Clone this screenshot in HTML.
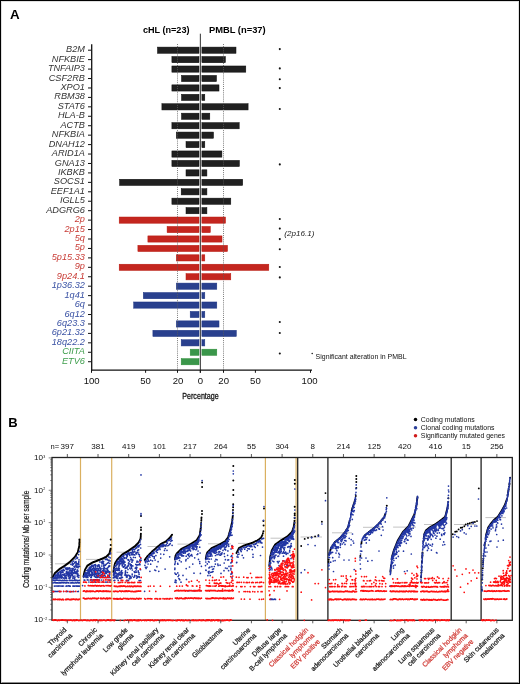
<!DOCTYPE html>
<html><head><meta charset="utf-8"><style>
html,body{margin:0;padding:0;background:#fff;}
body{width:520px;height:684px;overflow:hidden;position:relative;font-family:"Liberation Sans", sans-serif;}
svg{position:absolute;left:0;top:0;will-change:transform;}
svg text{font-family:"Liberation Sans", sans-serif;}
.frame{position:absolute;left:0;top:0;width:520px;height:684px;box-sizing:border-box;border:1px solid #000;}
.frame2{position:absolute;left:1px;top:1px;width:518px;height:682px;box-sizing:border-box;border:1px solid rgba(0,0,0,0.12);border-bottom-color:rgba(0,0,0,0.45);}
</style></head><body>
<svg width="520" height="684" viewBox="0 0 520 684">
<text x="10.00" y="18.90" font-size="13.4" text-anchor="start" font-weight="bold" font-style="normal" fill="#000" >A</text>
<text x="142.90" y="33.00" font-size="8.6" text-anchor="start" font-weight="bold" font-style="normal" fill="#000" textLength="46.6" lengthAdjust="spacingAndGlyphs">cHL (n=23)</text>
<text x="208.90" y="33.00" font-size="8.6" text-anchor="start" font-weight="bold" font-style="normal" fill="#000" textLength="56.8" lengthAdjust="spacingAndGlyphs">PMBL (n=37)</text>
<rect x="157.50" y="47.10" width="41.50" height="6.2" fill="#202020" stroke="#0a0a0a" stroke-width="0.5"/>
<rect x="201.9" y="47.10" width="34.10" height="6.2" fill="#202020" stroke="#0a0a0a" stroke-width="0.5"/>
<text transform="translate(84.90 52.25) scale(1.02 1)" font-size="9.0" text-anchor="end" font-weight="normal" font-style="italic" fill="#333333">B2M</text>
<rect x="171.90" y="56.54" width="27.10" height="6.2" fill="#202020" stroke="#0a0a0a" stroke-width="0.5"/>
<rect x="201.9" y="56.54" width="23.50" height="6.2" fill="#202020" stroke="#0a0a0a" stroke-width="0.5"/>
<text transform="translate(84.90 61.69) scale(1.02 1)" font-size="9.0" text-anchor="end" font-weight="normal" font-style="italic" fill="#333333">NFKBIE</text>
<rect x="171.90" y="65.98" width="27.10" height="6.2" fill="#202020" stroke="#0a0a0a" stroke-width="0.5"/>
<rect x="201.9" y="65.98" width="43.90" height="6.2" fill="#202020" stroke="#0a0a0a" stroke-width="0.5"/>
<text transform="translate(84.90 71.13) scale(1.02 1)" font-size="9.0" text-anchor="end" font-weight="normal" font-style="italic" fill="#333333">TNFAIP3</text>
<rect x="181.50" y="75.42" width="17.50" height="6.2" fill="#202020" stroke="#0a0a0a" stroke-width="0.5"/>
<rect x="201.9" y="75.42" width="14.60" height="6.2" fill="#202020" stroke="#0a0a0a" stroke-width="0.5"/>
<text transform="translate(84.90 80.57) scale(1.02 1)" font-size="9.0" text-anchor="end" font-weight="normal" font-style="italic" fill="#333333">CSF2RB</text>
<rect x="171.90" y="84.86" width="27.10" height="6.2" fill="#202020" stroke="#0a0a0a" stroke-width="0.5"/>
<rect x="201.9" y="84.86" width="17.10" height="6.2" fill="#202020" stroke="#0a0a0a" stroke-width="0.5"/>
<text transform="translate(84.90 90.01) scale(1.02 1)" font-size="9.0" text-anchor="end" font-weight="normal" font-style="italic" fill="#333333">XPO1</text>
<rect x="181.50" y="94.30" width="17.50" height="6.2" fill="#202020" stroke="#0a0a0a" stroke-width="0.5"/>
<rect x="201.9" y="94.30" width="2.90" height="6.2" fill="#202020" stroke="#0a0a0a" stroke-width="0.5"/>
<text transform="translate(84.90 99.45) scale(1.02 1)" font-size="9.0" text-anchor="end" font-weight="normal" font-style="italic" fill="#333333">RBM38</text>
<rect x="161.90" y="103.74" width="37.10" height="6.2" fill="#202020" stroke="#0a0a0a" stroke-width="0.5"/>
<rect x="201.9" y="103.74" width="46.20" height="6.2" fill="#202020" stroke="#0a0a0a" stroke-width="0.5"/>
<text transform="translate(84.90 108.89) scale(1.02 1)" font-size="9.0" text-anchor="end" font-weight="normal" font-style="italic" fill="#333333">STAT6</text>
<rect x="181.50" y="113.18" width="17.50" height="6.2" fill="#202020" stroke="#0a0a0a" stroke-width="0.5"/>
<rect x="201.9" y="113.18" width="7.90" height="6.2" fill="#202020" stroke="#0a0a0a" stroke-width="0.5"/>
<text transform="translate(84.90 118.33) scale(1.02 1)" font-size="9.0" text-anchor="end" font-weight="normal" font-style="italic" fill="#333333">HLA-B</text>
<rect x="171.90" y="122.62" width="27.10" height="6.2" fill="#202020" stroke="#0a0a0a" stroke-width="0.5"/>
<rect x="201.9" y="122.62" width="37.30" height="6.2" fill="#202020" stroke="#0a0a0a" stroke-width="0.5"/>
<text transform="translate(84.90 127.77) scale(1.02 1)" font-size="9.0" text-anchor="end" font-weight="normal" font-style="italic" fill="#333333">ACTB</text>
<rect x="176.30" y="132.06" width="22.70" height="6.2" fill="#202020" stroke="#0a0a0a" stroke-width="0.5"/>
<rect x="201.9" y="132.06" width="11.60" height="6.2" fill="#202020" stroke="#0a0a0a" stroke-width="0.5"/>
<text transform="translate(84.90 137.21) scale(1.02 1)" font-size="9.0" text-anchor="end" font-weight="normal" font-style="italic" fill="#333333">NFKBIA</text>
<rect x="186.00" y="141.50" width="13.00" height="6.2" fill="#202020" stroke="#0a0a0a" stroke-width="0.5"/>
<rect x="201.9" y="141.50" width="2.90" height="6.2" fill="#202020" stroke="#0a0a0a" stroke-width="0.5"/>
<text transform="translate(84.90 146.65) scale(1.02 1)" font-size="9.0" text-anchor="end" font-weight="normal" font-style="italic" fill="#333333">DNAH12</text>
<rect x="171.90" y="150.94" width="27.10" height="6.2" fill="#202020" stroke="#0a0a0a" stroke-width="0.5"/>
<rect x="201.9" y="150.94" width="20.00" height="6.2" fill="#202020" stroke="#0a0a0a" stroke-width="0.5"/>
<text transform="translate(84.90 156.09) scale(1.02 1)" font-size="9.0" text-anchor="end" font-weight="normal" font-style="italic" fill="#333333">ARID1A</text>
<rect x="171.90" y="160.38" width="27.10" height="6.2" fill="#202020" stroke="#0a0a0a" stroke-width="0.5"/>
<rect x="201.9" y="160.38" width="37.50" height="6.2" fill="#202020" stroke="#0a0a0a" stroke-width="0.5"/>
<text transform="translate(84.90 165.53) scale(1.02 1)" font-size="9.0" text-anchor="end" font-weight="normal" font-style="italic" fill="#333333">GNA13</text>
<rect x="186.00" y="169.82" width="13.00" height="6.2" fill="#202020" stroke="#0a0a0a" stroke-width="0.5"/>
<rect x="201.9" y="169.82" width="5.00" height="6.2" fill="#202020" stroke="#0a0a0a" stroke-width="0.5"/>
<text transform="translate(84.90 174.97) scale(1.02 1)" font-size="9.0" text-anchor="end" font-weight="normal" font-style="italic" fill="#333333">IKBKB</text>
<rect x="119.60" y="179.26" width="79.40" height="6.2" fill="#202020" stroke="#0a0a0a" stroke-width="0.5"/>
<rect x="201.9" y="179.26" width="40.80" height="6.2" fill="#202020" stroke="#0a0a0a" stroke-width="0.5"/>
<text transform="translate(84.90 184.41) scale(1.02 1)" font-size="9.0" text-anchor="end" font-weight="normal" font-style="italic" fill="#333333">SOCS1</text>
<rect x="181.20" y="188.70" width="17.80" height="6.2" fill="#202020" stroke="#0a0a0a" stroke-width="0.5"/>
<rect x="201.9" y="188.70" width="5.00" height="6.2" fill="#202020" stroke="#0a0a0a" stroke-width="0.5"/>
<text transform="translate(84.90 193.85) scale(1.02 1)" font-size="9.0" text-anchor="end" font-weight="normal" font-style="italic" fill="#333333">EEF1A1</text>
<rect x="171.90" y="198.14" width="27.10" height="6.2" fill="#202020" stroke="#0a0a0a" stroke-width="0.5"/>
<rect x="201.9" y="198.14" width="28.90" height="6.2" fill="#202020" stroke="#0a0a0a" stroke-width="0.5"/>
<text transform="translate(84.90 203.29) scale(1.02 1)" font-size="9.0" text-anchor="end" font-weight="normal" font-style="italic" fill="#333333">IGLL5</text>
<rect x="186.00" y="207.58" width="13.00" height="6.2" fill="#202020" stroke="#0a0a0a" stroke-width="0.5"/>
<rect x="201.9" y="207.58" width="5.00" height="6.2" fill="#202020" stroke="#0a0a0a" stroke-width="0.5"/>
<text transform="translate(84.90 212.73) scale(1.02 1)" font-size="9.0" text-anchor="end" font-weight="normal" font-style="italic" fill="#333333">ADGRG6</text>
<rect x="119.20" y="217.02" width="79.80" height="6.2" fill="#c4261f" stroke="#b8160c" stroke-width="0.5"/>
<rect x="201.9" y="217.02" width="23.60" height="6.2" fill="#c4261f" stroke="#b8160c" stroke-width="0.5"/>
<text transform="translate(84.90 222.17) scale(1.02 1)" font-size="9.0" text-anchor="end" font-weight="normal" font-style="italic" fill="#c83a34">2p</text>
<rect x="167.10" y="226.46" width="31.90" height="6.2" fill="#c4261f" stroke="#b8160c" stroke-width="0.5"/>
<rect x="201.9" y="226.46" width="8.40" height="6.2" fill="#c4261f" stroke="#b8160c" stroke-width="0.5"/>
<text transform="translate(84.90 231.61) scale(1.02 1)" font-size="9.0" text-anchor="end" font-weight="normal" font-style="italic" fill="#c83a34">2p15</text>
<rect x="147.90" y="235.90" width="51.10" height="6.2" fill="#c4261f" stroke="#b8160c" stroke-width="0.5"/>
<rect x="201.9" y="235.90" width="20.10" height="6.2" fill="#c4261f" stroke="#b8160c" stroke-width="0.5"/>
<text transform="translate(84.90 241.05) scale(1.02 1)" font-size="9.0" text-anchor="end" font-weight="normal" font-style="italic" fill="#c83a34">5q</text>
<rect x="137.90" y="245.34" width="61.10" height="6.2" fill="#c4261f" stroke="#b8160c" stroke-width="0.5"/>
<rect x="201.9" y="245.34" width="25.60" height="6.2" fill="#c4261f" stroke="#b8160c" stroke-width="0.5"/>
<text transform="translate(84.90 250.49) scale(1.02 1)" font-size="9.0" text-anchor="end" font-weight="normal" font-style="italic" fill="#c83a34">5p</text>
<rect x="176.30" y="254.78" width="22.70" height="6.2" fill="#c4261f" stroke="#b8160c" stroke-width="0.5"/>
<rect x="201.9" y="254.78" width="2.90" height="6.2" fill="#c4261f" stroke="#b8160c" stroke-width="0.5"/>
<text transform="translate(84.90 259.93) scale(1.02 1)" font-size="9.0" text-anchor="end" font-weight="normal" font-style="italic" fill="#c83a34">5p15.33</text>
<rect x="119.20" y="264.22" width="79.80" height="6.2" fill="#c4261f" stroke="#b8160c" stroke-width="0.5"/>
<rect x="201.9" y="264.22" width="66.90" height="6.2" fill="#c4261f" stroke="#b8160c" stroke-width="0.5"/>
<text transform="translate(84.90 269.37) scale(1.02 1)" font-size="9.0" text-anchor="end" font-weight="normal" font-style="italic" fill="#c83a34">9p</text>
<rect x="186.00" y="273.66" width="13.00" height="6.2" fill="#c4261f" stroke="#b8160c" stroke-width="0.5"/>
<rect x="201.9" y="273.66" width="28.90" height="6.2" fill="#c4261f" stroke="#b8160c" stroke-width="0.5"/>
<text transform="translate(84.90 278.81) scale(1.02 1)" font-size="9.0" text-anchor="end" font-weight="normal" font-style="italic" fill="#c83a34">9p24.1</text>
<rect x="176.30" y="283.10" width="22.70" height="6.2" fill="#29408e" stroke="#1b3282" stroke-width="0.5"/>
<rect x="201.9" y="283.10" width="14.90" height="6.2" fill="#29408e" stroke="#1b3282" stroke-width="0.5"/>
<text transform="translate(84.90 288.25) scale(1.02 1)" font-size="9.0" text-anchor="end" font-weight="normal" font-style="italic" fill="#3a52a4">1p36.32</text>
<rect x="143.30" y="292.54" width="55.70" height="6.2" fill="#29408e" stroke="#1b3282" stroke-width="0.5"/>
<rect x="201.9" y="292.54" width="2.90" height="6.2" fill="#29408e" stroke="#1b3282" stroke-width="0.5"/>
<text transform="translate(84.90 297.69) scale(1.02 1)" font-size="9.0" text-anchor="end" font-weight="normal" font-style="italic" fill="#3a52a4">1q41</text>
<rect x="133.70" y="301.98" width="65.30" height="6.2" fill="#29408e" stroke="#1b3282" stroke-width="0.5"/>
<rect x="201.9" y="301.98" width="14.90" height="6.2" fill="#29408e" stroke="#1b3282" stroke-width="0.5"/>
<text transform="translate(84.90 307.13) scale(1.02 1)" font-size="9.0" text-anchor="end" font-weight="normal" font-style="italic" fill="#3a52a4">6q</text>
<rect x="190.20" y="311.42" width="8.80" height="6.2" fill="#29408e" stroke="#1b3282" stroke-width="0.5"/>
<rect x="201.9" y="311.42" width="2.90" height="6.2" fill="#29408e" stroke="#1b3282" stroke-width="0.5"/>
<text transform="translate(84.90 316.57) scale(1.02 1)" font-size="9.0" text-anchor="end" font-weight="normal" font-style="italic" fill="#3a52a4">6q12</text>
<rect x="176.30" y="320.86" width="22.70" height="6.2" fill="#29408e" stroke="#1b3282" stroke-width="0.5"/>
<rect x="201.9" y="320.86" width="17.10" height="6.2" fill="#29408e" stroke="#1b3282" stroke-width="0.5"/>
<text transform="translate(84.90 326.01) scale(1.02 1)" font-size="9.0" text-anchor="end" font-weight="normal" font-style="italic" fill="#3a52a4">6q23.3</text>
<rect x="152.90" y="330.30" width="46.10" height="6.2" fill="#29408e" stroke="#1b3282" stroke-width="0.5"/>
<rect x="201.9" y="330.30" width="34.40" height="6.2" fill="#29408e" stroke="#1b3282" stroke-width="0.5"/>
<text transform="translate(84.90 335.45) scale(1.02 1)" font-size="9.0" text-anchor="end" font-weight="normal" font-style="italic" fill="#3a52a4">6p21.32</text>
<rect x="181.20" y="339.74" width="17.80" height="6.2" fill="#29408e" stroke="#1b3282" stroke-width="0.5"/>
<rect x="201.9" y="339.74" width="2.90" height="6.2" fill="#29408e" stroke="#1b3282" stroke-width="0.5"/>
<text transform="translate(84.90 344.89) scale(1.02 1)" font-size="9.0" text-anchor="end" font-weight="normal" font-style="italic" fill="#3a52a4">18q22.2</text>
<rect x="190.20" y="349.18" width="8.80" height="6.2" fill="#3a964a" stroke="#2a8c35" stroke-width="0.5"/>
<rect x="201.9" y="349.18" width="14.90" height="6.2" fill="#3a964a" stroke="#2a8c35" stroke-width="0.5"/>
<text transform="translate(84.90 354.33) scale(1.02 1)" font-size="9.0" text-anchor="end" font-weight="normal" font-style="italic" fill="#3e9e4c">CIITA</text>
<rect x="181.20" y="358.62" width="17.80" height="6.2" fill="#3a964a" stroke="#2a8c35" stroke-width="0.5"/>
<text transform="translate(84.90 363.77) scale(1.02 1)" font-size="9.0" text-anchor="end" font-weight="normal" font-style="italic" fill="#3e9e4c">ETV6</text>
<circle cx="279.8" cy="49.1" r="1.05" fill="#111"/>
<circle cx="279.8" cy="68.4" r="1.05" fill="#111"/>
<circle cx="279.8" cy="79.3" r="1.05" fill="#111"/>
<circle cx="279.8" cy="88.1" r="1.05" fill="#111"/>
<circle cx="279.8" cy="109.0" r="1.05" fill="#111"/>
<circle cx="279.8" cy="164.4" r="1.05" fill="#111"/>
<circle cx="279.8" cy="219.0" r="1.05" fill="#111"/>
<circle cx="279.8" cy="228.6" r="1.05" fill="#111"/>
<circle cx="279.8" cy="239.1" r="1.05" fill="#111"/>
<circle cx="279.8" cy="249.3" r="1.05" fill="#111"/>
<circle cx="279.8" cy="267.0" r="1.05" fill="#111"/>
<circle cx="279.8" cy="277.4" r="1.05" fill="#111"/>
<circle cx="279.8" cy="322.0" r="1.05" fill="#111"/>
<circle cx="279.8" cy="333.0" r="1.05" fill="#111"/>
<circle cx="279.8" cy="353.5" r="1.05" fill="#111"/>
<path d="M177.5 44V370M223.5 44V370" stroke="#5a5a5a" stroke-width="0.8" stroke-dasharray="1 1.1" fill="none"/>
<path d="M88 50.20H91M88 59.64H91M88 69.08H91M88 78.52H91M88 87.96H91M88 97.40H91M88 106.84H91M88 116.28H91M88 125.72H91M88 135.16H91M88 144.60H91M88 154.04H91M88 163.48H91M88 172.92H91M88 182.36H91M88 191.80H91M88 201.24H91M88 210.68H91M88 220.12H91M88 229.56H91M88 239.00H91M88 248.44H91M88 257.88H91M88 267.32H91M88 276.76H91M88 286.20H91M88 295.64H91M88 305.08H91M88 314.52H91M88 323.96H91M88 333.40H91M88 342.84H91M88 352.28H91M88 361.72H91" stroke="#111" stroke-width="1" fill="none"/>
<path d="M91.7 44.3V370.6" stroke="#111" stroke-width="1.3" fill="none"/>
<path d="M200.35 33.7V372.8" stroke="#1a1a1a" stroke-width="0.9" fill="none"/>
<path d="M91 370.1H312" stroke="#111" stroke-width="1.3" fill="none"/>
<path d="M91.5 370V372.8M145.6 370V372.8M177.5 370V372.8M200.3 370V372.8M223.5 370V372.8M255.4 370V372.8M310.5 370V372.8" stroke="#111" stroke-width="1" fill="none"/>
<text transform="translate(91.70 384.30) scale(1.13 1)" font-size="8.5" text-anchor="middle" font-weight="normal" font-style="normal" fill="#111">100</text>
<text transform="translate(145.50 384.30) scale(1.13 1)" font-size="8.5" text-anchor="middle" font-weight="normal" font-style="normal" fill="#111">50</text>
<text transform="translate(178.00 384.30) scale(1.13 1)" font-size="8.5" text-anchor="middle" font-weight="normal" font-style="normal" fill="#111">20</text>
<text transform="translate(200.40 384.30) scale(1.13 1)" font-size="8.5" text-anchor="middle" font-weight="normal" font-style="normal" fill="#111">0</text>
<text transform="translate(223.70 384.30) scale(1.13 1)" font-size="8.5" text-anchor="middle" font-weight="normal" font-style="normal" fill="#111">20</text>
<text transform="translate(255.40 384.30) scale(1.13 1)" font-size="8.5" text-anchor="middle" font-weight="normal" font-style="normal" fill="#111">50</text>
<text transform="translate(309.60 384.30) scale(1.13 1)" font-size="8.5" text-anchor="middle" font-weight="normal" font-style="normal" fill="#111">100</text>
<text x="200.50" y="398.60" font-size="9.6" text-anchor="middle" font-weight="normal" font-style="normal" fill="#111" textLength="36.5" lengthAdjust="spacingAndGlyphs" stroke="#111" stroke-width="0.3">Percentage</text>
<text transform="translate(284.30 235.80) scale(1.09 1)" font-size="7.4" text-anchor="start" font-weight="normal" font-style="italic" fill="#222">(2p16.1)</text>
<circle cx="312.2" cy="353.6" r="0.75" fill="#111"/>
<text x="315.60" y="358.60" font-size="7.2" text-anchor="start" font-weight="normal" font-style="normal" fill="#111" textLength="91" lengthAdjust="spacingAndGlyphs">Significant alteration in PMBL</text>
<text x="8.20" y="427.30" font-size="13.0" text-anchor="start" font-weight="bold" font-style="normal" fill="#000" >B</text>
<text transform="translate(67.34 449.20) scale(1.22 1)" font-size="6.6" text-anchor="middle" font-weight="normal" font-style="normal" fill="#111">397</text>
<text transform="translate(98.02 449.20) scale(1.22 1)" font-size="6.6" text-anchor="middle" font-weight="normal" font-style="normal" fill="#111">381</text>
<text transform="translate(128.70 449.20) scale(1.22 1)" font-size="6.6" text-anchor="middle" font-weight="normal" font-style="normal" fill="#111">419</text>
<text transform="translate(159.38 449.20) scale(1.22 1)" font-size="6.6" text-anchor="middle" font-weight="normal" font-style="normal" fill="#111">101</text>
<text transform="translate(190.06 449.20) scale(1.22 1)" font-size="6.6" text-anchor="middle" font-weight="normal" font-style="normal" fill="#111">217</text>
<text transform="translate(220.74 449.20) scale(1.22 1)" font-size="6.6" text-anchor="middle" font-weight="normal" font-style="normal" fill="#111">264</text>
<text transform="translate(251.42 449.20) scale(1.22 1)" font-size="6.6" text-anchor="middle" font-weight="normal" font-style="normal" fill="#111">55</text>
<text transform="translate(282.10 449.20) scale(1.22 1)" font-size="6.6" text-anchor="middle" font-weight="normal" font-style="normal" fill="#111">304</text>
<text transform="translate(312.78 449.20) scale(1.22 1)" font-size="6.6" text-anchor="middle" font-weight="normal" font-style="normal" fill="#111">8</text>
<text transform="translate(343.46 449.20) scale(1.22 1)" font-size="6.6" text-anchor="middle" font-weight="normal" font-style="normal" fill="#111">214</text>
<text transform="translate(374.14 449.20) scale(1.22 1)" font-size="6.6" text-anchor="middle" font-weight="normal" font-style="normal" fill="#111">125</text>
<text transform="translate(404.82 449.20) scale(1.22 1)" font-size="6.6" text-anchor="middle" font-weight="normal" font-style="normal" fill="#111">420</text>
<text transform="translate(435.50 449.20) scale(1.22 1)" font-size="6.6" text-anchor="middle" font-weight="normal" font-style="normal" fill="#111">416</text>
<text transform="translate(466.18 449.20) scale(1.22 1)" font-size="6.6" text-anchor="middle" font-weight="normal" font-style="normal" fill="#111">15</text>
<text transform="translate(496.86 449.20) scale(1.22 1)" font-size="6.6" text-anchor="middle" font-weight="normal" font-style="normal" fill="#111">256</text>
<text transform="translate(59.20 449.20) scale(1.15 1)" font-size="6.6" text-anchor="end" font-weight="normal" font-style="normal" fill="#111">n=</text>
<circle cx="415.5" cy="419.60" r="1.75" fill="#000"/>
<text x="420.80" y="422.10" font-size="7.2" text-anchor="start" font-weight="normal" font-style="normal" fill="#111" textLength="53.9" lengthAdjust="spacingAndGlyphs">Coding mutations</text>
<circle cx="415.5" cy="427.70" r="1.75" fill="#2a3f9a"/>
<text x="420.80" y="430.20" font-size="7.2" text-anchor="start" font-weight="normal" font-style="normal" fill="#111" textLength="73.7" lengthAdjust="spacingAndGlyphs">Clonal coding mutations</text>
<circle cx="415.5" cy="435.80" r="1.75" fill="#d01b1b"/>
<text x="420.80" y="438.30" font-size="7.2" text-anchor="start" font-weight="normal" font-style="normal" fill="#111" textLength="84.2" lengthAdjust="spacingAndGlyphs">Significantly mutated genes</text>
<path d="M80.5 458V620M111.7 458V620M265.4 458V620M296.1 458V620" stroke="#dab060" stroke-width="1.2" fill="none"/>
<path d="M297.7 457.5V620.3M327.9 457.5V620.3M451.2 457.5V620.3M481.1 457.5V620.3" stroke="#222" stroke-width="1.3" fill="none"/>
<rect x="52.0" y="457.5" width="460.30" height="162.80" fill="none" stroke="#222" stroke-width="1.3"/>
<path d="M55.0 563.8H79.0M86.0 559.4H110.0M116.5 552.2H140.0M147.5 546.5H168.0M177.5 544.1H200.0M208.0 543.8H231.0M238.0 543.4H262.0M270.5 538.2H293.0M300.6 537.0H322.0M332.0 532.8H352.0M363.0 527.3H384.0M393.1 527.1H416.0M424.0 524.5H444.0M454.0 524.5H476.4M485.4 517.6H506.0" stroke="#b4b4b4" stroke-width="0.8" fill="none"/>
<path d="M79.4 539.4h0M79.4 541.0h0M53.1 576.9h0M53.2 576.8h0M53.2 576.6h0M53.3 576.5h0M53.4 576.4h0M53.4 576.2h0M53.5 576.1h0M53.6 576.0h0M53.6 575.8h0M53.7 575.7h0M53.8 575.6h0M53.8 575.4h0M53.9 575.3h0M54.0 575.2h0M54.0 575.0h0M54.1 574.9h0M54.2 574.8h0M54.2 574.6h0M54.3 574.5h0M54.4 574.4h0M54.4 574.2h0M54.5 574.1h0M54.6 574.0h0M54.6 573.8h0M54.7 573.7h0M54.8 573.6h0M54.8 573.4h0M54.9 573.3h0M55.0 573.2h0M55.0 573.1h0M55.1 573.0h0M55.2 573.0h0M55.2 572.9h0M55.3 572.8h0M55.4 572.8h0M55.4 572.7h0M55.5 572.7h0M55.6 572.6h0M55.6 572.6h0M55.7 572.5h0M55.8 572.4h0M55.8 572.4h0M55.9 572.3h0M56.0 572.3h0M56.0 572.2h0M56.1 572.2h0M56.2 572.1h0M56.2 572.0h0M56.3 572.0h0M56.4 571.9h0M56.4 571.9h0M56.5 571.8h0M56.6 571.7h0M56.6 571.7h0M56.7 571.6h0M56.8 571.6h0M56.8 571.5h0M56.9 571.5h0M57.0 571.4h0M57.0 571.3h0M57.1 571.3h0M57.2 571.2h0M57.2 571.2h0M57.3 571.1h0M57.4 571.1h0M57.4 571.0h0M57.5 570.9h0M57.5 570.9h0M57.6 570.8h0M57.7 570.8h0M57.7 570.7h0M57.8 570.7h0M57.9 570.6h0M57.9 570.5h0M58.0 570.5h0M58.1 570.4h0M58.1 570.4h0M58.2 570.3h0M58.3 570.2h0M58.3 570.2h0M58.4 570.1h0M58.5 570.1h0M58.5 570.0h0M58.6 570.0h0M58.7 569.9h0M58.7 569.8h0M58.8 569.8h0M58.9 569.7h0M58.9 569.7h0M59.0 569.6h0M59.1 569.6h0M59.1 569.5h0M59.2 569.4h0M59.3 569.4h0M59.3 569.3h0M59.4 569.3h0M59.5 569.2h0M59.5 569.1h0M59.6 569.1h0M59.7 569.0h0M59.7 569.0h0M59.8 568.9h0M59.9 568.9h0M59.9 568.8h0M60.0 568.7h0M60.1 568.7h0M60.1 568.7h0M60.2 568.6h0M60.3 568.6h0M60.3 568.5h0M60.4 568.5h0M60.5 568.5h0M60.5 568.4h0M60.6 568.4h0M60.7 568.3h0M60.7 568.3h0M60.8 568.2h0M60.9 568.2h0M60.9 568.2h0M61.0 568.1h0M61.1 568.1h0M61.1 568.0h0M61.2 568.0h0M61.3 568.0h0M61.3 567.9h0M61.4 567.9h0M61.5 567.8h0M61.5 567.8h0M61.6 567.7h0M61.7 567.7h0M61.7 567.7h0M61.8 567.6h0M61.9 567.6h0M61.9 567.5h0M62.0 567.5h0M62.1 567.4h0M62.1 567.4h0M62.2 567.4h0M62.3 567.3h0M62.3 567.3h0M62.4 567.2h0M62.5 567.2h0M62.5 567.2h0M62.6 567.1h0M62.7 567.1h0M62.7 567.0h0M62.8 567.0h0M62.9 566.9h0M62.9 566.9h0M63.0 566.9h0M63.1 566.8h0M63.1 566.8h0M63.2 566.7h0M63.3 566.7h0M63.3 566.7h0M63.4 566.6h0M63.5 566.6h0M63.5 566.5h0M63.6 566.5h0M63.7 566.4h0M63.7 566.4h0M63.8 566.4h0M63.9 566.3h0M63.9 566.3h0M64.0 566.2h0M64.1 566.2h0M64.1 566.2h0M64.2 566.1h0M64.3 566.1h0M64.3 566.0h0M64.4 566.0h0M64.5 565.9h0M64.5 565.9h0M64.6 565.9h0M64.7 565.8h0M64.7 565.8h0M64.8 565.7h0M64.9 565.7h0M64.9 565.6h0M65.0 565.6h0M65.1 565.6h0M65.1 565.5h0M65.2 565.5h0M65.3 565.4h0M65.3 565.4h0M65.4 565.3h0M65.5 565.3h0M65.5 565.2h0M65.6 565.2h0M65.7 565.1h0M65.7 565.1h0M65.8 565.0h0M65.9 565.0h0M65.9 564.9h0M66.0 564.9h0M66.1 564.8h0M66.1 564.8h0M66.2 564.7h0M66.2 564.7h0M66.3 564.6h0M66.4 564.6h0M66.4 564.5h0M66.5 564.5h0M66.6 564.4h0M66.6 564.4h0M66.7 564.3h0M66.8 564.3h0M66.8 564.2h0M66.9 564.2h0M67.0 564.1h0M67.0 564.1h0M67.1 564.0h0M67.2 564.0h0M67.2 563.9h0M67.3 563.9h0M67.4 563.8h0M67.4 563.8h0M67.5 563.7h0M67.6 563.7h0M67.6 563.6h0M67.7 563.6h0M67.8 563.5h0M67.8 563.5h0M67.9 563.4h0M68.0 563.4h0M68.0 563.3h0M68.1 563.3h0M68.2 563.2h0M68.2 563.2h0M68.3 563.2h0M68.4 563.1h0M68.4 563.1h0M68.5 563.0h0M68.6 563.0h0M68.6 562.9h0M68.7 562.9h0M68.8 562.8h0M68.8 562.8h0M68.9 562.7h0M69.0 562.7h0M69.0 562.6h0M69.1 562.6h0M69.2 562.5h0M69.2 562.5h0M69.3 562.4h0M69.4 562.4h0M69.4 562.3h0M69.5 562.3h0M69.6 562.2h0M69.6 562.2h0M69.7 562.1h0M69.8 562.1h0M69.8 562.0h0M69.9 562.0h0M70.0 561.9h0M70.0 561.9h0M70.1 561.8h0M70.2 561.7h0M70.2 561.7h0M70.3 561.6h0M70.4 561.5h0M70.4 561.5h0M70.5 561.4h0M70.6 561.3h0M70.6 561.3h0M70.7 561.2h0M70.8 561.1h0M70.8 561.1h0M70.9 561.0h0M71.0 560.9h0M71.0 560.9h0M71.1 560.8h0M71.2 560.7h0M71.2 560.7h0M71.3 560.6h0M71.4 560.5h0M71.4 560.5h0M71.5 560.4h0M71.6 560.3h0M71.6 560.3h0M71.7 560.2h0M71.8 560.1h0M71.8 560.1h0M71.9 560.0h0M72.0 559.9h0M72.0 559.9h0M72.1 559.8h0M72.2 559.7h0M72.2 559.7h0M72.3 559.6h0M72.4 559.5h0M72.4 559.5h0M72.5 559.4h0M72.6 559.3h0M72.6 559.3h0M72.7 559.2h0M72.8 559.1h0M72.8 559.1h0M72.9 559.0h0M73.0 558.9h0M73.0 558.9h0M73.1 558.8h0M73.2 558.7h0M73.2 558.7h0M73.3 558.6h0M73.4 558.5h0M73.4 558.5h0M73.5 558.4h0M73.6 558.3h0M73.6 558.3h0M73.7 558.2h0M73.8 558.1h0M73.8 558.1h0M73.9 558.0h0M74.0 557.9h0M74.0 557.9h0M74.1 557.8h0M74.2 557.7h0M74.2 557.7h0M74.3 557.6h0M74.4 557.5h0M74.4 557.5h0M74.5 557.4h0M74.6 557.3h0M74.6 557.3h0M74.7 557.2h0M74.8 557.1h0M74.8 557.1h0M74.9 557.0h0M75.0 556.9h0M75.0 556.9h0M75.1 556.8h0M75.1 556.7h0M75.2 556.6h0M75.3 556.4h0M75.3 556.3h0M75.4 556.2h0M75.5 556.1h0M75.5 556.0h0M75.6 555.9h0M75.7 555.8h0M75.7 555.7h0M75.8 555.6h0M75.9 555.5h0M75.9 555.4h0M76.0 555.3h0M76.1 555.2h0M76.1 555.1h0M76.2 555.0h0M76.3 554.9h0M76.3 554.7h0M76.4 554.6h0M76.5 554.5h0M76.5 554.4h0M76.6 554.3h0M76.7 554.2h0M76.7 554.1h0M76.8 554.0h0M76.9 553.9h0M76.9 553.8h0M77.0 553.7h0M77.1 553.6h0M77.1 553.5h0M77.2 553.4h0M77.3 553.3h0M77.3 553.2h0M77.4 553.0h0M77.5 552.9h0M77.5 552.8h0M77.6 552.7h0M77.7 552.6h0M77.7 552.5h0M77.8 552.3h0M77.9 552.0h0M77.9 551.7h0M78.0 551.4h0M78.1 551.1h0M78.1 550.8h0M78.2 550.5h0M78.3 550.3h0M78.3 550.0h0M78.4 549.7h0M78.5 549.4h0M78.5 549.1h0M78.6 548.8h0M78.7 548.5h0M78.7 548.3h0M78.8 548.0h0M78.9 547.7h0M78.9 547.4h0M79.0 547.1h0M79.1 546.8h0M79.1 546.5h0M79.2 546.2h0M79.3 545.0h0M79.3 543.7h0M79.4 542.5h0M110.7 539.4h0M110.7 545.0h0M83.5 576.5h0M83.6 576.1h0M83.6 575.8h0M83.7 575.4h0M83.8 575.1h0M83.9 574.7h0M83.9 574.4h0M84.0 574.0h0M84.1 573.6h0M84.1 573.3h0M84.2 573.0h0M84.3 572.7h0M84.4 572.4h0M84.4 572.1h0M84.5 571.9h0M84.6 571.6h0M84.6 571.3h0M84.7 571.1h0M84.8 570.8h0M84.9 570.5h0M84.9 570.3h0M85.0 570.0h0M85.1 569.9h0M85.1 569.8h0M85.2 569.6h0M85.3 569.5h0M85.4 569.4h0M85.4 569.3h0M85.5 569.1h0M85.6 569.0h0M85.6 568.9h0M85.7 568.7h0M85.8 568.6h0M85.9 568.5h0M85.9 568.4h0M86.0 568.2h0M86.1 568.1h0M86.1 568.0h0M86.2 567.9h0M86.3 567.7h0M86.4 567.6h0M86.4 567.5h0M86.5 567.4h0M86.6 567.2h0M86.6 567.1h0M86.7 567.0h0M86.8 566.9h0M86.9 566.7h0M86.9 566.6h0M87.0 566.5h0M87.1 566.4h0M87.1 566.2h0M87.2 566.1h0M87.3 566.0h0M87.4 565.9h0M87.4 565.7h0M87.5 565.6h0M87.6 565.6h0M87.6 565.5h0M87.7 565.5h0M87.8 565.4h0M87.9 565.4h0M87.9 565.3h0M88.0 565.3h0M88.1 565.3h0M88.1 565.2h0M88.2 565.2h0M88.3 565.1h0M88.3 565.1h0M88.4 565.0h0M88.5 565.0h0M88.6 564.9h0M88.6 564.9h0M88.7 564.9h0M88.8 564.8h0M88.8 564.8h0M88.9 564.7h0M89.0 564.7h0M89.1 564.6h0M89.1 564.6h0M89.2 564.5h0M89.3 564.5h0M89.3 564.5h0M89.4 564.4h0M89.5 564.4h0M89.6 564.3h0M89.6 564.3h0M89.7 564.2h0M89.8 564.2h0M89.8 564.1h0M89.9 564.1h0M90.0 564.1h0M90.1 564.0h0M90.1 564.0h0M90.2 563.9h0M90.3 563.9h0M90.3 563.8h0M90.4 563.8h0M90.5 563.7h0M90.6 563.7h0M90.6 563.7h0M90.7 563.6h0M90.8 563.6h0M90.8 563.5h0M90.9 563.5h0M91.0 563.4h0M91.1 563.4h0M91.1 563.3h0M91.2 563.3h0M91.3 563.3h0M91.3 563.2h0M91.4 563.2h0M91.5 563.1h0M91.6 563.1h0M91.6 563.0h0M91.7 563.0h0M91.8 563.0h0M91.8 562.9h0M91.9 562.9h0M92.0 562.8h0M92.1 562.8h0M92.1 562.7h0M92.2 562.7h0M92.3 562.6h0M92.3 562.6h0M92.4 562.6h0M92.5 562.5h0M92.6 562.5h0M92.6 562.5h0M92.7 562.4h0M92.8 562.4h0M92.8 562.4h0M92.9 562.3h0M93.0 562.3h0M93.1 562.3h0M93.1 562.3h0M93.2 562.2h0M93.3 562.2h0M93.3 562.2h0M93.4 562.1h0M93.5 562.1h0M93.6 562.1h0M93.6 562.1h0M93.7 562.0h0M93.8 562.0h0M93.8 562.0h0M93.9 562.0h0M94.0 561.9h0M94.1 561.9h0M94.1 561.9h0M94.2 561.8h0M94.3 561.8h0M94.3 561.8h0M94.4 561.8h0M94.5 561.7h0M94.6 561.7h0M94.6 561.7h0M94.7 561.7h0M94.8 561.6h0M94.8 561.6h0M94.9 561.6h0M95.0 561.5h0M95.1 561.5h0M95.1 561.5h0M95.2 561.5h0M95.3 561.4h0M95.3 561.4h0M95.4 561.4h0M95.5 561.3h0M95.6 561.3h0M95.6 561.3h0M95.7 561.3h0M95.8 561.2h0M95.8 561.2h0M95.9 561.2h0M96.0 561.2h0M96.1 561.1h0M96.1 561.1h0M96.2 561.1h0M96.3 561.0h0M96.3 561.0h0M96.4 561.0h0M96.5 561.0h0M96.6 560.9h0M96.6 560.9h0M96.7 560.9h0M96.8 560.9h0M96.8 560.8h0M96.9 560.8h0M97.0 560.8h0M97.0 560.7h0M97.1 560.7h0M97.2 560.7h0M97.3 560.7h0M97.3 560.6h0M97.4 560.6h0M97.5 560.6h0M97.5 560.5h0M97.6 560.5h0M97.7 560.5h0M97.8 560.5h0M97.8 560.4h0M97.9 560.4h0M98.0 560.4h0M98.0 560.4h0M98.1 560.3h0M98.2 560.3h0M98.3 560.3h0M98.3 560.2h0M98.4 560.2h0M98.5 560.2h0M98.5 560.2h0M98.6 560.1h0M98.7 560.1h0M98.8 560.1h0M98.8 560.1h0M98.9 560.0h0M99.0 560.0h0M99.0 560.0h0M99.1 559.9h0M99.2 559.9h0M99.3 559.9h0M99.3 559.9h0M99.4 559.8h0M99.5 559.8h0M99.5 559.8h0M99.6 559.7h0M99.7 559.7h0M99.8 559.7h0M99.8 559.7h0M99.9 559.6h0M100.0 559.6h0M100.0 559.6h0M100.1 559.5h0M100.2 559.5h0M100.3 559.5h0M100.3 559.5h0M100.4 559.4h0M100.5 559.4h0M100.5 559.4h0M100.6 559.3h0M100.7 559.3h0M100.8 559.3h0M100.8 559.2h0M100.9 559.2h0M101.0 559.2h0M101.0 559.1h0M101.1 559.1h0M101.2 559.1h0M101.3 559.1h0M101.3 559.0h0M101.4 559.0h0M101.5 559.0h0M101.5 558.9h0M101.6 558.9h0M101.7 558.9h0M101.8 558.8h0M101.8 558.8h0M101.9 558.8h0M102.0 558.7h0M102.0 558.7h0M102.1 558.7h0M102.2 558.7h0M102.3 558.6h0M102.3 558.6h0M102.4 558.6h0M102.5 558.5h0M102.5 558.5h0M102.6 558.5h0M102.7 558.4h0M102.8 558.4h0M102.8 558.4h0M102.9 558.3h0M103.0 558.3h0M103.0 558.3h0M103.1 558.3h0M103.2 558.2h0M103.3 558.2h0M103.3 558.2h0M103.4 558.1h0M103.5 558.1h0M103.5 558.1h0M103.6 558.0h0M103.7 558.0h0M103.8 558.0h0M103.8 557.9h0M103.9 557.9h0M104.0 557.9h0M104.0 557.9h0M104.1 557.8h0M104.2 557.8h0M104.3 557.8h0M104.3 557.7h0M104.4 557.7h0M104.5 557.7h0M104.5 557.6h0M104.6 557.6h0M104.7 557.6h0M104.8 557.5h0M104.8 557.5h0M104.9 557.5h0M105.0 557.5h0M105.0 557.4h0M105.1 557.4h0M105.2 557.4h0M105.3 557.3h0M105.3 557.3h0M105.4 557.3h0M105.5 557.2h0M105.5 557.2h0M105.6 557.2h0M105.7 557.1h0M105.8 557.1h0M105.8 557.1h0M105.9 557.1h0M106.0 557.0h0M106.0 557.0h0M106.1 557.0h0M106.2 556.9h0M106.2 556.9h0M106.3 556.8h0M106.4 556.8h0M106.5 556.7h0M106.5 556.6h0M106.6 556.5h0M106.7 556.5h0M106.7 556.4h0M106.8 556.3h0M106.9 556.3h0M107.0 556.2h0M107.0 556.1h0M107.1 556.0h0M107.2 556.0h0M107.2 555.9h0M107.3 555.8h0M107.4 555.8h0M107.5 555.7h0M107.5 555.6h0M107.6 555.5h0M107.7 555.5h0M107.7 555.4h0M107.8 555.3h0M107.9 555.3h0M108.0 555.2h0M108.0 555.1h0M108.1 555.0h0M108.2 555.0h0M108.2 554.9h0M108.3 554.8h0M108.4 554.8h0M108.5 554.7h0M108.5 554.6h0M108.6 554.5h0M108.7 554.5h0M108.7 554.4h0M108.8 554.3h0M108.9 554.3h0M109.0 554.2h0M109.0 554.1h0M109.1 554.0h0M109.2 554.0h0M109.2 553.9h0M109.3 553.8h0M109.4 553.8h0M109.5 553.5h0M109.5 553.2h0M109.6 552.9h0M109.7 552.6h0M109.7 552.3h0M109.8 552.0h0M109.9 551.7h0M110.0 551.4h0M110.0 551.1h0M110.1 550.8h0M110.2 550.5h0M110.2 550.2h0M110.3 549.9h0M110.4 549.6h0M110.5 549.3h0M110.5 549.0h0M110.6 548.8h0M141.0 516.0h0M141.0 530.0h0M141.0 527.5h0M113.5 572.0h0M113.6 571.5h0M113.6 571.1h0M113.7 570.6h0M113.8 570.1h0M113.8 569.7h0M113.9 569.2h0M114.0 568.7h0M114.0 568.3h0M114.1 567.8h0M114.2 567.3h0M114.2 566.9h0M114.3 566.6h0M114.4 566.3h0M114.4 566.0h0M114.5 565.8h0M114.5 565.5h0M114.6 565.2h0M114.7 564.9h0M114.7 564.6h0M114.8 564.3h0M114.9 564.0h0M114.9 563.8h0M115.0 563.5h0M115.1 563.4h0M115.1 563.3h0M115.2 563.2h0M115.3 563.1h0M115.3 563.0h0M115.4 562.9h0M115.5 562.8h0M115.5 562.6h0M115.6 562.5h0M115.7 562.4h0M115.7 562.3h0M115.8 562.2h0M115.9 562.1h0M115.9 562.0h0M116.0 561.9h0M116.1 561.8h0M116.1 561.7h0M116.2 561.6h0M116.3 561.5h0M116.3 561.4h0M116.4 561.3h0M116.4 561.2h0M116.5 561.1h0M116.6 561.0h0M116.6 560.9h0M116.7 560.8h0M116.8 560.7h0M116.8 560.6h0M116.9 560.4h0M117.0 560.3h0M117.0 560.2h0M117.1 560.1h0M117.2 560.0h0M117.2 559.9h0M117.3 559.8h0M117.4 559.7h0M117.4 559.6h0M117.5 559.5h0M117.6 559.4h0M117.6 559.4h0M117.7 559.3h0M117.8 559.2h0M117.8 559.2h0M117.9 559.1h0M118.0 559.0h0M118.0 559.0h0M118.1 558.9h0M118.2 558.8h0M118.2 558.8h0M118.3 558.7h0M118.4 558.6h0M118.4 558.6h0M118.5 558.5h0M118.5 558.4h0M118.6 558.4h0M118.7 558.3h0M118.7 558.2h0M118.8 558.2h0M118.9 558.1h0M118.9 558.0h0M119.0 558.0h0M119.1 557.9h0M119.1 557.8h0M119.2 557.8h0M119.3 557.7h0M119.3 557.6h0M119.4 557.6h0M119.5 557.5h0M119.5 557.4h0M119.6 557.4h0M119.7 557.3h0M119.7 557.2h0M119.8 557.2h0M119.9 557.1h0M119.9 557.0h0M120.0 557.0h0M120.1 556.9h0M120.1 556.8h0M120.2 556.8h0M120.3 556.7h0M120.3 556.6h0M120.4 556.6h0M120.4 556.5h0M120.5 556.4h0M120.6 556.4h0M120.6 556.3h0M120.7 556.2h0M120.8 556.2h0M120.8 556.1h0M120.9 556.0h0M121.0 556.0h0M121.0 555.9h0M121.1 555.8h0M121.2 555.8h0M121.2 555.7h0M121.3 555.6h0M121.4 555.6h0M121.4 555.5h0M121.5 555.4h0M121.6 555.4h0M121.6 555.3h0M121.7 555.2h0M121.8 555.2h0M121.8 555.1h0M121.9 555.0h0M122.0 555.0h0M122.0 554.9h0M122.1 554.8h0M122.2 554.8h0M122.2 554.7h0M122.3 554.6h0M122.3 554.6h0M122.4 554.5h0M122.5 554.4h0M122.5 554.4h0M122.6 554.3h0M122.7 554.3h0M122.7 554.3h0M122.8 554.2h0M122.9 554.2h0M122.9 554.1h0M123.0 554.1h0M123.1 554.1h0M123.1 554.0h0M123.2 554.0h0M123.3 553.9h0M123.3 553.9h0M123.4 553.9h0M123.5 553.8h0M123.5 553.8h0M123.6 553.7h0M123.7 553.7h0M123.7 553.7h0M123.8 553.6h0M123.9 553.6h0M123.9 553.5h0M124.0 553.5h0M124.1 553.5h0M124.1 553.4h0M124.2 553.4h0M124.3 553.3h0M124.3 553.3h0M124.4 553.3h0M124.4 553.2h0M124.5 553.2h0M124.6 553.1h0M124.6 553.1h0M124.7 553.1h0M124.8 553.0h0M124.8 553.0h0M124.9 552.9h0M125.0 552.9h0M125.0 552.9h0M125.1 552.8h0M125.2 552.8h0M125.2 552.7h0M125.3 552.7h0M125.4 552.7h0M125.4 552.6h0M125.5 552.6h0M125.6 552.5h0M125.6 552.5h0M125.7 552.5h0M125.8 552.4h0M125.8 552.4h0M125.9 552.3h0M126.0 552.3h0M126.0 552.3h0M126.1 552.2h0M126.2 552.2h0M126.2 552.1h0M126.3 552.1h0M126.3 552.1h0M126.4 552.0h0M126.5 552.0h0M126.5 551.9h0M126.6 551.9h0M126.7 551.9h0M126.7 551.8h0M126.8 551.8h0M126.9 551.7h0M126.9 551.7h0M127.0 551.7h0M127.1 551.6h0M127.1 551.6h0M127.2 551.5h0M127.3 551.5h0M127.3 551.5h0M127.4 551.4h0M127.5 551.4h0M127.5 551.3h0M127.6 551.3h0M127.7 551.3h0M127.7 551.2h0M127.8 551.2h0M127.9 551.1h0M127.9 551.1h0M128.0 551.1h0M128.1 551.0h0M128.1 551.0h0M128.2 550.9h0M128.2 550.9h0M128.3 550.9h0M128.4 550.8h0M128.4 550.8h0M128.5 550.7h0M128.6 550.7h0M128.6 550.7h0M128.7 550.6h0M128.8 550.6h0M128.8 550.5h0M128.9 550.5h0M129.0 550.4h0M129.0 550.4h0M129.1 550.4h0M129.2 550.3h0M129.2 550.3h0M129.3 550.2h0M129.4 550.2h0M129.4 550.1h0M129.5 550.1h0M129.6 550.0h0M129.6 550.0h0M129.7 549.9h0M129.8 549.9h0M129.8 549.9h0M129.9 549.8h0M130.0 549.8h0M130.0 549.7h0M130.1 549.7h0M130.1 549.6h0M130.2 549.6h0M130.3 549.5h0M130.3 549.5h0M130.4 549.4h0M130.5 549.4h0M130.5 549.4h0M130.6 549.3h0M130.7 549.3h0M130.7 549.2h0M130.8 549.2h0M130.9 549.1h0M130.9 549.1h0M131.0 549.0h0M131.1 549.0h0M131.1 548.9h0M131.2 548.9h0M131.3 548.9h0M131.3 548.8h0M131.4 548.8h0M131.5 548.7h0M131.5 548.7h0M131.6 548.6h0M131.7 548.6h0M131.7 548.5h0M131.8 548.5h0M131.9 548.4h0M131.9 548.4h0M132.0 548.3h0M132.1 548.3h0M132.1 548.3h0M132.2 548.2h0M132.2 548.2h0M132.3 548.1h0M132.4 548.1h0M132.4 548.0h0M132.5 548.0h0M132.6 547.9h0M132.6 547.9h0M132.7 547.8h0M132.8 547.8h0M132.8 547.8h0M132.9 547.7h0M133.0 547.7h0M133.0 547.6h0M133.1 547.6h0M133.2 547.5h0M133.2 547.5h0M133.3 547.4h0M133.4 547.4h0M133.4 547.3h0M133.5 547.3h0M133.6 547.3h0M133.6 547.2h0M133.7 547.2h0M133.8 547.1h0M133.8 547.1h0M133.9 547.0h0M134.0 547.0h0M134.0 546.9h0M134.1 546.9h0M134.1 546.8h0M134.2 546.8h0M134.3 546.8h0M134.3 546.7h0M134.4 546.7h0M134.5 546.6h0M134.5 546.6h0M134.6 546.5h0M134.7 546.5h0M134.7 546.4h0M134.8 546.4h0M134.9 546.3h0M134.9 546.3h0M135.0 546.2h0M135.1 546.2h0M135.1 546.1h0M135.2 546.1h0M135.3 546.0h0M135.3 545.9h0M135.4 545.9h0M135.5 545.8h0M135.5 545.7h0M135.6 545.7h0M135.7 545.6h0M135.7 545.5h0M135.8 545.5h0M135.9 545.4h0M135.9 545.3h0M136.0 545.3h0M136.0 545.2h0M136.1 545.1h0M136.2 545.1h0M136.2 545.0h0M136.3 544.9h0M136.4 544.9h0M136.4 544.8h0M136.5 544.7h0M136.6 544.7h0M136.6 544.6h0M136.7 544.5h0M136.8 544.5h0M136.8 544.4h0M136.9 544.3h0M137.0 544.3h0M137.0 544.2h0M137.1 544.2h0M137.2 544.1h0M137.2 544.0h0M137.3 544.0h0M137.4 543.9h0M137.4 543.8h0M137.5 543.8h0M137.6 543.7h0M137.6 543.6h0M137.7 543.6h0M137.8 543.5h0M137.8 543.4h0M137.9 543.4h0M138.0 543.3h0M138.0 543.2h0M138.1 543.2h0M138.1 543.1h0M138.2 543.0h0M138.3 543.0h0M138.3 542.9h0M138.4 542.8h0M138.5 542.8h0M138.5 542.7h0M138.6 542.6h0M138.7 542.6h0M138.7 542.5h0M138.8 542.4h0M138.9 542.3h0M138.9 542.1h0M139.0 542.0h0M139.1 541.9h0M139.1 541.7h0M139.2 541.6h0M139.3 541.5h0M139.3 541.3h0M139.4 541.2h0M139.5 541.1h0M139.5 540.9h0M139.6 540.8h0M139.7 540.7h0M139.7 540.5h0M139.8 540.4h0M139.9 540.3h0M139.9 540.1h0M140.0 540.0h0M140.0 539.9h0M140.1 539.7h0M140.2 539.6h0M140.2 539.5h0M140.3 539.3h0M140.4 539.2h0M140.4 539.1h0M140.5 538.9h0M140.6 538.8h0M140.6 538.1h0M140.7 537.0h0M140.8 535.9h0M140.8 534.8h0M140.9 533.8h0M144.8 560.0h0M145.0 559.6h0M145.3 559.3h0M145.6 558.9h0M145.8 558.5h0M146.1 558.1h0M146.4 557.8h0M146.7 557.4h0M146.9 557.0h0M147.2 556.6h0M147.5 556.3h0M147.8 556.0h0M148.0 555.7h0M148.3 555.4h0M148.6 555.2h0M148.9 554.9h0M149.1 554.6h0M149.4 554.4h0M149.7 554.1h0M149.9 553.8h0M150.2 553.5h0M150.5 553.3h0M150.8 553.0h0M151.0 552.7h0M151.3 552.4h0M151.6 552.2h0M151.9 551.9h0M152.1 551.6h0M152.4 551.3h0M152.7 551.1h0M153.0 550.9h0M153.2 550.6h0M153.5 550.4h0M153.8 550.1h0M154.0 549.9h0M154.3 549.7h0M154.6 549.4h0M154.9 549.2h0M155.1 549.0h0M155.4 548.7h0M155.7 548.5h0M156.0 548.2h0M156.2 548.0h0M156.5 547.8h0M156.8 547.5h0M157.1 547.3h0M157.3 547.0h0M157.6 546.8h0M157.9 546.6h0M158.2 546.4h0M158.4 546.1h0M158.7 545.9h0M159.0 545.7h0M159.2 545.4h0M159.5 545.2h0M159.8 545.0h0M160.1 544.7h0M160.3 544.5h0M160.6 544.3h0M160.9 544.1h0M161.2 543.8h0M161.4 543.7h0M161.7 543.5h0M162.0 543.4h0M162.3 543.2h0M162.5 543.1h0M162.8 543.0h0M163.1 542.8h0M163.3 542.7h0M163.6 542.6h0M163.9 542.4h0M164.2 542.3h0M164.4 542.2h0M164.7 542.0h0M165.0 541.9h0M165.3 541.7h0M165.5 541.6h0M165.8 541.5h0M166.1 541.3h0M166.4 541.1h0M166.6 540.9h0M166.9 540.6h0M167.2 540.3h0M167.5 540.0h0M167.7 539.8h0M168.0 539.5h0M168.3 539.2h0M168.5 539.0h0M168.8 538.7h0M169.1 538.4h0M169.4 538.1h0M169.6 537.9h0M169.9 537.6h0M170.2 537.3h0M170.5 536.9h0M170.7 536.5h0M171.0 536.2h0M171.3 535.8h0M171.6 535.5h0M171.8 535.1h0M172.1 534.8h0M202.1 487.1h0M202.1 482.4h0M202.0 511.0h0M202.0 514.0h0M174.9 559.4h0M175.0 558.7h0M175.1 558.0h0M175.3 557.3h0M175.4 556.6h0M175.5 556.0h0M175.6 555.7h0M175.8 555.5h0M175.9 555.3h0M176.0 555.0h0M176.1 554.8h0M176.3 554.6h0M176.4 554.3h0M176.5 554.1h0M176.6 553.8h0M176.7 553.6h0M176.9 553.5h0M177.0 553.4h0M177.1 553.2h0M177.2 553.1h0M177.4 553.0h0M177.5 552.9h0M177.6 552.7h0M177.7 552.6h0M177.9 552.5h0M178.0 552.4h0M178.1 552.3h0M178.2 552.1h0M178.3 552.0h0M178.5 551.9h0M178.6 551.8h0M178.7 551.7h0M178.8 551.5h0M179.0 551.4h0M179.1 551.3h0M179.2 551.2h0M179.3 551.0h0M179.5 550.9h0M179.6 550.8h0M179.7 550.7h0M179.8 550.6h0M179.9 550.4h0M180.1 550.3h0M180.2 550.2h0M180.3 550.1h0M180.4 549.9h0M180.6 549.8h0M180.7 549.7h0M180.8 549.6h0M180.9 549.5h0M181.1 549.3h0M181.2 549.2h0M181.3 549.1h0M181.4 549.0h0M181.6 548.9h0M181.7 548.8h0M181.8 548.8h0M181.9 548.7h0M182.0 548.6h0M182.2 548.6h0M182.3 548.5h0M182.4 548.4h0M182.5 548.4h0M182.7 548.3h0M182.8 548.3h0M182.9 548.2h0M183.0 548.1h0M183.2 548.1h0M183.3 548.0h0M183.4 548.0h0M183.5 547.9h0M183.6 547.8h0M183.8 547.8h0M183.9 547.7h0M184.0 547.6h0M184.1 547.6h0M184.3 547.5h0M184.4 547.5h0M184.5 547.4h0M184.6 547.3h0M184.8 547.3h0M184.9 547.2h0M185.0 547.2h0M185.1 547.1h0M185.2 547.0h0M185.4 547.0h0M185.5 546.9h0M185.6 546.8h0M185.7 546.8h0M185.9 546.7h0M186.0 546.7h0M186.1 546.6h0M186.2 546.5h0M186.4 546.5h0M186.5 546.4h0M186.6 546.4h0M186.7 546.3h0M186.8 546.2h0M187.0 546.2h0M187.1 546.1h0M187.2 546.0h0M187.3 546.0h0M187.5 545.9h0M187.6 545.9h0M187.7 545.8h0M187.8 545.7h0M188.0 545.7h0M188.1 545.6h0M188.2 545.6h0M188.3 545.5h0M188.4 545.4h0M188.6 545.4h0M188.7 545.3h0M188.8 545.2h0M188.9 545.2h0M189.1 545.1h0M189.2 545.0h0M189.3 545.0h0M189.4 544.9h0M189.6 544.8h0M189.7 544.7h0M189.8 544.7h0M189.9 544.6h0M190.0 544.5h0M190.2 544.4h0M190.3 544.3h0M190.4 544.3h0M190.5 544.2h0M190.7 544.1h0M190.8 544.0h0M190.9 544.0h0M191.0 543.9h0M191.2 543.8h0M191.3 543.7h0M191.4 543.6h0M191.5 543.6h0M191.6 543.5h0M191.8 543.4h0M191.9 543.3h0M192.0 543.3h0M192.1 543.2h0M192.3 543.1h0M192.4 543.0h0M192.5 542.9h0M192.6 542.9h0M192.8 542.8h0M192.9 542.7h0M193.0 542.6h0M193.1 542.6h0M193.2 542.5h0M193.4 542.4h0M193.5 542.3h0M193.6 542.2h0M193.7 542.2h0M193.9 542.1h0M194.0 542.0h0M194.1 541.9h0M194.2 541.9h0M194.4 541.8h0M194.5 541.7h0M194.6 541.6h0M194.7 541.5h0M194.8 541.5h0M195.0 541.4h0M195.1 541.3h0M195.2 541.2h0M195.3 541.2h0M195.5 541.1h0M195.6 541.0h0M195.7 540.9h0M195.8 540.8h0M196.0 540.8h0M196.1 540.7h0M196.2 540.6h0M196.3 540.5h0M196.5 540.5h0M196.6 540.4h0M196.7 540.3h0M196.8 540.1h0M196.9 539.9h0M197.1 539.7h0M197.2 539.5h0M197.3 539.3h0M197.4 539.1h0M197.6 538.9h0M197.7 538.7h0M197.8 538.5h0M197.9 538.3h0M198.1 538.1h0M198.2 537.9h0M198.3 537.7h0M198.4 537.5h0M198.5 537.3h0M198.7 537.1h0M198.8 536.9h0M198.9 536.7h0M199.0 536.5h0M199.2 536.3h0M199.3 536.1h0M199.4 535.9h0M199.5 535.7h0M199.7 535.3h0M199.8 534.4h0M199.9 533.6h0M200.0 532.8h0M200.1 532.0h0M200.3 531.2h0M200.4 530.4h0M200.5 529.5h0M200.6 528.7h0M200.8 527.9h0M200.9 527.1h0M201.0 525.1h0M201.1 523.0h0M201.3 520.8h0M201.4 519.0h0M201.5 517.5h0M233.3 480.5h0M233.3 466.0h0M233.3 490.0h0M233.3 495.0h0M205.8 558.4h0M205.9 557.9h0M206.0 557.4h0M206.1 556.9h0M206.2 556.4h0M206.3 555.9h0M206.4 555.4h0M206.5 554.9h0M206.6 554.6h0M206.7 554.2h0M206.8 553.9h0M206.9 553.5h0M207.1 553.2h0M207.2 552.8h0M207.3 552.6h0M207.4 552.5h0M207.5 552.4h0M207.6 552.3h0M207.7 552.2h0M207.8 552.1h0M207.9 552.0h0M208.0 551.9h0M208.1 551.8h0M208.2 551.7h0M208.3 551.6h0M208.4 551.5h0M208.5 551.4h0M208.6 551.3h0M208.7 551.2h0M208.8 551.1h0M208.9 551.0h0M209.0 550.9h0M209.1 550.8h0M209.2 550.7h0M209.3 550.6h0M209.4 550.5h0M209.6 550.3h0M209.7 550.2h0M209.8 550.1h0M209.9 550.0h0M210.0 549.9h0M210.1 549.8h0M210.2 549.7h0M210.3 549.6h0M210.4 549.5h0M210.5 549.4h0M210.6 549.3h0M210.7 549.2h0M210.8 549.1h0M210.9 549.0h0M211.0 548.9h0M211.1 548.8h0M211.2 548.7h0M211.3 548.6h0M211.4 548.5h0M211.5 548.4h0M211.6 548.3h0M211.7 548.2h0M211.8 548.1h0M211.9 548.0h0M212.1 547.9h0M212.2 547.9h0M212.3 547.8h0M212.4 547.8h0M212.5 547.7h0M212.6 547.7h0M212.7 547.6h0M212.8 547.6h0M212.9 547.5h0M213.0 547.5h0M213.1 547.5h0M213.2 547.4h0M213.3 547.4h0M213.4 547.3h0M213.5 547.3h0M213.6 547.2h0M213.7 547.2h0M213.8 547.1h0M213.9 547.1h0M214.0 547.0h0M214.1 547.0h0M214.2 546.9h0M214.3 546.9h0M214.4 546.8h0M214.6 546.8h0M214.7 546.7h0M214.8 546.7h0M214.9 546.6h0M215.0 546.6h0M215.1 546.5h0M215.2 546.5h0M215.3 546.4h0M215.4 546.4h0M215.5 546.3h0M215.6 546.3h0M215.7 546.3h0M215.8 546.2h0M215.9 546.2h0M216.0 546.1h0M216.1 546.1h0M216.2 546.0h0M216.3 546.0h0M216.4 545.9h0M216.5 545.9h0M216.6 545.8h0M216.7 545.8h0M216.8 545.7h0M216.9 545.7h0M217.1 545.6h0M217.2 545.6h0M217.3 545.5h0M217.4 545.5h0M217.5 545.4h0M217.6 545.4h0M217.7 545.3h0M217.8 545.3h0M217.9 545.2h0M218.0 545.2h0M218.1 545.1h0M218.2 545.1h0M218.3 545.1h0M218.4 545.0h0M218.5 545.0h0M218.6 544.9h0M218.7 544.9h0M218.8 544.8h0M218.9 544.8h0M219.0 544.7h0M219.1 544.7h0M219.2 544.6h0M219.3 544.6h0M219.4 544.5h0M219.6 544.5h0M219.7 544.4h0M219.8 544.4h0M219.9 544.3h0M220.0 544.2h0M220.1 544.2h0M220.2 544.1h0M220.3 544.1h0M220.4 544.0h0M220.5 543.9h0M220.6 543.9h0M220.7 543.8h0M220.8 543.8h0M220.9 543.7h0M221.0 543.7h0M221.1 543.6h0M221.2 543.5h0M221.3 543.5h0M221.4 543.4h0M221.5 543.4h0M221.6 543.3h0M221.7 543.2h0M221.8 543.2h0M221.9 543.1h0M222.1 543.1h0M222.2 543.0h0M222.3 543.0h0M222.4 542.9h0M222.5 542.8h0M222.6 542.8h0M222.7 542.7h0M222.8 542.7h0M222.9 542.6h0M223.0 542.5h0M223.1 542.5h0M223.2 542.4h0M223.3 542.4h0M223.4 542.3h0M223.5 542.2h0M223.6 542.2h0M223.7 542.1h0M223.8 542.1h0M223.9 542.0h0M224.0 542.0h0M224.1 541.9h0M224.2 541.8h0M224.3 541.8h0M224.4 541.7h0M224.6 541.7h0M224.7 541.6h0M224.8 541.5h0M224.9 541.5h0M225.0 541.4h0M225.1 541.4h0M225.2 541.3h0M225.3 541.2h0M225.4 541.1h0M225.5 540.9h0M225.6 540.8h0M225.7 540.6h0M225.8 540.5h0M225.9 540.4h0M226.0 540.2h0M226.1 540.1h0M226.2 540.0h0M226.3 539.8h0M226.4 539.7h0M226.5 539.6h0M226.6 539.4h0M226.7 539.3h0M226.8 539.1h0M226.9 539.0h0M227.1 538.9h0M227.2 538.7h0M227.3 538.6h0M227.4 538.5h0M227.5 538.3h0M227.6 538.2h0M227.7 538.1h0M227.8 537.9h0M227.9 537.8h0M228.0 537.6h0M228.1 537.5h0M228.2 537.2h0M228.3 536.8h0M228.4 536.4h0M228.5 536.0h0M228.6 535.7h0M228.7 535.3h0M228.8 534.9h0M228.9 534.6h0M229.0 534.2h0M229.1 533.8h0M229.2 533.5h0M229.3 533.1h0M229.4 532.7h0M229.6 532.4h0M229.7 532.0h0M229.8 531.6h0M229.9 531.3h0M230.0 530.9h0M230.1 530.5h0M230.2 530.1h0M230.3 529.7h0M230.4 529.3h0M230.5 528.8h0M230.6 528.4h0M230.7 528.0h0M230.8 527.6h0M230.9 527.2h0M231.0 526.8h0M231.1 526.3h0M231.2 525.9h0M231.3 525.5h0M231.4 525.1h0M231.5 524.7h0M231.6 524.3h0M231.7 523.8h0M231.8 523.4h0M231.9 522.8h0M232.1 521.9h0M232.2 521.0h0M232.3 520.1h0M232.4 519.3h0M232.5 518.4h0M232.6 517.5h0M232.7 516.6h0M232.8 515.7h0M232.9 513.1h0M233.0 510.1h0M233.1 507.2h0M233.2 504.2h0M263.4 521.1h0M264.0 508.5h0M263.6 525.5h0M236.5 553.0h0M237.0 552.0h0M237.5 551.0h0M238.0 550.0h0M238.5 549.0h0M239.0 548.0h0M239.5 547.8h0M240.0 547.5h0M240.5 547.3h0M241.0 547.0h0M241.5 546.8h0M242.0 546.5h0M242.5 546.3h0M243.0 546.1h0M243.5 545.8h0M244.0 545.6h0M244.5 545.4h0M245.0 545.2h0M245.5 545.1h0M246.0 544.9h0M246.5 544.8h0M247.0 544.6h0M247.5 544.4h0M248.0 544.3h0M248.5 544.1h0M249.0 544.0h0M249.5 543.8h0M249.9 543.7h0M250.4 543.5h0M250.9 543.3h0M251.4 543.1h0M251.9 542.9h0M252.4 542.7h0M252.9 542.4h0M253.4 542.2h0M253.9 542.0h0M254.4 541.8h0M254.9 541.6h0M255.4 541.3h0M255.9 541.1h0M256.4 540.9h0M256.9 540.7h0M257.4 540.4h0M257.9 540.1h0M258.4 539.7h0M258.9 539.4h0M259.4 539.0h0M259.9 538.6h0M260.4 538.3h0M260.9 537.9h0M261.4 536.9h0M261.9 535.9h0M262.4 534.9h0M262.9 533.3h0M263.4 531.2h0M294.7 513.5h0M294.7 506.8h0M294.8 483.7h0M294.8 480.1h0M269.3 566.0h0M269.4 565.2h0M269.5 564.4h0M269.6 563.6h0M269.6 562.7h0M269.7 561.7h0M269.8 560.7h0M269.9 559.7h0M270.0 558.7h0M270.1 557.7h0M270.1 557.0h0M270.2 556.7h0M270.3 556.4h0M270.4 556.1h0M270.5 555.7h0M270.6 555.4h0M270.6 555.1h0M270.7 554.7h0M270.8 554.4h0M270.9 554.1h0M271.0 553.7h0M271.1 553.4h0M271.1 553.1h0M271.2 552.8h0M271.3 552.4h0M271.4 552.1h0M271.5 551.8h0M271.6 551.4h0M271.6 551.1h0M271.7 550.8h0M271.8 550.5h0M271.9 550.3h0M272.0 550.2h0M272.1 550.0h0M272.2 549.9h0M272.2 549.7h0M272.3 549.6h0M272.4 549.5h0M272.5 549.3h0M272.6 549.2h0M272.7 549.0h0M272.7 548.9h0M272.8 548.7h0M272.9 548.6h0M273.0 548.4h0M273.1 548.3h0M273.2 548.1h0M273.2 548.0h0M273.3 547.9h0M273.4 547.7h0M273.5 547.6h0M273.6 547.4h0M273.7 547.3h0M273.7 547.1h0M273.8 547.0h0M273.9 546.8h0M274.0 546.7h0M274.1 546.5h0M274.2 546.4h0M274.2 546.3h0M274.3 546.1h0M274.4 546.0h0M274.5 545.8h0M274.6 545.7h0M274.7 545.5h0M274.7 545.4h0M274.8 545.2h0M274.9 545.1h0M275.0 544.9h0M275.1 544.8h0M275.2 544.7h0M275.3 544.6h0M275.3 544.5h0M275.4 544.4h0M275.5 544.4h0M275.6 544.3h0M275.7 544.3h0M275.8 544.2h0M275.8 544.1h0M275.9 544.1h0M276.0 544.0h0M276.1 544.0h0M276.2 543.9h0M276.3 543.8h0M276.3 543.8h0M276.4 543.7h0M276.5 543.7h0M276.6 543.6h0M276.7 543.5h0M276.8 543.5h0M276.8 543.4h0M276.9 543.4h0M277.0 543.3h0M277.1 543.3h0M277.2 543.2h0M277.3 543.1h0M277.3 543.1h0M277.4 543.0h0M277.5 543.0h0M277.6 542.9h0M277.7 542.8h0M277.8 542.8h0M277.9 542.7h0M277.9 542.7h0M278.0 542.6h0M278.1 542.5h0M278.2 542.5h0M278.3 542.4h0M278.4 542.4h0M278.4 542.3h0M278.5 542.2h0M278.6 542.2h0M278.7 542.1h0M278.8 542.1h0M278.9 542.0h0M278.9 541.9h0M279.0 541.9h0M279.1 541.8h0M279.2 541.8h0M279.3 541.7h0M279.4 541.6h0M279.4 541.6h0M279.5 541.5h0M279.6 541.5h0M279.7 541.4h0M279.8 541.3h0M279.9 541.3h0M279.9 541.2h0M280.0 541.2h0M280.1 541.1h0M280.2 541.0h0M280.3 541.0h0M280.4 540.9h0M280.4 540.9h0M280.5 540.8h0M280.6 540.7h0M280.7 540.7h0M280.8 540.6h0M280.9 540.6h0M281.0 540.5h0M281.0 540.4h0M281.1 540.4h0M281.2 540.3h0M281.3 540.3h0M281.4 540.2h0M281.5 540.2h0M281.5 540.1h0M281.6 540.1h0M281.7 540.0h0M281.8 540.0h0M281.9 539.9h0M282.0 539.9h0M282.0 539.8h0M282.1 539.8h0M282.2 539.7h0M282.3 539.7h0M282.4 539.6h0M282.5 539.5h0M282.5 539.5h0M282.6 539.4h0M282.7 539.4h0M282.8 539.3h0M282.9 539.3h0M283.0 539.2h0M283.0 539.2h0M283.1 539.1h0M283.2 539.1h0M283.3 539.0h0M283.4 539.0h0M283.5 538.9h0M283.6 538.9h0M283.6 538.8h0M283.7 538.8h0M283.8 538.7h0M283.9 538.7h0M284.0 538.6h0M284.1 538.5h0M284.1 538.5h0M284.2 538.4h0M284.3 538.4h0M284.4 538.3h0M284.5 538.3h0M284.6 538.2h0M284.6 538.2h0M284.7 538.1h0M284.8 538.1h0M284.9 538.0h0M285.0 538.0h0M285.1 537.9h0M285.1 537.9h0M285.2 537.8h0M285.3 537.8h0M285.4 537.7h0M285.5 537.7h0M285.6 537.6h0M285.6 537.5h0M285.7 537.5h0M285.8 537.4h0M285.9 537.4h0M286.0 537.3h0M286.1 537.3h0M286.1 537.2h0M286.2 537.2h0M286.3 537.1h0M286.4 537.1h0M286.5 537.0h0M286.6 537.0h0M286.7 536.9h0M286.7 536.9h0M286.8 536.8h0M286.9 536.8h0M287.0 536.7h0M287.1 536.7h0M287.2 536.6h0M287.2 536.6h0M287.3 536.5h0M287.4 536.4h0M287.5 536.4h0M287.6 536.3h0M287.7 536.3h0M287.7 536.2h0M287.8 536.2h0M287.9 536.1h0M288.0 536.0h0M288.1 535.9h0M288.2 535.8h0M288.2 535.8h0M288.3 535.7h0M288.4 535.6h0M288.5 535.5h0M288.6 535.4h0M288.7 535.3h0M288.7 535.3h0M288.8 535.2h0M288.9 535.1h0M289.0 535.0h0M289.1 534.9h0M289.2 534.8h0M289.3 534.7h0M289.3 534.7h0M289.4 534.6h0M289.5 534.5h0M289.6 534.4h0M289.7 534.3h0M289.8 534.2h0M289.8 534.2h0M289.9 534.1h0M290.0 534.0h0M290.1 533.9h0M290.2 533.8h0M290.3 533.7h0M290.3 533.7h0M290.4 533.6h0M290.5 533.5h0M290.6 533.4h0M290.7 533.3h0M290.8 533.2h0M290.8 533.2h0M290.9 533.1h0M291.0 533.0h0M291.1 532.9h0M291.2 532.8h0M291.3 532.7h0M291.3 532.7h0M291.4 532.6h0M291.5 532.5h0M291.6 532.4h0M291.7 532.3h0M291.8 532.2h0M291.8 532.2h0M291.9 532.1h0M292.0 531.9h0M292.1 531.7h0M292.2 531.5h0M292.3 531.2h0M292.4 531.0h0M292.4 530.7h0M292.5 530.5h0M292.6 530.2h0M292.7 530.0h0M292.8 529.7h0M292.9 529.5h0M292.9 529.2h0M293.0 529.0h0M293.1 528.7h0M293.2 528.5h0M293.3 528.3h0M293.4 528.0h0M293.4 527.8h0M293.5 527.5h0M293.6 527.3h0M293.7 527.0h0M293.8 526.5h0M293.9 526.0h0M293.9 525.4h0M294.0 524.9h0M294.1 524.4h0M294.2 523.8h0M294.3 523.3h0M294.4 522.8h0M294.4 522.2h0M294.5 520.8h0M294.6 518.0h0M294.7 515.2h0M356.3 476.0h0M356.3 479.0h0M356.3 482.0h0M356.3 488.0h0M328.6 562.0h0M328.7 559.7h0M329.1 554.6h0M329.4 553.7h0M329.6 552.8h0M330.2 550.9h0M330.3 550.5h0M330.4 550.0h0M330.6 549.6h0M330.7 549.1h0M330.8 548.7h0M330.9 548.2h0M331.2 547.7h0M332.2 546.2h0M332.4 546.0h0M332.5 545.8h0M332.6 545.6h0M332.9 545.2h0M333.0 545.0h0M333.7 544.1h0M333.8 543.9h0M333.9 543.7h0M334.5 542.9h0M334.7 542.5h0M334.8 542.3h0M335.0 542.1h0M335.1 542.0h0M335.2 541.9h0M335.4 541.8h0M335.5 541.7h0M336.0 541.3h0M336.5 540.9h0M336.8 540.7h0M336.9 540.6h0M337.2 540.4h0M337.8 539.9h0M338.0 539.8h0M338.2 539.6h0M338.5 539.4h0M338.6 539.3h0M338.7 539.2h0M339.7 538.5h0M340.0 538.1h0M340.3 537.8h0M340.6 537.5h0M340.8 537.2h0M341.1 536.9h0M341.6 536.3h0M341.7 536.2h0M342.1 535.7h0M342.3 535.5h0M342.5 535.2h0M343.0 534.6h0M343.2 534.5h0M343.4 534.2h0M343.7 533.9h0M343.8 533.7h0M344.3 533.1h0M344.5 532.9h0M344.6 532.8h0M344.9 532.5h0M345.0 532.3h0M345.1 532.1h0M345.2 531.9h0M345.5 531.5h0M345.8 531.0h0M345.9 530.8h0M346.0 530.6h0M346.4 529.9h0M346.5 529.7h0M347.2 528.6h0M347.3 528.4h0M348.0 527.3h0M348.2 526.4h0M349.0 523.3h0M349.3 522.3h0M349.7 520.7h0M351.0 514.6h0M351.7 510.7h0M351.9 510.1h0M352.1 509.1h0M352.3 508.7h0M352.5 507.9h0M352.8 507.2h0M352.9 506.8h0M353.0 506.4h0M353.4 505.3h0M353.7 504.5h0M353.8 504.1h0M354.0 503.7h0M354.3 502.5h0M354.5 502.0h0M354.7 501.2h0M355.1 499.9h0M355.3 499.5h0M355.8 495.9h0M360.3 556.0h0M361.4 543.5h0M361.6 542.0h0M364.2 536.3h0M365.3 535.0h0M365.5 534.8h0M365.7 534.7h0M366.3 534.2h0M366.5 534.0h0M367.2 533.5h0M367.6 533.2h0M367.8 533.0h0M368.7 532.3h0M368.9 532.1h0M369.1 532.0h0M370.2 531.1h0M370.4 531.0h0M370.6 530.8h0M370.9 530.6h0M371.7 529.9h0M371.9 529.8h0M372.4 529.4h0M372.6 529.2h0M373.6 528.4h0M374.1 528.0h0M374.3 527.9h0M374.5 527.7h0M375.6 526.7h0M376.4 525.9h0M377.3 525.0h0M378.6 523.8h0M379.0 523.3h0M379.2 523.1h0M379.7 522.7h0M379.9 522.5h0M380.5 521.7h0M381.2 520.9h0M381.4 520.6h0M382.3 519.6h0M382.7 519.0h0M382.9 518.8h0M383.1 518.5h0M384.6 515.9h0M384.8 515.3h0M385.1 514.8h0M385.3 514.3h0M386.8 505.7h0M390.4 571.7h0M390.6 570.4h0M390.7 569.1h0M390.8 567.8h0M390.9 566.5h0M391.1 565.3h0M391.7 559.5h0M391.7 558.9h0M391.9 557.6h0M392.1 556.7h0M392.2 556.2h0M392.2 556.0h0M392.3 555.8h0M392.4 555.6h0M392.4 555.3h0M392.5 555.1h0M392.6 554.9h0M392.6 554.7h0M392.7 554.5h0M392.8 554.2h0M392.8 554.0h0M392.9 553.8h0M393.0 553.6h0M393.0 553.3h0M393.1 553.1h0M393.2 552.9h0M393.2 552.7h0M393.3 552.4h0M393.4 552.2h0M393.4 552.0h0M393.5 551.8h0M393.5 551.6h0M393.6 551.3h0M393.7 551.1h0M393.7 550.9h0M393.8 550.7h0M393.9 550.4h0M393.9 550.2h0M394.0 550.0h0M394.1 549.8h0M394.1 549.7h0M394.2 549.5h0M394.3 549.4h0M394.3 549.2h0M394.4 549.0h0M394.5 548.9h0M394.5 548.7h0M394.6 548.6h0M394.6 548.4h0M394.7 548.2h0M394.8 548.1h0M394.8 547.9h0M394.9 547.8h0M395.0 547.6h0M395.0 547.4h0M395.1 547.3h0M395.2 547.1h0M395.2 546.9h0M395.3 546.8h0M395.4 546.6h0M395.4 546.5h0M395.5 546.3h0M395.6 546.1h0M395.6 546.0h0M395.7 545.8h0M395.8 545.7h0M395.8 545.5h0M395.9 545.3h0M395.9 545.2h0M396.0 545.0h0M396.1 544.9h0M396.1 544.7h0M396.2 544.5h0M396.3 544.4h0M396.3 544.2h0M396.4 544.1h0M396.5 543.9h0M396.5 543.7h0M396.6 543.6h0M396.7 543.4h0M396.7 543.3h0M396.8 543.1h0M396.9 542.9h0M396.9 542.8h0M397.0 542.6h0M397.1 542.5h0M397.1 542.3h0M397.2 542.1h0M397.2 542.0h0M397.3 541.8h0M397.4 541.6h0M397.4 541.5h0M397.5 541.3h0M397.6 541.2h0M397.6 541.0h0M397.7 540.8h0M397.8 540.7h0M397.8 540.5h0M397.9 540.4h0M398.0 540.3h0M398.0 540.2h0M398.1 540.1h0M398.2 540.0h0M398.2 539.9h0M398.3 539.8h0M398.3 539.7h0M398.4 539.6h0M398.5 539.5h0M398.5 539.4h0M398.6 539.3h0M398.7 539.2h0M398.7 539.0h0M398.8 538.9h0M398.9 538.8h0M398.9 538.7h0M399.0 538.6h0M399.1 538.5h0M399.1 538.4h0M399.2 538.3h0M399.3 538.2h0M399.3 538.1h0M399.4 538.0h0M399.5 537.9h0M399.5 537.8h0M399.6 537.7h0M399.6 537.5h0M399.7 537.4h0M399.8 537.3h0M399.8 537.2h0M399.9 537.1h0M400.0 537.0h0M400.0 536.9h0M400.1 536.8h0M400.2 536.7h0M400.2 536.6h0M400.3 536.5h0M400.4 536.4h0M400.4 536.3h0M400.5 536.1h0M400.6 536.0h0M400.6 535.9h0M400.7 535.8h0M400.8 535.7h0M400.8 535.6h0M400.9 535.5h0M400.9 535.4h0M401.0 535.3h0M401.1 535.2h0M401.1 535.1h0M401.2 535.0h0M401.3 534.9h0M401.3 534.8h0M401.4 534.6h0M401.5 534.5h0M401.5 534.4h0M401.6 534.3h0M401.7 534.2h0M401.7 534.1h0M401.8 534.0h0M401.9 533.9h0M401.9 533.8h0M402.0 533.7h0M402.0 533.6h0M402.1 533.5h0M402.2 533.4h0M402.2 533.2h0M402.3 533.1h0M402.4 533.0h0M402.4 532.9h0M402.5 532.8h0M402.6 532.7h0M402.6 532.6h0M402.7 532.5h0M402.8 532.4h0M402.8 532.3h0M402.9 532.2h0M403.0 532.1h0M403.0 532.0h0M403.1 531.9h0M403.2 531.8h0M403.2 531.8h0M403.3 531.7h0M403.3 531.6h0M403.4 531.6h0M403.5 531.5h0M403.5 531.4h0M403.6 531.4h0M403.7 531.3h0M403.7 531.2h0M403.8 531.2h0M403.9 531.1h0M403.9 531.1h0M404.0 531.0h0M404.1 530.9h0M404.1 530.9h0M404.2 530.8h0M404.3 530.7h0M404.3 530.7h0M404.4 530.6h0M404.5 530.5h0M404.5 530.5h0M404.6 530.4h0M404.6 530.3h0M404.7 530.3h0M404.8 530.2h0M404.8 530.1h0M404.9 530.1h0M405.0 530.0h0M405.0 529.9h0M405.1 529.9h0M405.2 529.8h0M405.2 529.7h0M405.3 529.7h0M405.4 529.6h0M405.4 529.5h0M405.5 529.5h0M405.6 529.4h0M405.6 529.3h0M405.7 529.3h0M405.8 529.2h0M405.8 529.1h0M405.9 529.1h0M405.9 529.0h0M406.0 528.9h0M406.1 528.9h0M406.1 528.8h0M406.2 528.7h0M406.3 528.7h0M406.3 528.6h0M406.4 528.5h0M406.5 528.5h0M406.5 528.4h0M406.6 528.3h0M406.7 528.3h0M406.7 528.2h0M406.8 528.1h0M406.9 528.1h0M406.9 528.0h0M407.0 527.9h0M407.0 527.9h0M407.1 527.8h0M407.2 527.7h0M407.2 527.7h0M407.3 527.6h0M407.4 527.5h0M407.4 527.5h0M407.5 527.4h0M407.6 527.3h0M407.6 527.3h0M407.7 527.2h0M407.8 527.2h0M407.8 527.1h0M407.9 527.0h0M408.0 527.0h0M408.0 526.9h0M408.1 526.8h0M408.2 526.8h0M408.2 526.7h0M408.3 526.6h0M408.3 526.6h0M408.4 526.5h0M408.5 526.4h0M408.5 526.3h0M408.6 526.2h0M408.7 526.1h0M408.7 525.9h0M408.8 525.8h0M408.9 525.7h0M408.9 525.5h0M409.0 525.4h0M409.1 525.3h0M409.1 525.1h0M409.2 525.0h0M409.3 524.9h0M409.3 524.7h0M409.4 524.6h0M409.5 524.5h0M409.5 524.4h0M409.6 524.2h0M409.6 524.1h0M409.7 524.0h0M409.8 523.8h0M409.8 523.7h0M409.9 523.6h0M410.0 523.4h0M410.0 523.3h0M410.1 523.2h0M410.2 523.0h0M410.2 522.9h0M410.3 522.8h0M410.4 522.7h0M410.4 522.5h0M410.5 522.4h0M410.6 522.3h0M410.6 522.1h0M410.7 522.0h0M410.7 521.9h0M410.8 521.7h0M410.9 521.6h0M410.9 521.5h0M411.0 521.3h0M411.1 521.2h0M411.1 521.1h0M411.2 520.9h0M411.3 520.8h0M411.3 520.7h0M411.4 520.6h0M411.5 520.4h0M411.5 520.3h0M411.6 520.2h0M411.7 520.0h0M411.7 519.9h0M411.8 519.8h0M411.9 519.6h0M411.9 519.5h0M412.0 519.4h0M412.0 519.2h0M412.1 519.1h0M412.2 519.0h0M412.2 518.9h0M412.3 518.7h0M412.4 518.6h0M412.4 518.5h0M412.5 518.3h0M412.6 518.2h0M412.6 518.1h0M412.7 517.9h0M412.8 517.8h0M412.8 517.7h0M412.9 517.5h0M413.0 517.4h0M413.0 517.3h0M413.1 517.2h0M413.2 517.0h0M413.2 516.9h0M413.3 516.8h0M413.3 516.6h0M413.4 516.5h0M413.5 516.4h0M413.5 516.2h0M413.6 516.1h0M413.7 516.0h0M413.7 515.8h0M413.8 515.7h0M413.9 515.6h0M413.9 515.4h0M414.0 515.3h0M414.1 515.2h0M414.1 515.1h0M414.2 514.9h0M414.3 514.8h0M414.3 514.7h0M414.4 514.5h0M414.4 514.3h0M414.5 514.0h0M414.9 512.2h0M415.4 510.2h0M415.4 509.9h0M415.9 507.8h0M416.1 506.9h0M416.3 506.1h0M416.4 505.5h0M416.7 503.7h0M416.9 502.1h0M417.0 500.5h0M417.1 499.9h0M417.2 498.9h0M417.3 498.3h0M417.4 497.2h0M421.1 577.4h0M421.1 576.3h0M421.3 572.8h0M421.5 570.6h0M421.7 567.1h0M421.9 562.4h0M422.0 561.2h0M422.2 557.7h0M422.3 556.6h0M422.3 555.5h0M422.5 553.6h0M422.5 552.6h0M423.4 541.3h0M423.7 538.4h0M423.8 537.9h0M423.9 536.7h0M424.1 535.0h0M424.3 534.2h0M424.4 534.0h0M424.5 533.9h0M424.5 533.7h0M424.6 533.6h0M424.7 533.5h0M424.7 533.3h0M424.8 533.2h0M424.9 533.0h0M424.9 532.9h0M425.0 532.7h0M425.1 532.6h0M425.1 532.4h0M425.2 532.3h0M425.3 532.1h0M425.3 532.0h0M425.4 531.8h0M425.5 531.7h0M425.5 531.5h0M425.6 531.4h0M425.7 531.2h0M425.7 531.1h0M425.8 530.9h0M425.9 530.8h0M425.9 530.6h0M426.0 530.5h0M426.1 530.4h0M426.1 530.4h0M426.2 530.3h0M426.3 530.3h0M426.3 530.2h0M426.4 530.2h0M426.5 530.1h0M426.5 530.1h0M426.6 530.0h0M426.7 530.0h0M426.7 529.9h0M426.8 529.9h0M426.9 529.8h0M426.9 529.7h0M427.0 529.7h0M427.1 529.6h0M427.1 529.6h0M427.2 529.5h0M427.3 529.5h0M427.3 529.4h0M427.4 529.4h0M427.5 529.3h0M427.5 529.3h0M427.6 529.2h0M427.7 529.2h0M427.7 529.1h0M427.8 529.1h0M427.9 529.0h0M427.9 528.9h0M428.0 528.9h0M428.1 528.8h0M428.1 528.8h0M428.2 528.7h0M428.3 528.7h0M428.3 528.6h0M428.4 528.6h0M428.5 528.5h0M428.5 528.5h0M428.6 528.4h0M428.7 528.4h0M428.7 528.3h0M428.8 528.3h0M428.9 528.2h0M428.9 528.1h0M429.0 528.1h0M429.1 528.0h0M429.1 528.0h0M429.2 527.9h0M429.3 527.9h0M429.3 527.8h0M429.4 527.8h0M429.5 527.7h0M429.5 527.7h0M429.6 527.6h0M429.7 527.6h0M429.7 527.5h0M429.8 527.5h0M429.9 527.4h0M429.9 527.3h0M430.0 527.3h0M430.1 527.3h0M430.1 527.2h0M430.2 527.2h0M430.3 527.1h0M430.3 527.1h0M430.4 527.1h0M430.5 527.0h0M430.5 527.0h0M430.6 527.0h0M430.7 526.9h0M430.7 526.9h0M430.8 526.8h0M430.9 526.8h0M430.9 526.8h0M431.0 526.7h0M431.1 526.7h0M431.1 526.6h0M431.2 526.6h0M431.3 526.6h0M431.3 526.5h0M431.4 526.5h0M431.5 526.5h0M431.5 526.4h0M431.6 526.4h0M431.7 526.3h0M431.7 526.3h0M431.8 526.3h0M431.9 526.2h0M431.9 526.2h0M432.0 526.2h0M432.1 526.1h0M432.1 526.1h0M432.2 526.0h0M432.3 526.0h0M432.3 526.0h0M432.4 525.9h0M432.5 525.9h0M432.5 525.9h0M432.6 525.8h0M432.7 525.8h0M432.7 525.7h0M432.8 525.7h0M432.9 525.7h0M432.9 525.6h0M433.0 525.6h0M433.1 525.5h0M433.1 525.5h0M433.2 525.5h0M433.3 525.4h0M433.3 525.4h0M433.4 525.4h0M433.5 525.3h0M433.5 525.3h0M433.6 525.2h0M433.7 525.2h0M433.7 525.2h0M433.8 525.1h0M433.9 525.1h0M433.9 525.1h0M434.0 525.0h0M434.1 525.0h0M434.1 524.9h0M434.2 524.9h0M434.3 524.9h0M434.3 524.8h0M434.4 524.8h0M434.5 524.7h0M434.5 524.7h0M434.6 524.7h0M434.7 524.6h0M434.8 524.6h0M434.8 524.6h0M434.9 524.5h0M435.0 524.5h0M435.0 524.4h0M435.1 524.4h0M435.2 524.4h0M435.2 524.3h0M435.3 524.3h0M435.4 524.3h0M435.4 524.2h0M435.5 524.2h0M435.6 524.1h0M435.6 524.1h0M435.7 524.1h0M435.8 524.0h0M435.8 524.0h0M435.9 523.9h0M436.0 523.9h0M436.0 523.8h0M436.1 523.8h0M436.2 523.7h0M436.2 523.7h0M436.3 523.7h0M436.4 523.6h0M436.4 523.6h0M436.5 523.5h0M436.6 523.5h0M436.6 523.4h0M436.7 523.4h0M436.8 523.3h0M436.8 523.3h0M436.9 523.2h0M437.0 523.2h0M437.0 523.1h0M437.1 523.1h0M437.2 523.0h0M437.2 523.0h0M437.3 522.9h0M437.4 522.9h0M437.4 522.8h0M437.5 522.8h0M437.6 522.7h0M437.6 522.7h0M437.7 522.7h0M437.8 522.6h0M437.8 522.6h0M437.9 522.5h0M438.0 522.5h0M438.0 522.4h0M438.1 522.4h0M438.2 522.3h0M438.2 522.3h0M438.3 522.2h0M438.4 522.2h0M438.4 522.1h0M438.5 522.1h0M438.6 522.0h0M438.6 522.0h0M438.7 521.9h0M438.8 521.9h0M438.8 521.8h0M438.9 521.8h0M439.0 521.7h0M439.0 521.7h0M439.1 521.7h0M439.2 521.6h0M439.2 521.6h0M439.3 521.5h0M439.4 521.5h0M439.4 521.4h0M439.5 521.4h0M439.6 521.3h0M439.6 521.3h0M439.7 521.2h0M439.8 521.2h0M439.8 521.1h0M439.9 521.1h0M440.0 521.0h0M440.0 521.0h0M440.1 520.9h0M440.2 520.9h0M440.2 520.8h0M440.3 520.8h0M440.4 520.7h0M440.4 520.7h0M440.5 520.6h0M440.6 520.6h0M440.6 520.5h0M440.7 520.5h0M440.8 520.4h0M440.8 520.4h0M440.9 520.3h0M441.0 520.2h0M441.0 520.2h0M441.1 520.1h0M441.2 520.1h0M441.2 520.0h0M441.3 520.0h0M441.4 519.9h0M441.4 519.9h0M441.5 519.8h0M441.6 519.8h0M441.6 519.7h0M441.7 519.7h0M441.8 519.6h0M441.8 519.6h0M441.9 519.5h0M442.0 519.5h0M442.0 519.4h0M442.1 519.4h0M442.2 519.3h0M442.2 519.2h0M442.3 519.2h0M442.4 519.1h0M442.4 519.1h0M442.5 519.0h0M442.6 519.0h0M442.6 518.9h0M442.7 518.9h0M442.8 518.8h0M442.8 518.8h0M442.9 518.7h0M443.0 518.7h0M443.0 518.6h0M443.1 518.6h0M443.2 518.5h0M443.2 518.5h0M443.3 518.4h0M443.4 518.4h0M443.4 518.3h0M443.5 518.2h0M443.6 518.2h0M443.6 518.1h0M443.7 518.1h0M443.8 518.0h0M443.8 518.0h0M443.9 517.9h0M444.0 517.9h0M444.0 517.8h0M444.1 517.8h0M444.2 517.7h0M444.2 517.7h0M444.3 517.6h0M444.4 517.6h0M444.4 517.5h0M444.5 517.5h0M444.6 517.4h0M444.6 517.4h0M444.7 517.3h0M444.8 517.2h0M444.8 517.2h0M444.9 517.1h0M445.0 517.1h0M445.0 517.0h0M445.1 517.0h0M445.2 516.9h0M445.2 516.8h0M445.3 516.5h0M445.4 516.3h0M445.4 516.0h0M445.5 515.8h0M445.6 515.5h0M445.6 515.2h0M445.7 515.0h0M445.8 514.7h0M445.8 514.5h0M445.9 514.2h0M446.0 513.9h0M446.0 513.7h0M446.1 513.4h0M446.2 513.2h0M446.2 512.9h0M446.3 512.7h0M446.4 512.4h0M446.4 512.1h0M446.5 511.9h0M446.6 511.6h0M446.6 511.4h0M446.7 511.1h0M446.8 510.8h0M446.8 510.6h0M446.9 510.3h0M447.0 510.1h0M447.0 509.8h0M447.1 509.6h0M447.2 509.3h0M447.2 509.0h0M447.5 508.0h0M447.6 506.9h0M447.8 505.3h0M447.9 504.8h0M448.2 502.0h0M448.4 498.3h0M481.9 590.0h0M482.2 579.4h0M482.5 574.9h0M482.8 568.3h0M483.0 564.5h0M483.1 562.6h0M483.2 560.7h0M483.3 558.8h0M483.6 555.4h0M484.6 545.5h0M484.7 544.5h0M484.9 543.0h0M485.7 537.5h0M485.9 535.9h0M486.0 535.5h0M486.2 534.6h0M486.3 534.2h0M486.4 533.8h0M486.5 533.4h0M486.7 533.0h0M486.8 532.6h0M486.9 532.2h0M487.0 531.8h0M487.1 531.4h0M487.2 530.9h0M487.3 530.5h0M487.4 530.1h0M487.5 529.7h0M487.7 529.3h0M487.8 528.9h0M487.9 528.5h0M488.0 528.1h0M488.1 527.9h0M488.2 527.7h0M488.3 527.5h0M488.4 527.4h0M488.5 527.2h0M488.6 527.0h0M488.8 526.9h0M488.9 526.7h0M489.0 526.6h0M489.1 526.4h0M489.2 526.2h0M489.3 526.1h0M489.4 525.9h0M489.5 525.7h0M489.6 525.6h0M489.8 525.4h0M489.9 525.2h0M490.0 525.1h0M490.1 524.9h0M490.2 524.7h0M490.3 524.6h0M490.4 524.4h0M490.5 524.3h0M490.6 524.1h0M490.7 523.9h0M490.9 523.8h0M491.0 523.7h0M491.1 523.5h0M491.2 523.4h0M491.3 523.3h0M491.4 523.1h0M491.5 523.0h0M491.6 522.9h0M491.7 522.7h0M491.9 522.6h0M492.0 522.5h0M492.1 522.3h0M492.2 522.2h0M492.3 522.1h0M492.4 521.9h0M492.5 521.8h0M492.6 521.7h0M492.7 521.5h0M492.8 521.4h0M493.0 521.3h0M493.1 521.1h0M493.2 521.0h0M493.3 520.9h0M493.4 520.7h0M493.5 520.6h0M493.6 520.5h0M493.7 520.3h0M493.8 520.2h0M494.0 520.1h0M494.1 519.9h0M494.2 519.9h0M494.3 519.8h0M494.4 519.7h0M494.5 519.6h0M494.6 519.5h0M494.7 519.4h0M494.8 519.3h0M494.9 519.2h0M495.1 519.1h0M495.2 519.0h0M495.3 519.0h0M495.4 518.9h0M495.5 518.8h0M495.6 518.7h0M495.7 518.6h0M495.8 518.5h0M495.9 518.4h0M496.1 518.3h0M496.2 518.2h0M496.3 518.1h0M496.4 518.1h0M496.5 518.0h0M496.6 517.9h0M496.7 517.8h0M496.8 517.7h0M496.9 517.6h0M497.1 517.5h0M497.2 517.4h0M497.3 517.3h0M497.4 517.2h0M497.5 517.2h0M497.6 517.1h0M497.7 517.0h0M497.8 516.9h0M497.9 516.7h0M498.0 516.5h0M498.2 516.4h0M498.3 516.2h0M498.4 516.0h0M498.5 515.8h0M498.6 515.7h0M498.7 515.5h0M498.8 515.3h0M498.9 515.2h0M499.0 515.0h0M499.2 514.8h0M499.3 514.7h0M499.4 514.5h0M499.5 514.3h0M499.6 514.2h0M499.7 514.0h0M499.8 513.8h0M499.9 513.6h0M500.0 513.5h0M500.1 513.3h0M500.3 513.1h0M500.4 513.0h0M500.5 512.8h0M500.6 512.6h0M500.7 512.5h0M500.8 512.3h0M500.9 512.1h0M501.0 511.9h0M501.1 511.7h0M501.3 511.5h0M501.4 511.3h0M501.5 511.1h0M501.6 511.0h0M501.7 510.8h0M501.8 510.6h0M501.9 510.4h0M502.0 510.2h0M502.1 510.0h0M502.2 509.8h0M502.4 509.6h0M502.5 509.4h0M502.6 509.2h0M502.7 509.0h0M502.8 508.8h0M502.9 508.6h0M503.0 508.4h0M503.1 508.2h0M503.2 508.0h0M503.4 507.8h0M503.5 507.6h0M503.6 507.4h0M503.7 507.2h0M503.8 507.0h0M503.9 506.8h0M504.0 506.6h0M504.1 506.4h0M504.2 506.2h0M504.3 506.0h0M504.5 505.8h0M504.6 505.6h0M504.7 505.4h0M504.8 505.2h0M504.9 505.0h0M505.0 504.7h0M505.1 504.4h0M505.2 504.0h0M505.3 503.7h0M505.5 503.4h0M505.6 503.1h0M505.7 502.8h0M505.8 502.5h0M505.9 502.1h0M506.0 501.8h0M506.1 501.5h0M506.2 501.2h0M506.3 500.9h0M506.5 500.6h0M506.6 500.3h0M506.7 499.9h0M506.8 499.6h0M506.9 499.3h0M507.0 499.0h0M507.6 495.7h0M507.8 494.4h0M508.1 492.5h0M508.3 491.2h0M508.4 490.5h0M508.7 489.2h0M509.1 486.4h0M509.4 484.4h0M509.5 483.5h0M510.1 477.8h0" stroke="#000000" stroke-width="2.0" stroke-linecap="round" fill="none"/>
<path d="M301.2 546.0h0M304.7 538.9h0M308.0 537.9h0M311.6 537.3h0M315.1 536.4h0M318.4 535.2h0M321.9 521.7h0M325.5 493.1h0M452.8 534.3h0M455.2 531.8h0M456.8 531.5h0M458.6 529.4h0M460.8 527.8h0M462.3 527.5h0M464.3 526.3h0M465.7 524.5h0M467.8 523.7h0M469.7 523.2h0M471.5 522.6h0M473.1 522.3h0M474.9 522.0h0M477.0 521.1h0M478.8 488.4h0" stroke="#000000" stroke-width="1.9" stroke-linecap="round" fill="none"/>
<path d="M53.2 578.5h0M53.6 578.4h0M53.7 578.5h0M53.3 578.3h0M53.6 577.7h0M54.2 578.5h0M53.8 577.6h0M54.0 578.3h0M54.5 577.9h0M54.7 577.3h0M54.3 577.0h0M54.4 577.4h0M54.5 577.8h0M55.0 576.8h0M54.7 578.3h0M54.8 578.5h0M54.8 575.6h0M55.1 577.5h0M55.1 578.2h0M55.6 576.0h0M55.7 578.4h0M55.3 575.5h0M55.5 577.7h0M55.5 576.3h0M55.8 576.0h0M55.9 576.1h0M56.1 574.9h0M56.4 578.2h0M55.9 574.5h0M56.3 577.4h0M56.2 578.5h0M56.9 577.5h0M57.0 577.8h0M56.6 577.2h0M56.9 578.0h0M57.2 577.0h0M57.3 573.2h0M57.7 574.7h0M57.4 578.1h0M57.8 576.2h0M57.5 575.5h0M57.9 574.5h0M58.1 575.9h0M58.4 577.9h0M58.4 573.0h0M58.0 577.7h0M58.5 572.7h0M58.5 573.0h0M58.4 574.1h0M58.9 575.2h0M59.2 577.6h0M59.2 575.8h0M59.4 576.4h0M59.8 578.0h0M59.4 577.5h0M59.7 575.5h0M59.9 571.7h0M59.7 577.5h0M60.1 577.1h0M60.0 572.0h0M60.5 574.9h0M60.7 577.7h0M60.5 573.4h0M60.7 577.5h0M61.1 571.1h0M60.6 575.4h0M60.8 574.2h0M61.3 570.3h0M61.0 576.3h0M61.2 575.6h0M61.3 575.0h0M61.3 572.6h0M61.7 578.1h0M61.9 576.9h0M61.9 576.6h0M62.4 577.1h0M62.2 570.9h0M62.6 570.4h0M62.8 572.6h0M62.7 574.9h0M62.8 574.9h0M63.1 574.8h0M63.1 572.0h0M63.6 575.1h0M63.5 578.0h0M63.5 569.4h0M64.0 578.2h0M64.4 574.0h0M64.1 574.0h0M64.2 570.5h0M64.7 574.9h0M64.4 570.5h0M64.5 574.5h0M64.8 575.6h0M64.9 576.5h0M64.9 567.4h0M65.3 577.8h0M65.3 577.8h0M65.6 578.1h0M65.7 568.8h0M65.8 576.0h0M66.0 573.7h0M66.2 577.7h0M66.2 572.0h0M66.3 575.6h0M66.5 578.4h0M66.2 568.7h0M66.2 568.8h0M66.4 575.6h0M66.7 572.7h0M66.8 569.6h0M67.0 571.6h0M67.1 574.7h0M66.7 572.8h0M67.1 568.7h0M67.0 567.9h0M67.3 569.6h0M67.6 569.2h0M68.0 573.0h0M67.7 572.5h0M67.7 572.8h0M68.3 576.5h0M68.1 574.1h0M68.1 568.1h0M68.2 575.2h0M68.6 576.5h0M68.9 571.9h0M68.8 574.2h0M69.3 575.9h0M69.3 568.8h0M69.1 569.1h0M69.0 578.2h0M69.5 575.2h0M69.5 573.1h0M69.3 567.9h0M69.6 575.9h0M69.4 570.8h0M69.9 574.1h0M70.0 577.5h0M69.8 578.1h0M70.1 578.0h0M69.8 573.7h0M70.0 573.1h0M70.1 568.4h0M70.2 573.7h0M70.7 576.8h0M70.7 570.1h0M70.9 564.3h0M70.8 573.5h0M70.8 570.5h0M71.0 575.6h0M71.1 571.7h0M71.4 571.4h0M71.1 572.5h0M71.4 573.4h0M71.5 575.0h0M72.1 561.9h0M72.2 571.4h0M71.9 568.5h0M72.4 565.1h0M72.4 574.6h0M72.2 570.2h0M72.6 563.7h0M72.4 570.1h0M72.6 570.8h0M72.9 575.9h0M72.5 572.5h0M73.0 577.9h0M73.1 568.3h0M73.0 577.7h0M72.9 578.2h0M73.3 573.2h0M73.3 576.5h0M73.7 573.3h0M73.3 564.1h0M74.0 573.5h0M73.7 561.1h0M74.0 566.3h0M74.1 569.4h0M74.3 570.6h0M74.6 578.4h0M74.5 570.9h0M74.4 572.3h0M74.7 562.5h0M74.5 562.9h0M74.5 570.1h0M74.8 567.2h0M75.2 562.7h0M74.9 576.1h0M74.9 577.3h0M75.5 572.2h0M75.2 559.0h0M75.5 569.1h0M75.4 562.5h0M75.5 565.8h0M76.0 564.7h0M75.7 573.4h0M76.1 562.7h0M76.0 561.5h0M76.4 565.8h0M76.6 573.7h0M76.7 567.1h0M76.3 573.3h0M76.6 571.4h0M76.5 556.7h0M76.9 566.6h0M76.6 571.6h0M76.9 558.4h0M77.0 563.7h0M77.2 573.4h0M77.3 576.3h0M77.6 575.1h0M77.3 570.2h0M77.6 557.8h0M77.4 576.6h0M77.6 570.2h0M77.5 575.4h0M78.0 571.0h0M77.6 566.0h0M77.8 571.6h0M77.9 564.2h0M78.1 567.7h0M78.6 554.6h0M78.1 574.1h0M78.5 564.3h0M78.8 561.7h0M78.7 562.7h0M78.7 577.3h0M79.0 566.3h0M79.2 551.6h0M79.0 575.6h0M78.9 564.3h0M79.0 559.8h0M79.6 566.4h0M79.5 551.4h0M53.0 580.2h0M53.6 580.4h0M54.8 580.3h0M55.7 580.3h0M56.9 580.2h0M57.3 580.2h0M58.7 580.4h0M59.2 580.3h0M59.7 580.4h0M60.4 580.4h0M60.9 580.5h0M61.8 580.5h0M62.2 580.3h0M62.8 580.4h0M64.0 580.3h0M64.5 580.2h0M65.4 580.5h0M66.6 580.6h0M67.2 580.5h0M69.1 580.3h0M69.6 580.2h0M70.2 580.4h0M70.7 580.4h0M71.3 580.5h0M71.9 580.3h0M72.5 580.4h0M73.3 580.5h0M73.9 580.4h0M74.5 580.2h0M75.2 580.4h0M75.6 580.2h0M76.5 580.4h0M77.0 580.3h0M77.6 580.6h0M78.2 580.6h0M79.4 580.4h0M53.0 582.9h0M54.5 582.6h0M54.9 582.7h0M55.7 582.7h0M56.0 582.9h0M56.6 582.8h0M57.3 582.8h0M58.0 582.8h0M58.7 583.0h0M59.2 582.9h0M59.9 582.9h0M60.6 582.9h0M61.1 582.8h0M61.6 582.7h0M62.8 582.7h0M63.4 582.8h0M63.9 582.6h0M64.8 582.7h0M65.4 582.8h0M66.1 582.9h0M66.5 582.8h0M67.9 582.7h0M68.9 582.9h0M70.8 582.9h0M71.6 582.9h0M72.0 582.9h0M72.5 582.6h0M73.5 583.0h0M74.0 582.8h0M74.5 583.0h0M75.8 582.7h0M76.3 582.9h0M77.5 582.6h0M78.2 582.8h0M78.9 582.9h0M79.4 582.8h0M54.4 586.1h0M55.4 586.0h0M56.8 586.0h0M57.2 586.1h0M58.0 586.0h0M58.6 586.1h0M59.0 585.9h0M60.3 586.0h0M61.3 586.0h0M62.2 586.2h0M62.7 586.1h0M63.5 586.0h0M66.1 586.2h0M66.4 586.0h0M67.0 586.0h0M68.4 585.9h0M69.2 585.9h0M69.7 586.2h0M70.2 586.2h0M72.9 586.1h0M73.2 586.2h0M73.9 586.0h0M74.5 586.2h0M75.8 586.0h0M76.5 586.0h0M76.9 586.2h0M77.7 586.1h0M78.0 586.0h0M78.7 586.1h0M79.4 586.1h0M53.1 591.6h0M53.9 591.3h0M55.1 591.4h0M56.1 591.5h0M56.7 591.5h0M57.9 591.3h0M59.3 591.4h0M60.5 591.5h0M63.6 591.5h0M66.6 591.4h0M67.8 591.4h0M70.2 591.6h0M71.5 591.6h0M73.5 591.4h0M74.0 591.5h0M77.7 591.5h0M78.3 591.4h0M83.8 576.0h0M84.5 576.0h0M84.4 575.6h0M84.7 574.2h0M84.9 575.4h0M84.8 576.1h0M84.9 576.4h0M85.2 573.9h0M85.3 572.7h0M85.6 575.0h0M85.2 574.7h0M85.6 573.8h0M85.4 573.8h0M85.5 575.7h0M85.6 574.9h0M86.1 576.1h0M86.1 576.3h0M85.8 572.8h0M86.0 573.0h0M86.1 572.8h0M86.1 575.9h0M86.4 575.3h0M86.8 570.5h0M86.8 573.0h0M86.7 574.2h0M86.8 576.0h0M87.0 576.4h0M86.9 574.6h0M87.3 576.4h0M87.2 573.6h0M87.2 573.4h0M87.2 573.2h0M87.6 576.3h0M87.8 572.0h0M88.0 569.3h0M87.7 576.1h0M88.4 571.5h0M88.3 570.9h0M88.5 575.0h0M88.6 570.4h0M88.3 571.8h0M88.5 573.3h0M88.9 570.8h0M88.7 570.9h0M88.9 570.7h0M89.1 570.9h0M88.8 571.3h0M89.2 568.7h0M89.4 572.3h0M89.5 575.9h0M89.4 575.1h0M89.6 573.7h0M89.3 567.5h0M89.9 570.1h0M90.0 569.1h0M89.8 571.6h0M89.9 567.0h0M90.3 568.7h0M90.4 574.8h0M90.2 570.0h0M90.5 569.1h0M90.9 575.0h0M90.7 575.4h0M90.8 574.8h0M91.1 566.1h0M91.2 569.7h0M91.0 566.3h0M91.1 567.4h0M91.2 570.7h0M91.4 571.7h0M91.3 575.9h0M91.8 572.5h0M91.5 574.4h0M91.6 576.1h0M92.1 572.3h0M91.9 565.2h0M92.0 573.5h0M92.1 566.3h0M91.9 571.7h0M92.4 575.2h0M92.6 572.8h0M92.6 570.0h0M92.3 568.8h0M92.7 575.0h0M93.2 565.4h0M93.2 566.5h0M93.4 568.5h0M93.1 574.2h0M93.6 570.8h0M93.6 567.4h0M93.8 570.0h0M94.2 573.8h0M94.2 576.1h0M94.3 572.2h0M94.3 574.3h0M94.4 568.9h0M94.6 564.8h0M94.6 571.0h0M94.5 576.2h0M95.1 573.3h0M95.2 572.3h0M94.7 574.5h0M95.2 569.2h0M95.2 574.5h0M95.0 571.1h0M95.2 565.9h0M95.4 567.0h0M95.6 573.6h0M95.4 571.5h0M95.5 564.7h0M96.2 569.6h0M96.2 568.3h0M96.3 570.6h0M96.2 570.2h0M96.2 573.0h0M96.4 575.4h0M97.0 574.0h0M97.0 565.8h0M97.5 570.4h0M97.5 566.3h0M97.6 573.8h0M97.6 568.4h0M97.3 576.4h0M97.9 573.9h0M97.7 571.8h0M97.9 575.5h0M97.9 572.6h0M98.3 564.9h0M98.2 568.5h0M98.4 569.9h0M98.7 575.3h0M98.2 565.9h0M98.3 573.5h0M98.7 575.3h0M99.1 570.6h0M98.8 576.4h0M99.3 566.3h0M99.3 570.5h0M99.1 573.6h0M99.5 567.6h0M99.3 565.1h0M99.9 561.9h0M100.0 573.1h0M100.0 568.4h0M99.9 567.7h0M100.2 568.6h0M100.2 575.0h0M100.4 575.4h0M100.3 570.0h0M100.5 571.4h0M100.3 568.4h0M100.5 568.1h0M100.9 569.7h0M101.1 568.4h0M101.2 575.1h0M101.0 576.4h0M101.1 572.6h0M101.5 566.0h0M101.6 571.5h0M101.6 562.2h0M102.0 563.8h0M101.8 572.5h0M102.3 562.6h0M102.0 562.5h0M102.1 574.7h0M102.1 575.8h0M102.3 574.6h0M102.8 570.7h0M102.7 575.6h0M102.6 561.2h0M102.9 573.4h0M103.0 561.5h0M103.0 568.6h0M103.4 571.9h0M103.3 570.7h0M103.4 565.9h0M103.6 561.6h0M103.4 562.1h0M103.5 563.5h0M103.5 575.6h0M103.7 565.7h0M103.8 565.2h0M104.1 564.8h0M103.8 570.2h0M103.9 568.1h0M104.3 569.0h0M104.4 568.8h0M104.3 567.2h0M104.8 574.9h0M105.1 576.0h0M105.0 571.2h0M105.1 572.1h0M105.3 565.3h0M105.3 572.9h0M105.4 571.1h0M105.5 559.4h0M105.6 573.1h0M105.9 568.7h0M105.8 572.7h0M105.9 564.5h0M106.3 573.3h0M106.4 559.0h0M106.3 572.1h0M106.4 564.1h0M106.9 571.5h0M107.0 572.4h0M107.1 571.1h0M107.1 559.2h0M107.2 570.0h0M107.4 560.0h0M107.6 569.9h0M107.4 569.4h0M107.4 568.1h0M107.6 563.1h0M108.1 567.4h0M107.9 575.1h0M108.1 575.1h0M107.8 571.1h0M108.3 562.7h0M108.2 571.8h0M108.4 571.0h0M108.8 560.4h0M108.7 566.2h0M108.8 556.9h0M108.7 566.0h0M109.2 572.3h0M108.9 560.7h0M109.1 571.5h0M109.3 576.2h0M109.5 573.3h0M109.5 566.5h0M109.5 566.0h0M109.7 563.3h0M109.7 565.8h0M109.8 574.8h0M110.1 560.9h0M110.0 572.0h0M110.2 557.8h0M110.5 552.9h0M110.6 553.8h0M83.7 577.3h0M86.0 577.3h0M87.0 577.4h0M87.9 577.4h0M90.8 577.5h0M91.3 577.4h0M95.4 577.2h0M96.3 577.3h0M96.7 577.4h0M97.5 577.3h0M99.2 577.3h0M100.3 577.5h0M102.2 577.3h0M102.7 577.5h0M103.2 577.3h0M105.4 577.5h0M105.6 577.5h0M107.1 577.5h0M108.0 577.3h0M109.0 577.5h0M109.2 577.3h0M110.1 577.5h0M84.1 580.1h0M84.8 580.2h0M87.3 579.9h0M88.2 580.0h0M90.3 580.1h0M91.2 579.9h0M92.1 580.0h0M93.0 580.1h0M93.6 579.8h0M94.3 580.0h0M95.0 579.9h0M95.6 579.9h0M96.7 579.8h0M97.3 579.9h0M97.9 579.8h0M99.1 580.0h0M99.6 580.1h0M101.7 580.0h0M108.9 580.0h0M110.6 580.0h0M88.9 582.0h0M91.9 582.1h0M92.6 582.1h0M95.0 582.0h0M95.5 582.2h0M99.1 582.0h0M103.2 582.2h0M105.8 582.1h0M107.2 582.1h0M109.5 582.0h0M82.6 585.6h0M141.0 513.5h0M141.0 515.0h0M141.0 474.9h0M113.6 574.5h0M113.6 575.4h0M113.3 577.8h0M113.8 573.6h0M113.8 572.5h0M114.0 575.1h0M113.7 575.4h0M113.9 569.7h0M114.4 576.0h0M114.3 576.7h0M114.5 572.4h0M114.5 572.4h0M114.3 568.6h0M114.6 573.4h0M114.8 572.7h0M114.7 574.0h0M114.9 566.4h0M114.8 572.2h0M114.9 577.7h0M115.2 572.1h0M115.4 572.1h0M115.3 573.0h0M115.7 566.2h0M115.4 570.3h0M115.6 572.5h0M115.8 576.7h0M115.7 568.7h0M116.0 575.3h0M116.3 565.4h0M116.6 564.3h0M116.5 575.8h0M116.4 568.2h0M116.3 573.2h0M116.6 562.6h0M116.7 577.7h0M116.6 577.6h0M116.9 578.3h0M116.8 563.4h0M116.7 570.1h0M117.0 574.9h0M117.2 563.4h0M117.5 561.6h0M117.6 563.1h0M117.3 574.0h0M117.5 578.4h0M117.5 570.3h0M118.0 564.1h0M117.8 564.6h0M117.6 563.4h0M117.8 561.2h0M118.1 562.8h0M117.8 564.4h0M118.3 561.5h0M117.9 568.8h0M118.0 576.4h0M118.0 564.4h0M118.5 574.8h0M118.4 573.3h0M118.3 567.1h0M118.8 566.9h0M118.4 568.9h0M119.0 569.5h0M118.8 562.8h0M118.8 573.4h0M119.0 570.5h0M119.2 565.7h0M119.2 574.9h0M119.4 568.6h0M119.4 560.1h0M119.6 561.6h0M119.5 570.3h0M119.8 564.4h0M119.9 572.5h0M119.5 578.2h0M119.7 563.5h0M119.9 558.7h0M119.9 578.2h0M120.2 574.7h0M120.3 574.4h0M120.0 574.6h0M120.0 572.7h0M120.6 559.7h0M120.7 560.8h0M120.9 558.9h0M120.9 561.7h0M121.1 563.4h0M121.0 560.6h0M120.9 578.6h0M121.1 575.3h0M121.3 577.2h0M121.2 571.7h0M121.4 574.0h0M121.1 558.9h0M121.4 561.0h0M121.6 575.2h0M121.4 558.7h0M121.6 557.5h0M121.8 559.5h0M121.8 570.7h0M121.8 561.7h0M121.8 572.9h0M121.8 574.3h0M122.4 577.4h0M122.2 564.2h0M122.3 556.5h0M122.2 565.7h0M122.3 562.2h0M122.4 558.9h0M122.5 572.8h0M123.1 560.4h0M123.0 559.1h0M122.8 561.3h0M123.3 556.6h0M123.0 563.2h0M123.2 566.7h0M123.4 556.8h0M123.3 567.2h0M123.4 561.8h0M123.3 555.5h0M123.6 562.1h0M123.9 564.0h0M123.9 555.3h0M124.0 561.0h0M124.1 562.1h0M124.3 558.5h0M124.3 557.6h0M124.2 562.4h0M124.1 557.4h0M124.5 565.9h0M124.4 562.5h0M125.0 562.1h0M124.7 575.0h0M124.7 566.7h0M125.2 568.5h0M125.3 573.7h0M125.3 572.0h0M125.3 568.5h0M125.3 554.3h0M125.5 572.4h0M125.3 564.9h0M125.6 570.9h0M125.9 575.2h0M126.1 554.6h0M126.2 567.9h0M126.3 576.8h0M126.0 557.9h0M126.6 557.6h0M126.2 557.6h0M126.3 554.6h0M126.3 558.5h0M126.4 575.0h0M127.1 567.9h0M127.1 556.3h0M127.1 555.1h0M126.8 555.6h0M127.1 554.2h0M127.3 556.3h0M127.0 577.3h0M127.4 575.8h0M127.2 566.4h0M127.4 572.5h0M127.4 555.0h0M127.8 553.1h0M127.9 554.4h0M128.1 560.1h0M128.0 559.6h0M128.1 575.0h0M128.3 565.4h0M128.1 553.3h0M128.0 569.5h0M128.6 552.9h0M128.5 553.4h0M128.5 553.7h0M128.5 563.7h0M128.6 562.9h0M128.7 566.0h0M128.8 560.1h0M129.5 576.0h0M129.3 578.7h0M129.5 561.3h0M129.6 553.0h0M129.7 568.0h0M129.4 575.7h0M129.6 553.9h0M129.6 554.4h0M129.8 555.5h0M129.9 564.0h0M129.8 578.8h0M130.0 577.1h0M130.4 576.3h0M130.2 564.1h0M130.5 568.8h0M130.6 557.6h0M130.7 565.4h0M130.8 577.9h0M130.6 564.5h0M130.8 552.5h0M130.9 559.7h0M131.3 577.8h0M131.4 552.9h0M131.3 566.9h0M131.6 559.2h0M131.3 564.9h0M131.7 568.2h0M131.5 554.7h0M131.4 565.7h0M131.7 552.8h0M132.1 552.8h0M132.2 576.0h0M132.3 560.7h0M131.9 562.2h0M132.3 570.0h0M132.2 549.9h0M132.2 574.2h0M132.5 551.2h0M132.9 560.0h0M132.8 565.9h0M132.6 560.4h0M132.8 554.6h0M133.0 549.2h0M133.0 549.5h0M132.9 552.9h0M133.5 557.3h0M133.6 552.0h0M133.8 577.3h0M133.9 554.7h0M134.2 571.5h0M134.0 549.4h0M134.5 549.7h0M134.7 572.4h0M134.7 575.3h0M134.8 551.7h0M134.8 554.9h0M134.6 576.7h0M135.3 557.5h0M135.3 568.2h0M135.7 548.0h0M135.5 548.6h0M135.8 564.4h0M135.9 570.8h0M135.9 553.3h0M136.4 575.8h0M136.2 572.2h0M136.4 569.1h0M136.3 567.2h0M136.7 547.2h0M136.7 578.1h0M136.5 552.5h0M136.6 547.9h0M136.5 553.9h0M136.8 562.1h0M136.6 567.7h0M136.9 567.4h0M136.8 565.1h0M137.1 561.0h0M137.3 546.6h0M137.3 577.4h0M137.3 576.9h0M137.8 552.4h0M137.5 564.9h0M137.7 550.4h0M138.1 561.9h0M138.0 576.3h0M138.1 564.6h0M138.2 570.9h0M138.3 545.5h0M138.1 545.3h0M138.3 572.2h0M138.6 554.1h0M138.6 547.0h0M138.8 546.3h0M138.9 572.6h0M138.7 549.8h0M139.3 554.6h0M139.3 545.3h0M139.0 546.2h0M139.2 576.6h0M139.0 577.1h0M139.2 564.6h0M139.1 574.2h0M139.4 554.9h0M139.6 556.5h0M139.7 563.9h0M139.6 577.3h0M139.7 560.1h0M140.0 564.7h0M140.0 541.9h0M140.2 561.5h0M140.5 544.4h0M140.5 569.7h0M140.7 539.6h0M140.9 558.7h0M140.7 548.0h0M141.1 560.5h0M114.0 580.5h0M114.8 580.3h0M118.2 580.4h0M121.3 580.5h0M126.3 580.7h0M126.8 580.4h0M127.6 580.6h0M128.2 580.6h0M128.5 580.5h0M139.1 580.5h0M140.5 580.5h0M144.9 565.3h0M145.2 561.2h0M145.5 567.3h0M145.3 561.6h0M145.6 562.7h0M146.2 560.8h0M146.1 568.4h0M146.9 558.8h0M147.0 567.0h0M147.4 561.7h0M147.4 558.6h0M147.9 558.8h0M148.1 564.0h0M148.1 557.8h0M148.3 560.2h0M149.0 561.2h0M149.0 556.4h0M149.1 555.7h0M149.9 557.3h0M149.9 571.3h0M150.0 555.4h0M150.4 555.2h0M150.7 560.2h0M150.7 564.2h0M151.3 554.5h0M151.7 555.5h0M151.8 553.9h0M151.9 553.2h0M152.5 560.8h0M152.6 554.0h0M152.7 556.3h0M153.4 553.4h0M153.5 552.7h0M153.7 551.4h0M154.3 553.0h0M154.2 558.2h0M154.3 556.7h0M154.7 570.0h0M155.1 560.1h0M155.7 570.5h0M155.9 551.1h0M155.9 555.6h0M156.2 551.6h0M156.6 550.6h0M157.0 549.4h0M156.9 566.7h0M157.6 550.2h0M157.3 552.5h0M158.0 549.5h0M158.4 547.7h0M158.1 561.7h0M158.8 571.3h0M159.2 548.7h0M159.0 547.3h0M159.8 548.0h0M160.1 549.5h0M159.8 547.3h0M160.2 546.4h0M160.7 558.1h0M160.7 554.0h0M161.0 545.3h0M161.6 545.5h0M161.9 546.7h0M161.8 546.1h0M162.1 545.0h0M162.5 545.2h0M163.0 544.3h0M163.2 545.3h0M163.2 546.5h0M163.7 545.8h0M163.8 554.3h0M164.0 544.8h0M164.5 550.4h0M164.6 545.5h0M165.1 569.1h0M165.6 546.0h0M165.2 548.5h0M165.9 545.6h0M166.3 544.5h0M166.1 544.8h0M166.8 542.3h0M167.0 550.3h0M167.2 543.0h0M167.4 543.2h0M167.9 545.5h0M167.8 540.7h0M168.3 540.6h0M168.5 545.3h0M168.9 540.2h0M169.2 540.5h0M169.6 544.5h0M169.7 556.8h0M169.6 544.4h0M170.2 543.5h0M170.2 539.4h0M170.9 541.3h0M170.8 538.9h0M171.5 537.8h0M171.4 540.4h0M172.1 540.5h0M172.1 545.3h0M144.6 591.3h0M202.1 480.5h0M174.8 564.4h0M174.8 569.5h0M175.0 559.1h0M175.4 561.6h0M175.4 558.1h0M175.8 559.0h0M175.4 559.5h0M175.6 559.5h0M176.1 580.7h0M175.9 558.1h0M176.0 582.6h0M176.3 556.6h0M176.6 555.6h0M176.3 574.3h0M176.8 558.7h0M176.8 554.9h0M177.1 557.1h0M176.7 555.3h0M177.3 554.8h0M177.1 558.9h0M177.3 555.0h0M177.2 554.1h0M177.8 572.9h0M177.6 554.3h0M177.7 563.4h0M177.8 554.6h0M177.9 564.2h0M178.1 576.5h0M178.6 554.2h0M178.3 556.7h0M178.3 558.2h0M178.8 575.2h0M178.8 555.0h0M179.0 553.7h0M178.9 578.6h0M179.0 553.9h0M179.6 553.4h0M179.7 579.7h0M179.5 560.4h0M179.7 557.7h0M179.8 557.9h0M180.2 552.6h0M180.2 551.6h0M180.1 551.9h0M180.1 552.7h0M180.6 551.2h0M180.5 555.0h0M181.0 551.3h0M180.6 553.1h0M180.8 553.3h0M181.2 561.8h0M181.0 582.2h0M181.3 552.4h0M181.4 550.8h0M181.5 550.7h0M181.9 551.8h0M181.8 555.9h0M182.1 551.9h0M181.8 554.6h0M182.0 551.6h0M182.5 552.6h0M182.3 551.7h0M182.5 555.6h0M182.7 549.5h0M182.5 556.0h0M182.7 552.4h0M183.0 575.4h0M183.2 549.2h0M183.1 551.6h0M183.3 549.5h0M183.6 553.2h0M183.8 549.9h0M183.6 555.8h0M183.9 550.5h0M184.2 551.6h0M184.2 549.4h0M184.4 549.5h0M184.3 548.9h0M184.7 550.1h0M184.6 548.8h0M184.5 549.4h0M185.2 548.8h0M185.2 548.2h0M185.1 550.0h0M185.4 551.9h0M185.2 553.1h0M185.8 560.8h0M185.4 547.9h0M185.5 551.7h0M185.6 548.2h0M186.3 547.8h0M186.1 559.5h0M186.5 579.4h0M186.2 556.2h0M186.2 568.6h0M186.9 548.0h0M186.6 551.5h0M186.7 551.4h0M187.0 548.8h0M186.9 547.5h0M187.5 547.7h0M187.2 551.1h0M187.4 550.3h0M187.6 554.5h0M187.7 547.1h0M187.9 558.3h0M187.7 547.6h0M187.8 551.1h0M188.3 547.8h0M188.5 550.4h0M188.5 546.4h0M188.8 547.0h0M188.6 554.6h0M188.5 555.3h0M188.8 548.8h0M189.3 546.6h0M189.0 553.5h0M189.6 547.2h0M189.4 556.7h0M189.5 567.0h0M189.8 549.3h0M189.9 550.1h0M190.2 545.6h0M189.9 548.1h0M190.5 550.9h0M190.1 547.4h0M190.6 555.5h0M190.4 545.8h0M190.8 545.2h0M190.7 545.5h0M190.9 545.5h0M190.9 545.4h0M190.9 546.0h0M191.2 544.9h0M191.4 545.0h0M191.6 554.7h0M191.9 545.0h0M192.0 548.5h0M192.0 545.5h0M192.2 545.9h0M192.0 545.7h0M192.2 556.0h0M192.2 547.1h0M192.8 544.2h0M192.9 547.1h0M192.8 545.4h0M193.1 546.2h0M192.8 564.1h0M193.3 549.1h0M193.2 549.6h0M193.1 544.9h0M193.5 547.9h0M193.9 544.9h0M194.0 548.2h0M194.0 573.2h0M193.8 546.0h0M194.1 549.2h0M194.0 545.6h0M194.6 545.5h0M194.7 543.1h0M194.7 557.8h0M194.6 544.7h0M194.6 544.5h0M195.1 542.5h0M195.3 544.0h0M195.1 546.7h0M195.3 545.0h0M195.5 542.6h0M195.7 542.4h0M196.0 546.9h0M195.9 549.7h0M195.9 542.9h0M195.8 542.3h0M196.3 546.2h0M196.4 543.9h0M196.2 544.6h0M196.4 547.3h0M196.6 546.9h0M196.9 542.6h0M197.1 554.5h0M196.8 548.8h0M197.2 546.8h0M197.6 544.2h0M197.3 542.2h0M197.8 553.9h0M197.6 540.4h0M198.1 542.2h0M198.2 542.0h0M197.8 544.0h0M198.3 542.1h0M198.1 551.0h0M198.5 559.4h0M198.8 538.9h0M198.5 540.4h0M199.0 541.0h0M198.8 539.3h0M199.0 538.4h0M198.9 540.1h0M199.1 540.1h0M199.5 537.1h0M199.7 547.2h0M199.7 561.5h0M199.8 563.4h0M200.0 536.2h0M200.2 534.4h0M200.1 533.6h0M200.1 533.4h0M200.1 553.0h0M200.4 573.4h0M200.4 532.5h0M200.9 529.8h0M201.1 534.9h0M200.8 540.3h0M200.9 527.2h0M201.3 523.5h0M201.4 566.3h0M201.3 523.9h0M188.1 590.8h0M188.9 590.7h0M191.8 590.5h0M194.2 590.7h0M194.9 590.7h0M200.7 590.7h0M174.9 568.2h0M175.6 574.2h0M174.9 573.0h0M175.0 582.2h0M175.4 580.2h0M175.1 563.0h0M233.3 473.8h0M233.3 471.0h0M205.5 565.6h0M205.7 559.6h0M205.9 570.2h0M205.8 562.0h0M206.1 570.3h0M206.5 557.2h0M206.5 558.5h0M206.8 556.0h0M206.5 555.6h0M206.7 556.1h0M206.8 555.2h0M207.0 555.3h0M206.9 558.9h0M207.4 553.9h0M207.3 563.9h0M207.6 556.2h0M207.2 555.1h0M207.6 558.7h0M207.9 575.6h0M207.9 556.5h0M208.1 555.9h0M207.8 558.8h0M208.3 571.9h0M208.2 556.0h0M208.5 561.6h0M208.4 556.7h0M208.3 553.0h0M208.7 553.8h0M208.9 573.4h0M209.0 567.9h0M209.1 571.4h0M208.8 572.4h0M209.0 551.8h0M209.2 562.0h0M209.2 559.1h0M209.4 553.2h0M209.4 552.5h0M209.8 556.2h0M209.6 553.2h0M209.8 552.3h0M209.9 567.1h0M210.2 575.6h0M210.4 555.2h0M210.4 556.1h0M210.1 553.7h0M210.8 572.3h0M210.6 551.0h0M210.7 550.6h0M210.7 552.8h0M210.9 551.9h0M211.2 551.7h0M210.9 551.9h0M211.2 551.5h0M211.2 549.7h0M211.3 559.0h0M211.4 551.4h0M211.5 554.2h0M211.5 550.2h0M212.0 550.4h0M212.0 572.2h0M212.2 549.8h0M211.9 566.7h0M212.0 555.9h0M212.3 551.4h0M212.2 571.8h0M212.7 548.8h0M212.5 551.2h0M212.5 569.3h0M212.8 550.2h0M213.2 552.3h0M213.2 550.0h0M213.1 571.5h0M213.6 550.5h0M213.6 568.8h0M213.7 551.2h0M213.8 548.7h0M213.4 549.9h0M213.7 548.6h0M213.9 549.0h0M214.0 549.8h0M214.3 566.5h0M214.1 549.0h0M214.5 548.4h0M214.3 549.1h0M214.8 552.2h0M214.4 552.9h0M215.0 551.6h0M214.9 550.4h0M215.0 548.7h0M215.0 561.1h0M214.9 549.2h0M215.1 553.2h0M215.6 551.0h0M215.4 564.1h0M215.5 553.1h0M215.5 549.3h0M215.5 555.5h0M216.0 547.4h0M216.1 548.3h0M215.9 559.3h0M215.9 547.8h0M216.5 549.6h0M216.3 550.4h0M216.8 552.3h0M216.8 548.7h0M216.8 548.8h0M217.1 559.8h0M217.1 547.6h0M217.0 547.0h0M217.2 554.6h0M217.0 554.6h0M217.2 549.4h0M217.4 548.5h0M217.8 564.1h0M217.6 547.0h0M218.1 547.1h0M217.7 549.1h0M218.2 549.2h0M218.4 548.5h0M218.2 546.2h0M218.1 565.4h0M218.6 547.6h0M218.6 546.6h0M218.9 554.4h0M218.8 546.3h0M218.6 546.0h0M218.9 552.8h0M218.9 551.6h0M219.1 547.0h0M219.2 547.6h0M219.2 546.8h0M219.2 548.4h0M219.5 545.6h0M219.9 551.6h0M219.6 555.0h0M219.9 545.3h0M220.1 545.5h0M220.3 547.0h0M220.1 565.2h0M220.6 548.9h0M220.4 547.2h0M220.6 555.2h0M220.4 547.5h0M220.8 546.9h0M221.0 553.7h0M220.6 545.9h0M221.0 573.4h0M221.0 547.9h0M220.9 547.6h0M221.6 545.8h0M221.6 554.2h0M221.6 546.1h0M221.6 553.5h0M222.0 547.1h0M222.1 552.8h0M221.7 545.7h0M221.9 547.1h0M221.9 544.3h0M222.5 546.1h0M222.2 546.0h0M222.6 545.3h0M222.3 545.4h0M223.0 550.4h0M222.8 545.6h0M223.1 545.3h0M223.1 546.4h0M223.2 543.7h0M223.3 545.1h0M223.6 544.1h0M223.7 544.3h0M223.7 545.5h0M223.4 546.2h0M223.6 543.7h0M224.0 544.6h0M224.2 563.0h0M224.0 570.7h0M224.0 546.7h0M224.4 542.9h0M224.5 549.1h0M224.2 544.2h0M224.3 553.7h0M224.4 545.4h0M225.0 542.7h0M224.6 556.5h0M224.8 543.6h0M224.8 542.9h0M224.9 543.9h0M225.0 547.8h0M225.4 559.7h0M225.5 568.0h0M225.6 547.3h0M225.6 549.9h0M225.8 543.1h0M226.2 542.5h0M225.9 543.9h0M225.8 544.4h0M226.2 546.6h0M226.2 543.1h0M226.5 546.5h0M226.4 540.7h0M226.8 540.7h0M227.0 540.9h0M226.8 545.3h0M227.1 543.2h0M227.1 568.4h0M226.9 540.5h0M227.2 543.4h0M227.3 542.7h0M227.3 541.8h0M227.4 543.2h0M227.7 560.0h0M227.8 540.0h0M227.6 555.3h0M227.9 550.9h0M228.3 541.3h0M228.4 544.7h0M228.5 544.7h0M228.6 559.8h0M228.6 570.7h0M228.4 538.2h0M229.0 566.4h0M228.8 546.3h0M228.9 536.6h0M229.1 539.5h0M229.4 535.6h0M229.1 534.8h0M229.1 534.5h0M229.2 534.4h0M229.6 533.9h0M229.7 533.7h0M229.5 533.5h0M229.9 532.3h0M229.8 532.6h0M230.2 532.5h0M230.4 534.5h0M230.6 533.1h0M230.4 535.1h0M230.7 530.9h0M230.5 531.6h0M230.7 535.5h0M231.0 530.3h0M231.1 532.7h0M230.9 528.2h0M231.2 529.0h0M230.9 568.3h0M231.6 529.0h0M231.2 526.9h0M231.7 526.5h0M231.8 525.5h0M232.0 573.5h0M231.9 526.4h0M232.2 524.6h0M232.2 526.7h0M232.0 535.2h0M232.5 522.0h0M232.2 521.6h0M232.5 519.4h0M232.5 522.3h0M232.4 519.6h0M232.6 522.9h0M233.1 515.3h0M232.8 512.2h0M233.1 515.3h0M233.2 505.7h0M231.8 572.9h0M231.8 572.7h0M230.9 569.8h0M231.9 556.1h0M230.9 574.1h0M232.0 545.6h0M231.6 555.5h0M231.8 562.1h0M231.9 573.8h0M231.1 566.1h0M231.1 548.9h0M231.7 559.5h0M232.0 577.2h0M231.9 561.6h0M231.1 556.5h0M230.9 562.9h0M263.5 520.3h0M264.0 506.5h0M236.6 562.7h0M237.1 556.8h0M237.6 554.8h0M238.1 557.1h0M238.5 552.2h0M239.0 554.1h0M239.4 549.4h0M239.8 549.0h0M240.7 550.4h0M241.2 551.6h0M241.2 548.4h0M242.0 549.4h0M242.2 555.3h0M243.0 547.8h0M243.5 557.8h0M244.0 547.0h0M244.7 549.2h0M245.0 547.0h0M245.3 547.4h0M246.1 547.2h0M246.2 547.2h0M247.2 546.2h0M247.2 550.6h0M247.9 548.6h0M248.2 545.5h0M249.0 546.1h0M249.3 548.9h0M249.8 545.8h0M250.4 546.7h0M250.8 545.5h0M251.2 545.1h0M251.9 546.6h0M252.3 549.6h0M253.0 554.4h0M253.2 544.6h0M253.7 544.4h0M254.4 546.4h0M255.2 543.9h0M255.2 547.3h0M255.6 544.2h0M256.3 543.4h0M257.1 542.0h0M257.6 545.5h0M258.1 541.6h0M258.4 542.1h0M259.1 541.8h0M259.4 540.7h0M259.9 540.8h0M260.6 542.3h0M260.6 541.0h0M261.7 539.0h0M261.9 542.9h0M262.5 547.1h0M262.8 538.6h0M263.6 538.3h0M236.8 562.3h0M253.0 557.2h0M260.5 555.5h0M294.8 489.0h0M294.8 510.0h0M269.5 568.0h0M269.5 570.1h0M269.7 567.8h0M269.8 570.0h0M269.9 564.0h0M269.4 564.7h0M269.6 562.9h0M270.2 569.5h0M270.0 563.7h0M270.2 559.6h0M270.0 567.9h0M270.3 558.0h0M270.5 562.5h0M270.5 566.2h0M270.7 557.0h0M270.8 563.0h0M270.6 560.0h0M270.5 556.9h0M270.9 558.5h0M270.6 562.8h0M270.7 557.2h0M270.8 559.1h0M270.9 554.5h0M271.2 554.7h0M271.1 567.1h0M271.2 553.7h0M271.3 557.0h0M271.8 558.7h0M271.9 552.9h0M271.8 568.2h0M271.8 553.0h0M271.7 557.8h0M272.0 553.3h0M272.3 551.4h0M272.0 569.8h0M272.5 561.0h0M272.1 552.2h0M272.3 554.6h0M272.6 557.2h0M272.5 554.9h0M272.5 552.6h0M272.4 550.3h0M272.6 550.4h0M273.1 550.2h0M273.2 554.8h0M272.9 552.9h0M273.1 552.9h0M273.4 552.8h0M273.1 556.7h0M273.7 549.9h0M273.8 550.0h0M273.4 552.9h0M273.5 550.2h0M273.8 553.9h0M273.6 556.8h0M273.8 561.7h0M273.9 549.0h0M273.9 552.3h0M274.2 558.6h0M274.5 551.7h0M274.2 547.7h0M274.5 572.7h0M274.5 552.2h0M274.8 557.5h0M274.5 552.7h0M274.9 556.2h0M274.6 549.6h0M274.6 546.9h0M274.8 551.4h0M275.4 547.8h0M275.3 548.0h0M275.0 555.5h0M275.3 552.2h0M275.6 546.2h0M275.3 547.2h0M275.5 545.8h0M275.7 550.4h0M276.0 548.1h0M275.9 548.7h0M276.0 555.1h0M276.1 552.1h0M276.3 545.7h0M276.1 549.9h0M276.4 549.1h0M276.4 552.2h0M276.2 572.4h0M276.3 550.1h0M276.8 545.4h0M276.4 545.6h0M276.7 551.6h0M276.7 548.8h0M276.8 547.5h0M277.1 550.5h0M276.9 544.9h0M276.9 548.3h0M277.5 548.7h0M277.6 547.0h0M277.6 544.2h0M277.5 544.7h0M277.4 561.5h0M277.4 549.7h0M278.0 552.7h0M278.0 544.7h0M277.9 556.3h0M277.9 547.4h0M278.2 547.2h0M278.0 544.0h0M278.4 546.2h0M278.4 548.1h0M278.2 562.8h0M278.7 551.6h0M278.5 545.7h0M278.4 546.7h0M278.7 556.0h0M278.8 543.5h0M278.9 544.4h0M279.0 545.5h0M279.3 543.3h0M279.0 565.7h0M279.1 561.3h0M279.6 553.8h0M279.5 553.0h0M279.7 543.8h0M279.8 550.8h0M279.9 552.4h0M280.0 549.8h0M280.0 544.6h0M280.2 543.3h0M280.0 548.7h0M280.3 552.7h0M279.9 545.8h0M280.1 544.8h0M280.2 542.6h0M280.6 549.4h0M280.4 571.1h0M280.7 543.0h0M281.0 543.7h0M280.7 547.6h0M280.8 541.8h0M281.0 547.1h0M280.9 548.6h0M281.3 542.0h0M281.4 545.9h0M281.1 549.7h0M281.2 543.7h0M281.3 551.4h0M281.6 547.6h0M281.9 547.1h0M281.6 564.2h0M282.0 541.7h0M281.7 542.2h0M281.9 542.4h0M281.9 541.8h0M281.9 545.0h0M282.2 553.2h0M282.3 544.0h0M282.5 544.3h0M282.4 547.4h0M282.7 542.6h0M282.5 540.9h0M282.8 545.6h0M283.0 547.3h0M282.9 560.9h0M283.2 545.7h0M283.1 543.6h0M283.2 542.7h0M283.5 553.0h0M283.4 545.3h0M283.6 551.7h0M283.5 556.2h0M283.8 545.2h0M283.8 541.8h0M283.8 542.6h0M283.7 542.8h0M284.2 549.3h0M283.7 548.4h0M283.8 544.4h0M284.2 550.1h0M284.3 544.5h0M284.4 543.4h0M284.4 543.0h0M284.5 542.8h0M284.7 553.2h0M284.8 542.9h0M284.9 540.7h0M284.9 561.1h0M284.8 547.7h0M285.2 541.5h0M284.9 539.3h0M284.8 545.4h0M285.2 542.7h0M285.6 552.2h0M285.2 543.8h0M285.7 543.2h0M285.3 541.4h0M285.4 539.4h0M285.7 538.8h0M285.9 539.2h0M285.7 544.8h0M286.2 554.3h0M286.1 543.9h0M285.9 541.4h0M286.4 543.0h0M286.4 553.1h0M286.2 539.2h0M286.2 542.2h0M286.3 543.6h0M286.6 539.1h0M286.5 538.3h0M287.1 540.2h0M286.8 539.6h0M287.2 539.1h0M286.8 565.8h0M287.1 540.2h0M287.2 539.6h0M287.3 538.4h0M287.6 542.6h0M287.8 538.9h0M287.4 537.8h0M287.7 543.0h0M287.8 565.1h0M287.6 539.6h0M287.7 547.1h0M287.8 543.5h0M287.9 553.4h0M288.2 538.4h0M288.0 538.9h0M288.3 537.2h0M288.1 547.0h0M288.7 537.7h0M288.6 539.1h0M288.6 546.6h0M288.7 540.9h0M289.0 536.6h0M288.6 540.2h0M288.9 537.9h0M289.2 537.8h0M289.2 536.6h0M289.0 540.5h0M289.6 537.7h0M289.6 536.5h0M289.7 546.5h0M289.7 550.3h0M289.4 541.4h0M289.8 540.6h0M290.1 540.1h0M289.6 551.9h0M289.8 538.0h0M290.0 535.7h0M290.4 536.2h0M290.5 537.4h0M290.5 555.6h0M290.2 547.9h0M290.8 546.7h0M290.6 536.2h0M290.9 536.5h0M290.7 535.8h0M291.1 536.8h0M291.0 558.6h0M291.0 535.9h0M290.9 545.4h0M291.4 546.2h0M291.1 538.5h0M291.4 536.3h0M291.2 543.6h0M291.5 535.8h0M291.4 534.9h0M291.6 533.6h0M291.7 537.8h0M291.7 537.2h0M291.9 537.9h0M291.8 534.2h0M292.2 535.2h0M292.1 532.7h0M292.0 539.2h0M292.4 534.8h0M292.2 539.1h0M292.8 534.8h0M292.7 533.5h0M292.6 537.7h0M292.6 536.4h0M293.1 536.8h0M293.0 534.2h0M293.2 531.7h0M293.3 531.8h0M293.3 533.8h0M293.0 529.8h0M293.4 538.5h0M293.1 533.7h0M293.7 539.3h0M293.6 529.3h0M293.5 556.9h0M293.7 530.1h0M293.8 528.4h0M294.2 527.3h0M293.7 528.1h0M294.2 532.5h0M294.2 526.6h0M294.3 527.2h0M294.5 525.6h0M294.4 526.1h0M294.6 522.8h0M294.8 531.1h0M294.6 517.7h0M270.5 599.4h0M270.9 598.9h0M271.8 599.4h0M272.4 599.3h0M272.8 599.4h0M274.0 599.3h0M274.6 599.0h0M275.5 599.4h0M301.2 572.7h0M304.7 569.8h0M308.0 544.5h0M311.6 537.7h0M315.1 545.6h0M318.4 536.2h0M321.9 524.0h0M325.5 500.7h0M328.8 563.7h0M329.0 565.5h0M328.8 557.5h0M329.2 555.3h0M329.0 555.4h0M329.1 553.9h0M329.6 557.6h0M329.6 552.9h0M329.9 553.8h0M329.8 552.3h0M330.0 551.8h0M330.2 551.7h0M329.9 551.9h0M330.0 553.1h0M330.5 551.7h0M330.8 553.6h0M330.7 562.2h0M330.8 552.4h0M330.9 552.9h0M330.8 548.2h0M331.2 552.5h0M331.1 547.8h0M331.7 547.2h0M331.3 546.9h0M331.6 547.2h0M331.9 546.8h0M331.8 546.7h0M332.2 546.6h0M332.1 548.5h0M332.2 547.7h0M332.6 552.3h0M332.7 547.0h0M332.5 545.2h0M332.7 557.7h0M333.3 561.0h0M333.2 544.6h0M333.1 544.8h0M333.7 544.6h0M333.5 544.1h0M333.4 545.0h0M333.9 546.0h0M333.9 548.0h0M333.8 543.2h0M334.1 543.3h0M334.6 542.8h0M334.4 544.7h0M334.3 542.9h0M334.6 546.0h0M335.1 545.1h0M335.1 560.6h0M335.1 545.6h0M335.1 544.4h0M335.3 545.0h0M335.7 548.4h0M335.6 541.4h0M336.0 541.7h0M335.8 541.3h0M335.9 546.8h0M336.1 541.5h0M336.5 540.8h0M336.4 541.1h0M336.8 546.6h0M336.9 541.0h0M336.5 548.7h0M336.7 547.2h0M337.0 540.4h0M336.9 550.7h0M337.6 540.6h0M337.3 540.5h0M337.4 540.3h0M337.8 540.1h0M338.1 542.7h0M337.7 542.0h0M338.2 539.5h0M338.2 547.9h0M338.1 539.7h0M338.3 546.9h0M338.7 542.3h0M338.8 553.3h0M339.0 539.2h0M338.7 538.7h0M339.4 539.2h0M339.1 539.1h0M339.2 538.5h0M339.7 538.6h0M339.5 554.7h0M339.6 538.7h0M340.1 538.4h0M340.3 547.3h0M340.1 538.3h0M340.4 543.7h0M340.4 537.8h0M340.4 545.1h0M340.9 537.3h0M340.8 538.6h0M341.0 537.2h0M340.8 540.8h0M341.0 536.7h0M341.5 536.7h0M341.4 536.4h0M341.6 541.6h0M341.6 539.4h0M341.8 535.9h0M341.9 535.9h0M342.3 540.0h0M342.5 539.2h0M342.3 535.3h0M342.3 544.0h0M342.4 535.1h0M342.7 534.6h0M343.0 535.0h0M343.0 538.2h0M343.2 536.0h0M343.2 534.5h0M343.3 536.8h0M343.5 534.1h0M343.5 535.2h0M343.7 542.6h0M344.1 533.6h0M343.9 533.5h0M344.0 533.5h0M344.5 537.1h0M344.7 537.9h0M344.7 540.5h0M345.0 532.8h0M345.1 540.5h0M345.0 535.5h0M345.0 544.4h0M345.1 537.6h0M345.2 531.7h0M345.4 532.2h0M345.7 531.1h0M345.9 532.3h0M346.0 540.9h0M346.0 536.3h0M346.1 530.2h0M346.5 530.3h0M346.2 533.9h0M346.6 533.5h0M346.9 529.4h0M346.7 529.6h0M347.0 529.2h0M347.1 528.9h0M347.0 531.4h0M347.1 530.2h0M347.6 528.5h0M347.9 527.8h0M347.7 527.8h0M348.0 527.8h0M347.7 528.9h0M348.3 526.9h0M348.3 530.5h0M348.2 525.7h0M348.6 525.3h0M348.3 524.8h0M348.9 524.4h0M349.1 524.0h0M349.2 538.3h0M349.0 523.0h0M349.0 526.7h0M349.4 521.9h0M349.4 521.3h0M349.6 525.3h0M349.9 520.3h0M350.0 519.6h0M350.0 519.3h0M350.0 518.5h0M350.4 517.8h0M350.7 517.4h0M350.8 516.7h0M350.8 516.1h0M350.8 515.1h0M351.2 539.6h0M351.0 514.0h0M351.0 513.0h0M351.2 512.7h0M351.3 512.3h0M351.6 511.4h0M351.5 513.5h0M351.9 514.2h0M352.3 509.6h0M352.1 511.4h0M352.3 519.4h0M352.7 508.4h0M352.3 510.8h0M352.6 507.5h0M352.6 510.5h0M353.0 514.8h0M353.2 507.6h0M353.0 505.8h0M353.2 505.4h0M353.7 511.7h0M353.7 504.9h0M353.7 543.1h0M353.7 505.0h0M354.2 569.5h0M354.0 503.6h0M354.4 502.8h0M354.2 507.3h0M354.3 510.5h0M354.9 501.5h0M355.0 503.6h0M354.9 500.6h0M354.7 500.1h0M355.3 501.6h0M355.5 501.0h0M355.1 499.2h0M355.5 498.8h0M355.4 497.5h0M355.7 499.1h0M355.6 494.4h0M356.0 492.3h0M356.0 488.7h0M356.2 484.9h0M328.5 566.0h0M329.0 569.0h0M333.5 571.5h0M336.0 553.0h0M339.0 557.0h0M344.0 560.0h0M349.0 560.0h0M351.0 545.0h0M353.0 541.0h0M352.5 534.0h0M360.1 557.7h0M360.6 554.0h0M360.5 551.0h0M361.0 546.9h0M360.9 544.8h0M361.6 558.0h0M361.7 551.2h0M361.9 540.7h0M362.2 539.2h0M362.5 538.8h0M362.7 538.7h0M362.8 538.2h0M362.9 537.9h0M363.4 538.0h0M363.2 537.4h0M363.3 537.1h0M364.0 536.9h0M363.7 536.7h0M364.3 540.2h0M364.6 535.8h0M364.4 535.9h0M364.7 535.7h0M364.9 535.1h0M365.3 539.8h0M365.3 536.9h0M365.5 537.7h0M366.0 534.6h0M366.2 534.0h0M366.3 542.9h0M366.4 539.5h0M366.6 534.1h0M367.2 533.5h0M367.0 537.7h0M367.3 533.2h0M367.8 561.2h0M368.0 534.0h0M368.3 532.7h0M368.3 533.0h0M368.5 532.5h0M368.4 533.9h0M369.1 534.7h0M369.3 540.2h0M369.6 531.8h0M369.3 531.8h0M369.5 531.5h0M370.2 531.3h0M369.9 531.9h0M370.3 534.1h0M370.5 532.6h0M370.8 531.5h0M371.3 530.7h0M371.5 530.4h0M371.3 529.9h0M371.9 531.3h0M371.6 532.6h0M371.9 529.8h0M372.6 530.5h0M372.6 532.6h0M372.6 529.0h0M373.0 528.9h0M373.0 528.8h0M373.4 528.7h0M373.6 531.0h0M373.7 528.5h0M374.1 530.3h0M374.1 530.0h0M374.6 528.6h0M374.8 527.3h0M375.2 527.1h0M375.3 527.0h0M375.2 526.8h0M375.6 530.5h0M375.6 526.3h0M376.1 526.5h0M376.4 525.9h0M376.5 529.9h0M376.7 525.4h0M376.7 525.3h0M377.1 525.3h0M377.3 527.4h0M377.4 524.9h0M378.0 524.5h0M377.7 524.5h0M378.1 524.3h0M378.3 523.8h0M378.6 526.0h0M378.8 523.7h0M378.8 528.7h0M379.5 529.2h0M379.5 522.7h0M379.5 529.2h0M380.0 523.3h0M380.0 522.2h0M380.6 522.0h0M380.4 522.9h0M381.0 521.3h0M381.1 521.0h0M381.3 535.3h0M381.2 524.1h0M381.5 520.2h0M382.1 519.9h0M382.3 519.6h0M382.5 526.6h0M382.3 519.0h0M382.6 520.0h0M383.1 530.0h0M382.9 519.9h0M383.6 518.0h0M383.4 517.7h0M383.6 517.6h0M383.9 517.2h0M384.2 516.7h0M384.2 516.6h0M384.6 517.5h0M384.6 517.8h0M385.2 515.7h0M385.3 521.9h0M385.3 513.7h0M385.8 512.9h0M385.7 512.8h0M386.4 511.4h0M386.2 509.4h0M386.3 507.6h0M386.6 508.6h0M386.8 497.8h0M360.0 560.0h0M360.3 564.0h0M360.5 568.8h0M366.0 558.0h0M372.0 560.5h0M379.0 551.0h0M390.6 573.3h0M390.5 573.4h0M390.6 571.8h0M390.3 574.4h0M390.3 570.1h0M390.4 570.0h0M390.6 572.7h0M390.7 568.4h0M390.6 571.3h0M390.9 567.2h0M390.9 566.8h0M391.2 565.9h0M391.4 566.8h0M391.2 564.7h0M391.3 564.2h0M391.3 563.3h0M391.4 562.8h0M391.4 561.9h0M391.7 561.3h0M391.6 562.2h0M391.7 560.2h0M391.8 559.7h0M391.5 558.9h0M392.1 558.2h0M391.6 557.9h0M392.1 557.2h0M392.1 556.7h0M391.8 556.8h0M392.4 556.3h0M392.1 559.3h0M392.1 557.1h0M392.2 563.6h0M392.6 556.4h0M392.6 562.5h0M392.4 556.2h0M392.7 556.1h0M392.9 562.5h0M392.7 555.2h0M393.0 555.6h0M392.6 556.6h0M392.8 555.2h0M392.8 555.2h0M392.8 558.4h0M393.2 554.1h0M393.4 565.9h0M393.3 554.1h0M393.1 558.0h0M393.5 568.1h0M393.2 553.2h0M393.7 556.1h0M393.3 552.7h0M393.7 556.6h0M393.5 552.0h0M393.6 558.6h0M394.1 551.8h0M393.9 560.5h0M393.9 551.6h0M393.8 552.2h0M394.1 551.1h0M394.0 550.5h0M394.2 551.0h0M394.2 550.7h0M394.4 550.0h0M394.6 549.7h0M394.7 553.9h0M394.5 550.9h0M394.4 549.8h0M394.7 549.5h0M394.9 549.2h0M395.0 554.9h0M394.6 549.0h0M394.6 554.7h0M395.0 549.0h0M395.1 548.4h0M394.9 549.1h0M395.3 548.0h0M395.3 548.2h0M395.1 565.1h0M395.1 548.7h0M395.3 547.7h0M395.6 547.5h0M395.6 554.0h0M395.7 554.1h0M395.9 546.7h0M395.8 547.8h0M395.7 546.3h0M395.8 546.4h0M396.1 549.6h0M396.3 545.9h0M396.1 545.7h0M396.2 558.2h0M396.3 548.9h0M396.5 554.2h0M396.0 546.8h0M396.7 547.1h0M396.5 545.0h0M396.2 544.7h0M396.4 552.3h0M396.7 544.6h0M396.6 551.4h0M396.6 544.1h0M397.1 544.0h0M397.1 552.5h0M397.1 546.8h0M397.3 543.5h0M397.4 546.6h0M397.3 543.2h0M397.2 543.2h0M397.1 546.4h0M397.4 542.6h0M397.6 542.2h0M397.4 542.3h0M397.5 542.0h0M397.9 542.4h0M397.6 541.7h0M397.7 541.5h0M397.9 542.7h0M397.7 541.7h0M397.7 542.5h0M398.0 547.6h0M397.9 545.8h0M398.4 540.9h0M398.3 556.4h0M398.5 540.6h0M398.5 540.9h0M398.3 540.9h0M398.8 551.1h0M398.7 540.3h0M398.7 543.3h0M398.6 539.9h0M399.0 544.1h0M398.6 540.0h0M398.8 541.6h0M398.9 539.8h0M398.9 540.2h0M399.1 539.4h0M399.2 540.0h0M399.3 539.2h0M399.2 539.5h0M399.3 539.4h0M399.5 539.3h0M399.4 545.4h0M399.3 544.9h0M399.7 538.6h0M399.8 539.8h0M399.5 538.6h0M399.9 538.2h0M399.9 538.5h0M399.7 538.8h0M400.1 542.4h0M400.3 538.2h0M400.0 539.7h0M400.3 545.8h0M400.1 537.5h0M400.0 538.7h0M400.5 543.7h0M400.3 538.4h0M400.2 537.3h0M400.7 537.0h0M400.5 536.8h0M400.5 541.9h0M400.6 537.0h0M400.6 536.7h0M401.1 538.1h0M401.1 540.5h0M401.0 536.2h0M401.3 537.5h0M401.3 536.0h0M401.3 536.3h0M401.1 536.3h0M401.5 536.0h0M401.4 535.5h0M401.5 540.6h0M401.6 542.8h0M401.4 535.1h0M401.7 535.4h0M401.7 540.2h0M401.9 535.8h0M401.7 534.8h0M402.0 534.9h0M401.8 534.8h0M402.0 534.7h0M402.2 534.8h0M402.3 538.4h0M402.4 534.3h0M402.2 534.2h0M402.1 534.2h0M402.2 536.1h0M402.3 533.6h0M402.7 533.8h0M402.9 533.7h0M402.9 538.0h0M402.6 533.6h0M402.9 536.9h0M402.9 532.9h0M403.1 534.6h0M403.3 533.0h0M403.3 533.2h0M403.4 532.9h0M403.5 533.1h0M403.2 532.6h0M403.3 533.6h0M403.5 551.2h0M403.4 536.5h0M403.8 532.4h0M403.7 532.6h0M403.9 533.9h0M403.5 532.5h0M404.0 532.5h0M404.2 532.2h0M403.7 531.8h0M403.8 531.7h0M403.8 531.8h0M404.3 532.0h0M404.0 531.8h0M404.5 571.5h0M404.5 532.1h0M404.2 541.6h0M404.4 535.0h0M404.4 531.6h0M404.9 531.2h0M404.9 531.5h0M404.8 531.2h0M404.6 531.5h0M404.6 531.0h0M405.1 531.0h0M404.8 541.6h0M405.3 531.0h0M404.9 539.7h0M405.4 533.3h0M405.0 530.6h0M405.2 533.5h0M405.4 530.6h0M405.4 530.6h0M405.7 530.8h0M405.3 530.3h0M405.5 530.6h0M405.9 530.1h0M405.5 531.6h0M406.0 534.4h0M405.9 530.8h0M405.9 530.3h0M405.9 538.3h0M406.3 543.3h0M406.3 530.0h0M406.0 530.1h0M406.2 538.2h0M406.6 529.5h0M406.2 531.7h0M406.2 529.6h0M406.3 529.6h0M406.6 532.0h0M406.9 529.2h0M406.8 535.9h0M406.9 529.3h0M406.6 529.3h0M406.7 529.3h0M407.2 570.8h0M407.3 532.0h0M406.8 529.7h0M407.2 532.3h0M407.2 539.9h0M407.3 532.3h0M407.1 528.3h0M407.7 529.6h0M407.5 532.2h0M407.7 528.3h0M407.5 530.3h0M407.8 528.1h0M407.6 528.9h0M407.9 528.5h0M408.2 532.7h0M408.1 528.0h0M408.0 529.3h0M408.0 540.2h0M408.4 528.0h0M408.0 527.7h0M408.5 527.7h0M408.4 531.3h0M408.3 527.2h0M408.5 530.4h0M408.5 529.5h0M408.6 527.2h0M408.8 527.1h0M408.7 526.9h0M408.9 535.4h0M409.0 533.4h0M409.0 526.6h0M409.0 530.0h0M408.9 526.1h0M409.0 529.9h0M409.2 531.4h0M409.4 526.0h0M409.4 525.9h0M409.4 525.9h0M409.5 525.8h0M409.3 531.1h0M409.4 531.4h0M409.8 525.7h0M409.9 531.7h0M409.5 525.0h0M410.0 525.0h0M410.1 526.4h0M410.1 528.0h0M409.9 529.7h0M410.2 524.9h0M410.0 533.9h0M410.5 523.8h0M410.3 523.8h0M410.6 523.9h0M410.4 523.5h0M410.3 524.9h0M410.8 523.1h0M410.3 523.4h0M410.4 523.0h0M410.8 522.7h0M411.1 522.8h0M410.9 522.7h0M411.1 522.2h0M410.9 522.4h0M411.0 536.4h0M410.9 525.1h0M411.2 528.6h0M411.5 522.1h0M411.3 522.0h0M411.4 521.3h0M411.6 521.7h0M411.3 554.0h0M411.7 530.0h0M411.9 521.3h0M411.6 521.2h0M412.0 523.2h0M412.0 520.7h0M411.7 522.3h0M412.2 521.3h0M411.8 520.1h0M411.9 520.5h0M412.4 520.3h0M412.4 520.1h0M412.3 519.5h0M412.6 519.8h0M412.2 519.2h0M412.7 519.7h0M412.8 519.0h0M412.4 519.1h0M412.6 524.7h0M412.6 524.8h0M412.7 522.9h0M412.6 518.5h0M413.1 528.2h0M413.0 518.1h0M412.9 518.9h0M413.4 518.1h0M412.9 518.2h0M413.3 517.7h0M413.6 517.3h0M413.4 522.4h0M413.7 519.3h0M413.4 517.2h0M413.7 517.1h0M413.9 517.4h0M413.7 516.9h0M413.8 525.7h0M414.1 516.8h0M414.0 520.5h0M414.0 517.0h0M414.2 516.4h0M414.0 516.2h0M414.3 516.2h0M414.4 517.3h0M414.6 515.8h0M414.1 516.2h0M414.2 515.7h0M414.8 522.9h0M414.9 513.6h0M414.6 513.4h0M414.5 513.0h0M415.0 512.9h0M414.7 512.3h0M415.0 512.2h0M414.8 511.9h0M415.2 511.9h0M415.0 511.1h0M415.4 511.0h0M415.3 510.7h0M415.2 510.5h0M415.5 510.3h0M415.5 510.0h0M415.7 509.5h0M415.7 509.3h0M415.7 510.1h0M415.5 509.7h0M415.9 508.3h0M416.0 508.1h0M415.6 507.6h0M415.7 508.5h0M416.3 507.2h0M416.1 507.0h0M416.1 506.4h0M416.0 506.5h0M416.4 506.2h0M416.4 506.0h0M416.4 505.8h0M416.4 504.9h0M416.3 505.0h0M416.4 504.0h0M416.8 508.7h0M416.5 503.2h0M416.5 502.6h0M417.0 502.3h0M417.0 501.3h0M416.9 501.3h0M417.0 500.3h0M416.9 500.1h0M417.3 503.9h0M417.1 498.7h0M417.2 498.6h0M417.7 497.7h0M417.5 497.3h0M417.5 496.4h0M390.0 586.2h0M390.8 586.2h0M391.3 586.0h0M390.7 591.3h0M448.5 486.1h0M448.5 490.0h0M420.6 581.8h0M421.2 581.1h0M421.0 579.8h0M420.9 577.3h0M421.1 576.2h0M421.3 575.1h0M421.3 574.0h0M421.6 572.0h0M421.7 570.8h0M421.6 569.4h0M421.7 568.4h0M421.5 566.9h0M421.8 566.2h0M421.6 565.0h0M421.9 563.3h0M422.1 562.4h0M422.2 561.1h0M422.1 560.3h0M422.3 558.9h0M422.3 557.9h0M422.2 556.4h0M422.6 555.4h0M422.2 554.8h0M422.7 554.9h0M422.3 554.0h0M422.4 553.0h0M422.6 550.0h0M422.8 549.0h0M423.1 547.8h0M422.9 546.6h0M422.9 545.9h0M423.3 544.6h0M423.0 543.8h0M422.9 543.0h0M423.3 542.5h0M423.1 542.0h0M423.2 541.3h0M423.4 540.6h0M423.6 539.9h0M423.6 539.8h0M423.9 539.2h0M423.6 538.3h0M423.9 537.9h0M423.9 537.4h0M424.2 536.9h0M424.1 536.5h0M424.2 535.3h0M424.0 534.8h0M424.1 534.3h0M424.1 534.4h0M424.1 535.2h0M424.3 540.1h0M424.5 547.4h0M424.3 534.9h0M424.5 535.0h0M424.7 534.3h0M424.6 534.6h0M424.8 534.1h0M424.7 533.9h0M424.8 534.1h0M425.2 533.6h0M425.3 533.5h0M425.2 533.5h0M425.0 545.9h0M425.4 533.1h0M425.5 538.5h0M425.6 532.7h0M425.4 535.7h0M425.3 535.1h0M425.7 532.3h0M425.5 532.4h0M425.7 546.0h0M426.0 543.1h0M426.1 534.0h0M425.8 538.4h0M425.8 531.4h0M426.0 531.8h0M426.0 531.2h0M426.1 532.3h0M426.3 531.0h0M426.4 535.9h0M426.3 531.4h0M426.2 544.8h0M426.3 536.0h0M426.7 531.9h0M426.4 531.1h0M426.5 533.5h0M426.9 531.0h0M427.0 531.0h0M427.0 532.5h0M427.3 545.4h0M426.9 530.6h0M427.4 538.6h0M427.4 530.8h0M427.4 532.8h0M427.5 530.3h0M427.7 540.1h0M427.7 532.3h0M427.4 550.4h0M427.5 530.1h0M427.7 530.0h0M427.8 530.0h0M427.6 530.1h0M427.8 530.0h0M427.7 529.9h0M428.0 530.3h0M428.2 539.5h0M428.1 538.7h0M428.5 529.6h0M428.2 535.9h0M428.5 548.5h0M428.6 544.1h0M428.4 529.3h0M428.7 529.3h0M428.4 537.0h0M428.8 536.8h0M428.5 530.9h0M428.8 529.2h0M428.7 530.5h0M428.9 529.0h0M429.0 529.4h0M429.2 530.1h0M429.2 529.1h0M429.4 529.1h0M429.1 528.9h0M429.2 528.8h0M429.7 528.7h0M429.3 532.4h0M429.3 532.9h0M429.5 528.4h0M429.7 528.3h0M429.8 537.7h0M430.1 530.0h0M430.0 531.8h0M430.1 536.2h0M429.8 530.3h0M430.2 545.2h0M430.0 531.5h0M430.5 528.4h0M430.4 535.3h0M430.2 534.5h0M430.3 534.4h0M430.3 533.1h0M430.7 527.9h0M430.4 527.7h0M430.6 529.7h0M430.9 534.0h0M430.5 527.9h0M430.9 527.9h0M430.8 527.9h0M431.2 539.3h0M431.3 527.6h0M431.4 528.0h0M431.1 527.8h0M431.1 528.2h0M431.5 528.5h0M431.4 550.1h0M431.5 527.2h0M431.7 528.8h0M431.8 534.7h0M431.8 527.3h0M431.6 527.0h0M431.9 527.2h0M431.7 527.3h0M432.1 528.1h0M432.2 530.0h0M431.9 527.1h0M432.2 527.4h0M432.0 527.3h0M432.5 526.9h0M432.6 526.7h0M432.5 528.2h0M432.6 526.7h0M432.7 528.5h0M432.6 535.6h0M433.0 536.6h0M432.5 544.2h0M432.7 526.5h0M433.1 527.5h0M433.2 531.1h0M433.3 528.3h0M432.9 526.3h0M433.3 531.9h0M433.1 526.4h0M433.5 533.3h0M433.1 526.5h0M433.7 526.4h0M433.6 527.2h0M433.4 526.4h0M433.9 526.0h0M433.5 526.6h0M433.7 526.5h0M433.5 526.1h0M433.7 526.2h0M433.8 525.9h0M433.9 531.1h0M434.3 526.2h0M433.9 526.1h0M434.3 527.4h0M434.1 533.3h0M434.1 528.5h0M434.5 527.8h0M434.6 530.0h0M434.8 526.0h0M434.3 525.7h0M434.8 525.5h0M434.8 525.4h0M434.6 525.5h0M434.9 525.7h0M435.1 525.7h0M435.1 529.5h0M434.9 525.7h0M435.4 530.3h0M435.0 535.1h0M435.3 525.6h0M435.1 525.2h0M435.4 525.6h0M435.3 527.1h0M435.3 525.3h0M435.6 531.7h0M435.6 527.9h0M435.9 525.1h0M435.6 524.9h0M435.9 524.9h0M435.9 538.2h0M435.8 524.9h0M435.9 527.0h0M436.2 525.3h0M436.0 526.0h0M436.2 524.4h0M436.1 524.5h0M436.5 524.6h0M436.2 524.6h0M436.3 524.2h0M436.6 530.5h0M436.7 529.0h0M436.8 524.2h0M436.7 530.5h0M436.9 524.3h0M437.2 524.2h0M436.8 524.4h0M437.3 533.1h0M436.9 536.2h0M437.3 523.9h0M437.4 523.7h0M437.4 523.7h0M437.7 523.8h0M437.6 523.7h0M437.5 523.8h0M437.9 523.6h0M437.7 524.5h0M437.9 523.6h0M437.9 523.9h0M437.8 523.4h0M438.1 523.3h0M438.1 523.4h0M438.3 529.8h0M438.3 525.2h0M438.3 523.0h0M438.1 523.4h0M438.4 523.1h0M438.4 523.3h0M438.7 523.3h0M438.7 523.0h0M438.4 530.5h0M438.9 526.0h0M438.7 522.7h0M438.6 523.0h0M438.7 522.7h0M439.1 528.2h0M439.2 522.5h0M438.9 522.4h0M439.4 523.0h0M439.1 522.4h0M439.5 524.0h0M439.4 532.8h0M439.3 522.4h0M439.6 522.5h0M439.6 522.6h0M439.6 522.5h0M439.7 522.6h0M439.6 524.1h0M440.1 523.5h0M439.6 526.9h0M439.7 522.3h0M440.0 521.8h0M439.8 525.4h0M440.1 521.8h0M440.0 522.0h0M440.5 522.4h0M440.2 539.2h0M440.4 521.5h0M440.5 521.5h0M440.5 528.0h0M440.5 521.7h0M440.6 521.8h0M440.8 521.4h0M440.6 521.3h0M440.9 521.9h0M441.2 521.5h0M441.2 524.5h0M441.3 522.6h0M440.9 525.7h0M441.4 520.9h0M441.3 520.7h0M441.6 534.4h0M441.5 521.9h0M441.7 524.3h0M441.7 535.2h0M441.8 535.4h0M441.5 520.6h0M441.6 520.7h0M441.9 520.7h0M441.7 523.5h0M442.0 528.5h0M442.2 521.3h0M442.0 520.2h0M442.1 520.0h0M442.1 521.6h0M442.6 520.0h0M442.5 520.1h0M442.7 522.2h0M442.8 545.0h0M442.4 528.7h0M442.5 523.4h0M442.4 528.5h0M442.6 520.1h0M442.6 522.4h0M443.1 523.7h0M442.8 519.9h0M443.1 520.9h0M442.9 519.8h0M442.9 523.2h0M443.3 521.3h0M443.5 522.0h0M443.4 521.3h0M443.6 528.7h0M443.7 541.9h0M443.3 521.4h0M443.4 525.0h0M443.6 519.3h0M443.5 528.6h0M444.0 518.9h0M443.6 533.8h0M444.0 530.5h0M444.2 519.0h0M444.0 518.6h0M444.2 534.4h0M444.1 522.2h0M444.1 525.5h0M444.4 520.1h0M444.2 518.4h0M444.6 521.8h0M444.5 527.1h0M444.5 519.5h0M444.7 518.3h0M444.5 518.6h0M444.7 544.5h0M444.8 518.1h0M444.8 518.4h0M444.9 518.0h0M444.9 532.8h0M445.1 519.3h0M445.1 521.3h0M445.0 517.8h0M445.4 524.5h0M445.2 517.3h0M445.4 516.9h0M445.7 516.7h0M445.6 520.7h0M445.8 520.7h0M445.5 515.6h0M446.0 515.6h0M445.8 518.6h0M446.1 522.5h0M445.9 515.0h0M445.9 514.6h0M446.4 513.9h0M446.1 513.8h0M446.3 519.3h0M446.6 523.3h0M446.7 518.8h0M446.2 512.7h0M446.3 513.0h0M446.5 512.2h0M446.7 512.2h0M446.7 512.0h0M446.8 512.7h0M447.0 511.3h0M447.2 511.0h0M446.8 517.6h0M447.2 511.5h0M447.2 510.2h0M447.5 509.2h0M447.1 508.7h0M447.6 508.3h0M447.2 509.2h0M447.3 507.7h0M447.4 507.7h0M447.5 507.0h0M448.0 506.6h0M448.0 505.7h0M447.7 505.6h0M448.2 504.7h0M447.7 504.3h0M448.1 503.4h0M447.9 503.4h0M448.0 508.3h0M448.2 502.3h0M448.3 501.7h0M448.1 498.3h0M448.4 495.4h0M448.8 491.8h0M437.0 553.0h0M436.5 552.5h0M428.0 547.0h0M432.0 546.0h0M453.1 537.1h0M454.9 534.6h0M456.8 536.5h0M458.6 537.4h0M460.5 530.9h0M462.3 529.7h0M464.2 532.8h0M466.1 534.0h0M467.8 525.7h0M469.4 528.5h0M471.2 526.3h0M473.1 523.2h0M474.9 526.0h0M476.8 526.0h0M478.5 499.0h0M482.0 590.0h0M481.7 586.5h0M482.3 582.8h0M482.3 579.1h0M482.4 577.0h0M482.3 574.9h0M482.5 572.7h0M482.6 570.4h0M483.1 566.3h0M483.1 564.5h0M483.0 562.3h0M483.3 560.6h0M483.4 558.7h0M483.6 556.7h0M483.4 555.7h0M483.8 554.1h0M483.6 553.3h0M484.2 551.8h0M484.1 550.8h0M484.2 549.8h0M484.4 548.8h0M484.5 547.9h0M484.7 546.4h0M484.3 545.2h0M484.4 544.5h0M484.6 543.8h0M485.0 543.0h0M485.2 542.2h0M485.4 541.1h0M485.1 552.1h0M485.5 539.6h0M485.2 538.8h0M485.7 538.2h0M485.8 537.6h0M485.9 536.9h0M485.7 536.0h0M486.1 535.6h0M486.2 535.0h0M486.5 535.9h0M486.1 541.0h0M486.3 539.2h0M486.5 534.6h0M486.7 534.4h0M486.7 533.5h0M487.2 534.4h0M486.8 534.0h0M487.3 532.2h0M487.5 537.1h0M487.4 531.8h0M487.4 531.0h0M487.3 530.6h0M487.9 530.6h0M487.8 534.1h0M488.1 531.0h0M488.2 529.0h0M487.8 529.0h0M488.3 529.1h0M488.5 534.6h0M488.4 528.6h0M488.5 528.3h0M488.6 528.8h0M488.6 527.8h0M489.0 527.8h0M489.1 527.6h0M489.3 527.7h0M489.3 527.4h0M489.1 532.9h0M489.2 527.1h0M489.6 527.0h0M489.4 528.2h0M489.6 530.9h0M490.0 541.4h0M489.8 526.0h0M490.1 525.6h0M490.0 526.4h0M490.0 525.4h0M490.5 525.4h0M490.5 525.6h0M490.7 525.3h0M491.0 525.9h0M491.1 529.1h0M490.9 524.6h0M491.4 524.8h0M491.4 524.9h0M491.5 524.5h0M491.3 524.0h0M491.4 524.3h0M491.9 526.0h0M491.9 523.7h0M491.9 523.3h0M492.1 523.7h0M492.0 525.9h0M492.4 523.3h0M492.5 523.0h0M492.6 524.0h0M492.7 526.0h0M492.8 523.1h0M492.8 522.8h0M493.0 527.8h0M492.9 522.6h0M493.2 521.9h0M493.3 521.8h0M493.1 521.7h0M493.6 521.9h0M493.5 521.7h0M493.4 521.3h0M493.5 521.3h0M494.1 521.0h0M493.8 521.1h0M493.8 520.7h0M494.0 520.9h0M494.1 521.1h0M494.2 520.9h0M494.4 520.9h0M494.7 520.8h0M495.0 522.2h0M495.0 520.3h0M495.0 520.3h0M494.8 520.4h0M495.2 520.1h0M495.2 520.1h0M495.4 519.8h0M495.7 529.0h0M495.5 530.7h0M495.6 519.9h0M496.1 519.7h0M496.2 527.2h0M496.1 519.4h0M496.0 520.4h0M496.5 524.9h0M496.2 521.2h0M496.7 534.5h0M496.8 519.2h0M496.7 526.8h0M496.9 518.5h0M496.9 518.9h0M497.0 518.8h0M497.2 518.2h0M497.2 522.6h0M497.3 518.5h0M497.4 518.0h0M497.9 517.8h0M497.8 523.1h0M497.6 517.7h0M497.8 520.2h0M497.9 517.8h0M498.2 517.1h0M498.2 517.2h0M498.6 517.1h0M498.3 541.0h0M498.7 516.5h0M498.9 516.4h0M499.1 517.0h0M498.8 516.2h0M499.2 516.4h0M499.2 517.3h0M499.1 516.9h0M499.1 515.3h0M499.2 517.8h0M499.3 515.6h0M499.5 514.7h0M499.5 515.1h0M499.9 515.0h0M500.0 514.4h0M500.0 519.5h0M500.5 519.7h0M500.4 517.3h0M500.4 513.9h0M500.6 513.9h0M500.5 513.8h0M500.9 513.3h0M500.6 512.8h0M500.8 513.5h0M500.9 512.4h0M501.5 512.4h0M501.2 512.2h0M501.4 513.4h0M501.5 524.1h0M501.9 511.5h0M501.9 515.8h0M501.7 511.7h0M502.3 511.9h0M502.0 511.0h0M502.2 510.8h0M502.3 510.5h0M502.3 510.3h0M502.7 510.9h0M502.9 513.4h0M502.6 511.1h0M502.8 509.3h0M503.3 540.2h0M503.1 508.9h0M503.5 509.2h0M503.2 509.3h0M503.7 508.8h0M503.7 508.1h0M503.8 509.1h0M503.5 511.9h0M504.1 511.6h0M504.0 510.6h0M504.0 507.7h0M504.1 507.3h0M504.1 506.8h0M504.6 506.5h0M504.8 506.5h0M504.4 506.9h0M504.7 506.4h0M504.6 506.2h0M504.8 505.8h0M505.1 506.6h0M505.1 505.3h0M505.2 508.8h0M505.7 504.7h0M505.7 503.8h0M506.0 503.8h0M505.9 506.0h0M506.0 503.5h0M506.2 502.6h0M506.0 502.7h0M506.1 503.0h0M506.2 502.4h0M506.5 501.3h0M506.6 501.0h0M506.6 508.0h0M506.9 501.0h0M506.8 500.2h0M507.1 499.1h0M507.2 498.1h0M507.2 497.8h0M507.5 497.0h0M507.7 496.5h0M507.8 495.6h0M507.4 494.9h0M508.0 494.2h0M508.1 493.9h0M508.2 492.9h0M508.0 492.6h0M508.4 491.7h0M508.4 490.9h0M508.5 490.5h0M508.6 489.7h0M508.5 489.4h0M508.5 488.4h0M508.9 487.9h0M509.1 486.9h0M509.3 486.3h0M509.4 486.0h0M509.4 484.8h0M509.3 484.4h0M509.4 483.8h0M509.5 482.6h0M509.7 481.2h0M509.7 480.2h0M510.0 478.9h0M509.9 477.8h0M482.0 588.0h0M482.0 591.0h0M503.0 528.0h0M491.0 541.0h0M488.5 545.0h0M497.0 547.0h0M486.0 548.0h0M487.0 552.0h0M485.5 556.0h0" stroke="#2236a4" stroke-width="1.7" stroke-linecap="round" fill="none"/>
<path d="M53.0 591.5h0M53.7 591.5h0M59.2 591.3h0M59.8 591.5h0M60.9 591.4h0M63.7 591.3h0M66.0 591.4h0M66.5 591.3h0M69.5 591.5h0M70.7 591.6h0M72.9 591.5h0M75.8 591.4h0M53.0 599.5h0M53.9 599.2h0M54.4 599.4h0M54.9 599.6h0M55.5 599.0h0M56.1 599.3h0M57.5 599.6h0M58.0 599.1h0M58.5 599.3h0M59.3 599.7h0M59.8 599.0h0M60.3 599.3h0M61.1 599.6h0M61.8 599.8h0M62.3 599.4h0M62.9 599.2h0M63.5 599.8h0M65.5 599.5h0M66.1 599.0h0M66.5 599.5h0M67.4 599.1h0M67.6 599.3h0M68.2 599.1h0M69.1 599.6h0M69.7 599.6h0M70.1 599.4h0M71.0 599.8h0M71.3 599.3h0M72.1 599.1h0M72.6 599.4h0M73.3 599.1h0M73.9 599.2h0M74.4 599.3h0M75.0 599.4h0M75.7 599.7h0M76.5 599.1h0M77.5 599.5h0M78.4 599.3h0M78.6 599.7h0M79.5 599.1h0M52.6 619.8h0M53.2 620.0h0M53.8 620.3h0M54.4 619.8h0M55.0 619.9h0M55.6 619.9h0M56.3 620.1h0M56.9 620.3h0M57.5 620.6h0M58.1 620.2h0M58.7 620.1h0M59.3 620.4h0M59.9 620.1h0M60.5 620.2h0M61.1 620.1h0M61.7 619.8h0M62.3 619.8h0M63.0 620.2h0M63.6 620.0h0M64.2 620.1h0M64.8 620.2h0M65.4 620.4h0M66.0 619.8h0M66.6 620.6h0M67.2 620.3h0M67.8 620.1h0M68.4 620.1h0M69.0 620.3h0M69.6 620.1h0M70.3 620.2h0M70.9 619.8h0M71.5 620.0h0M72.1 620.4h0M72.7 620.5h0M73.3 620.0h0M73.9 619.9h0M74.5 620.5h0M75.1 620.1h0M75.7 620.4h0M76.3 619.8h0M77.0 619.8h0M77.6 620.2h0M78.2 620.3h0M78.8 620.5h0M79.4 620.3h0M80.0 620.4h0M100.4 577.4h0M101.6 577.4h0M103.5 577.4h0M104.9 577.5h0M106.5 577.5h0M109.0 577.3h0M90.6 579.9h0M93.2 579.8h0M93.7 580.1h0M94.6 580.1h0M96.2 580.0h0M96.6 579.9h0M97.4 580.2h0M97.8 579.9h0M98.9 580.0h0M103.7 580.0h0M105.8 579.9h0M106.0 579.9h0M107.9 579.9h0M109.6 580.2h0M83.6 582.2h0M84.0 582.1h0M85.4 582.0h0M86.4 582.3h0M90.8 582.2h0M91.8 582.2h0M92.7 582.3h0M93.2 582.2h0M94.4 581.9h0M96.6 582.1h0M97.8 581.9h0M98.5 582.0h0M99.1 582.2h0M101.1 582.1h0M102.7 581.9h0M104.0 582.2h0M108.0 582.1h0M110.4 582.2h0M84.9 585.9h0M88.2 585.5h0M88.5 585.5h0M89.9 585.8h0M90.6 585.5h0M91.6 585.8h0M92.3 585.5h0M93.0 585.9h0M93.6 585.9h0M94.2 585.8h0M94.7 585.7h0M95.4 585.7h0M95.8 585.6h0M96.7 586.0h0M97.5 585.6h0M98.3 585.9h0M99.4 585.6h0M99.9 585.8h0M100.7 586.1h0M101.5 585.8h0M101.7 585.9h0M103.2 585.6h0M103.9 585.9h0M104.2 586.1h0M106.0 585.7h0M107.3 585.5h0M108.4 585.7h0M109.2 585.9h0M109.6 585.8h0M110.4 586.0h0M111.1 585.6h0M83.4 591.2h0M84.1 590.9h0M84.7 590.9h0M85.5 591.5h0M85.9 591.5h0M86.6 591.5h0M86.9 590.9h0M87.8 591.3h0M88.2 591.3h0M88.8 591.3h0M89.6 591.4h0M90.0 590.9h0M90.5 591.5h0M91.5 591.2h0M92.1 591.4h0M92.4 591.1h0M93.2 591.2h0M94.3 591.5h0M95.7 591.5h0M96.2 590.9h0M96.9 591.2h0M97.4 590.9h0M97.8 591.1h0M98.7 591.5h0M99.1 590.9h0M99.8 591.1h0M100.3 590.9h0M100.8 591.1h0M101.7 591.3h0M102.2 591.0h0M102.9 591.3h0M103.4 590.9h0M103.9 591.4h0M104.6 591.0h0M105.2 591.1h0M105.7 591.0h0M106.2 591.4h0M106.8 590.9h0M107.5 591.3h0M108.3 591.0h0M108.7 591.4h0M109.5 591.3h0M109.9 591.5h0M110.5 591.3h0M83.3 598.1h0M84.0 598.2h0M84.6 598.7h0M85.3 598.9h0M86.0 598.9h0M86.7 598.6h0M87.0 598.4h0M87.6 598.6h0M88.4 598.3h0M88.9 598.4h0M89.5 598.5h0M90.1 598.6h0M90.7 598.3h0M91.3 598.8h0M91.8 598.6h0M92.5 598.2h0M93.0 598.3h0M93.6 598.3h0M94.3 598.2h0M95.0 598.6h0M95.6 598.3h0M96.2 598.3h0M96.8 598.9h0M97.4 598.7h0M97.9 598.4h0M98.6 598.2h0M100.6 598.6h0M100.8 598.1h0M101.7 598.6h0M102.1 598.7h0M102.8 598.5h0M103.4 598.2h0M104.1 598.4h0M105.0 598.5h0M105.6 598.8h0M106.5 598.2h0M107.2 598.2h0M107.4 598.9h0M108.2 598.6h0M108.7 598.4h0M109.5 598.2h0M110.0 598.5h0M110.6 598.4h0M81.6 620.0h0M82.2 620.5h0M82.8 620.3h0M83.4 620.0h0M84.0 620.0h0M84.6 620.1h0M85.2 620.0h0M85.8 620.2h0M86.4 620.4h0M87.0 620.6h0M87.6 620.1h0M88.2 620.4h0M88.8 620.3h0M89.4 620.5h0M90.0 620.5h0M90.6 620.1h0M91.2 620.2h0M91.8 620.2h0M92.4 620.4h0M93.0 620.6h0M93.6 619.8h0M94.2 620.0h0M94.8 619.9h0M95.4 620.5h0M96.0 619.9h0M96.6 619.8h0M97.2 620.2h0M98.4 620.5h0M99.0 620.5h0M99.6 620.0h0M100.2 620.2h0M100.8 620.5h0M101.4 620.0h0M102.0 620.4h0M102.6 620.3h0M103.2 620.0h0M103.8 620.2h0M104.4 620.0h0M105.0 620.3h0M105.6 620.6h0M106.2 620.6h0M106.8 620.2h0M107.4 619.9h0M108.0 619.9h0M108.6 619.9h0M109.2 620.0h0M109.8 620.4h0M110.4 619.9h0M111.0 620.6h0M104.3 573.7h0M102.9 575.2h0M107.8 575.7h0M98.1 575.7h0M95.7 571.8h0M102.4 572.1h0M103.3 572.7h0M109.6 573.6h0M107.5 576.7h0M101.5 575.6h0M121.4 580.3h0M122.8 580.4h0M126.7 580.6h0M114.7 582.3h0M118.3 582.7h0M119.1 582.6h0M119.5 582.6h0M120.8 582.4h0M122.6 582.3h0M125.2 582.4h0M127.4 582.6h0M128.1 582.7h0M128.6 582.6h0M129.4 582.5h0M131.2 582.5h0M131.9 582.4h0M133.2 582.7h0M134.3 582.5h0M134.7 582.4h0M137.9 582.4h0M139.2 582.4h0M139.5 582.3h0M140.1 582.5h0M141.1 582.3h0M114.2 586.1h0M114.8 586.1h0M115.2 586.4h0M116.1 586.1h0M116.5 586.3h0M117.1 586.5h0M117.7 586.5h0M118.5 586.3h0M119.1 586.4h0M119.8 586.0h0M120.3 586.4h0M120.9 585.9h0M121.6 586.2h0M122.1 586.3h0M122.6 586.0h0M123.3 586.0h0M124.0 585.9h0M124.4 586.2h0M125.1 586.1h0M125.6 586.5h0M127.0 586.4h0M127.4 586.0h0M127.9 586.3h0M128.9 586.3h0M129.2 586.2h0M129.9 586.3h0M130.5 586.5h0M131.0 586.0h0M131.9 586.2h0M132.3 586.5h0M133.2 586.5h0M133.4 586.6h0M134.3 586.1h0M134.9 586.1h0M135.3 586.4h0M135.8 586.1h0M136.7 586.4h0M137.1 586.0h0M137.8 586.0h0M138.3 586.3h0M139.0 586.1h0M139.9 586.4h0M140.5 586.1h0M141.0 586.4h0M113.5 591.4h0M114.3 591.4h0M114.7 591.6h0M115.5 591.2h0M116.6 591.3h0M117.3 591.5h0M117.8 591.3h0M118.2 591.5h0M119.6 590.9h0M120.1 591.0h0M120.8 591.2h0M121.3 591.6h0M121.9 591.2h0M122.6 591.0h0M123.4 591.3h0M124.5 591.3h0M125.0 590.9h0M125.8 591.4h0M126.4 590.9h0M126.8 591.1h0M127.6 591.4h0M128.1 590.9h0M128.6 591.0h0M129.2 591.0h0M129.9 591.2h0M130.4 591.3h0M131.2 591.6h0M131.7 591.3h0M132.4 591.3h0M133.1 591.6h0M134.3 591.5h0M134.7 591.5h0M135.2 591.4h0M135.9 591.6h0M136.8 591.1h0M137.2 591.3h0M137.9 591.0h0M138.3 591.1h0M138.9 591.2h0M139.7 591.0h0M140.5 591.2h0M140.7 591.1h0M113.5 598.5h0M114.0 598.9h0M114.6 598.6h0M115.3 598.8h0M115.8 598.9h0M116.6 598.5h0M117.0 599.0h0M117.6 598.6h0M118.3 599.0h0M119.0 598.8h0M119.8 598.8h0M120.3 598.4h0M120.9 598.9h0M121.2 599.0h0M121.9 599.1h0M122.5 599.1h0M123.2 598.5h0M123.9 598.4h0M125.1 598.6h0M125.7 598.7h0M126.3 598.7h0M127.0 598.9h0M127.7 598.7h0M128.0 598.6h0M128.6 599.2h0M130.0 598.6h0M130.7 598.7h0M131.2 598.5h0M131.6 598.8h0M132.5 598.6h0M133.0 598.5h0M133.6 598.9h0M134.1 598.7h0M134.7 598.9h0M135.6 599.1h0M135.9 598.8h0M136.5 598.4h0M137.3 598.6h0M138.1 598.8h0M138.4 599.1h0M139.1 598.4h0M139.5 598.5h0M140.1 598.5h0M141.1 598.5h0M112.5 620.2h0M113.1 620.3h0M113.8 620.1h0M114.4 620.6h0M115.0 620.0h0M120.4 620.4h0M124.1 620.5h0M125.4 620.0h0M127.5 619.9h0M128.1 620.0h0M128.7 620.4h0M129.3 620.4h0M129.9 619.8h0M130.5 620.3h0M131.2 619.9h0M131.8 620.3h0M132.4 620.5h0M133.0 620.1h0M133.6 620.2h0M134.2 619.8h0M134.8 619.9h0M135.4 620.4h0M136.0 620.3h0M136.6 620.5h0M137.2 620.1h0M137.8 620.6h0M138.5 619.8h0M139.1 620.6h0M139.7 620.0h0M140.3 619.9h0M140.9 620.1h0M141.5 620.5h0M141.2 577.4h0M140.2 568.9h0M140.2 561.9h0M140.6 557.5h0M148.3 586.3h0M150.3 586.1h0M153.9 586.2h0M160.4 586.2h0M169.8 586.3h0M149.5 591.1h0M155.8 591.4h0M144.7 598.5h0M145.4 599.0h0M147.3 598.7h0M148.8 598.5h0M150.3 598.7h0M151.3 598.9h0M151.9 598.8h0M154.9 598.8h0M155.8 598.5h0M157.0 598.5h0M157.6 599.0h0M159.4 598.8h0M160.0 598.7h0M160.7 598.8h0M163.0 598.7h0M164.6 598.9h0M166.1 598.7h0M166.7 598.9h0M167.8 598.7h0M169.2 599.0h0M169.8 598.5h0M170.3 598.5h0M172.1 598.7h0M143.0 620.0h0M144.2 620.2h0M144.8 620.5h0M145.4 620.1h0M146.0 620.1h0M146.6 620.5h0M147.2 620.1h0M147.8 620.0h0M149.0 619.9h0M149.6 620.3h0M150.2 620.5h0M150.8 619.9h0M152.0 620.2h0M152.6 619.8h0M153.2 620.6h0M154.4 620.6h0M155.0 619.8h0M155.6 620.0h0M156.2 620.4h0M156.8 620.1h0M157.4 620.1h0M158.0 619.9h0M160.0 620.1h0M160.6 620.5h0M161.2 620.1h0M161.8 620.4h0M162.5 619.9h0M163.1 620.5h0M163.7 620.2h0M164.3 619.9h0M164.9 620.4h0M165.5 620.5h0M166.1 620.2h0M166.8 620.3h0M167.4 620.2h0M168.0 619.8h0M168.6 620.4h0M169.2 620.2h0M169.8 620.0h0M170.4 620.1h0M171.0 620.4h0M171.7 620.3h0M172.3 620.6h0M172.9 620.4h0M173.5 620.3h0M176.7 586.2h0M179.6 586.0h0M182.3 586.1h0M187.8 585.9h0M192.3 585.9h0M192.9 586.1h0M196.6 586.0h0M174.8 591.0h0M175.3 590.8h0M176.2 590.5h0M176.6 590.7h0M177.3 590.6h0M177.8 590.7h0M178.6 590.4h0M178.9 590.9h0M180.3 590.7h0M180.8 590.6h0M181.4 590.7h0M182.0 590.8h0M182.6 590.7h0M183.4 590.6h0M184.0 590.4h0M184.7 590.6h0M185.3 591.0h0M185.8 590.7h0M186.3 590.6h0M187.1 590.8h0M187.6 590.8h0M188.0 590.7h0M189.6 590.6h0M189.9 590.7h0M190.5 590.6h0M191.8 590.5h0M192.4 590.8h0M193.1 590.9h0M193.5 590.7h0M194.4 590.9h0M194.8 590.9h0M195.3 590.6h0M196.1 590.9h0M196.5 590.6h0M197.3 590.9h0M198.0 590.4h0M198.6 590.5h0M199.3 590.9h0M199.7 590.6h0M200.4 590.7h0M200.9 590.5h0M201.3 590.8h0M175.4 598.0h0M176.2 598.2h0M176.6 598.5h0M177.5 597.9h0M177.9 598.3h0M178.4 598.6h0M179.1 598.6h0M179.9 598.0h0M180.2 598.3h0M181.1 598.1h0M181.5 598.2h0M182.2 598.5h0M182.9 598.6h0M183.5 598.6h0M184.0 598.6h0M184.7 598.1h0M185.1 598.7h0M185.7 597.9h0M186.4 598.1h0M187.0 598.3h0M187.7 598.3h0M188.4 598.1h0M188.9 598.2h0M189.4 598.3h0M190.2 598.0h0M190.6 598.0h0M191.2 598.2h0M191.7 598.2h0M192.3 598.1h0M192.9 598.3h0M193.4 598.6h0M194.1 597.9h0M195.0 597.9h0M195.5 598.4h0M196.0 598.3h0M196.5 598.1h0M197.2 598.4h0M198.1 598.1h0M198.3 598.6h0M199.0 598.2h0M199.5 598.3h0M200.3 598.5h0M201.4 598.2h0M175.5 620.4h0M176.1 620.5h0M176.7 620.3h0M177.3 620.5h0M177.9 619.9h0M178.5 620.1h0M179.2 620.1h0M179.8 620.0h0M180.4 620.5h0M181.0 620.3h0M181.6 619.9h0M182.2 620.0h0M182.8 620.5h0M183.4 620.2h0M184.0 620.5h0M184.6 620.5h0M185.2 620.2h0M185.8 619.9h0M186.5 620.3h0M187.1 620.5h0M187.7 620.3h0M188.3 620.0h0M188.9 620.3h0M189.5 620.2h0M191.5 620.3h0M192.1 620.0h0M192.7 620.4h0M193.3 619.8h0M193.9 620.6h0M194.5 620.4h0M195.1 620.4h0M195.7 620.1h0M196.3 620.6h0M196.9 620.4h0M197.5 620.4h0M198.1 620.6h0M198.7 620.1h0M199.3 619.9h0M199.9 620.0h0M200.5 620.4h0M201.1 620.2h0M201.7 620.5h0M202.3 620.1h0M202.9 620.4h0M203.5 619.8h0M199.0 581.8h0M199.8 587.7h0M199.9 585.7h0M197.2 580.3h0M191.5 581.2h0M186.4 585.3h0M186.4 584.9h0M189.0 581.9h0M199.2 589.9h0M197.0 586.1h0M212.6 577.4h0M221.0 577.2h0M205.9 580.1h0M209.4 580.3h0M212.4 580.4h0M214.5 580.4h0M214.9 580.3h0M219.2 580.2h0M226.0 580.2h0M209.5 583.1h0M214.2 583.1h0M214.9 583.3h0M216.2 583.1h0M217.3 583.3h0M219.7 583.3h0M220.4 583.2h0M220.9 583.1h0M227.3 583.1h0M227.8 583.1h0M229.5 583.1h0M206.4 585.7h0M207.6 585.9h0M208.1 585.8h0M209.0 586.3h0M209.4 585.9h0M210.2 586.2h0M210.8 586.0h0M213.0 586.0h0M214.8 586.1h0M215.7 586.2h0M218.7 586.2h0M219.0 586.2h0M219.6 585.9h0M220.3 585.8h0M221.2 585.7h0M221.8 586.2h0M222.3 585.8h0M223.0 586.2h0M223.9 585.9h0M224.5 586.2h0M225.5 585.8h0M225.7 586.3h0M227.1 586.3h0M228.4 586.0h0M229.6 586.2h0M230.1 586.0h0M231.8 586.2h0M232.7 585.8h0M233.3 585.9h0M205.6 590.5h0M206.4 590.5h0M207.0 590.9h0M207.6 590.6h0M208.3 590.6h0M208.7 590.5h0M209.3 591.0h0M210.0 590.4h0M210.6 590.6h0M211.1 590.4h0M211.7 590.5h0M212.4 590.5h0M213.1 590.6h0M213.7 590.5h0M214.4 590.5h0M214.8 590.6h0M215.5 590.7h0M216.1 590.9h0M217.6 591.0h0M218.1 590.5h0M218.6 590.5h0M219.4 590.9h0M219.9 590.8h0M220.5 590.9h0M221.2 590.6h0M221.8 590.9h0M222.3 590.5h0M222.7 591.0h0M224.2 590.7h0M224.8 590.4h0M225.2 590.7h0M225.8 590.4h0M226.3 590.5h0M227.6 590.5h0M228.2 590.5h0M228.9 591.0h0M229.4 590.4h0M230.2 590.8h0M231.2 590.6h0M232.6 590.9h0M233.2 590.5h0M205.9 598.3h0M206.3 598.5h0M207.2 598.3h0M207.6 598.5h0M208.4 598.5h0M209.5 598.5h0M210.8 598.7h0M211.2 598.0h0M211.9 598.2h0M212.6 597.9h0M213.0 598.3h0M213.5 598.0h0M214.1 598.1h0M215.0 598.6h0M215.7 598.2h0M216.0 598.2h0M216.7 598.3h0M217.9 598.1h0M218.6 598.7h0M219.0 598.6h0M219.7 598.1h0M220.4 598.1h0M220.9 598.3h0M222.1 598.0h0M223.0 598.6h0M223.7 597.9h0M223.9 598.5h0M224.6 598.6h0M225.3 598.5h0M225.9 598.2h0M226.5 598.7h0M227.8 597.9h0M228.5 598.3h0M229.0 598.4h0M229.5 598.2h0M230.8 598.7h0M231.2 597.9h0M231.9 598.3h0M232.8 598.4h0M233.4 598.1h0M205.0 620.6h0M205.6 620.4h0M206.2 620.5h0M206.8 619.9h0M207.4 619.8h0M208.0 620.6h0M208.6 619.9h0M209.2 619.9h0M209.8 620.1h0M210.4 620.5h0M211.0 620.6h0M211.6 619.8h0M212.2 620.6h0M212.8 620.0h0M213.4 619.8h0M214.0 620.1h0M214.6 620.5h0M215.2 620.3h0M215.8 620.1h0M216.4 620.2h0M217.0 619.9h0M217.6 620.6h0M218.2 619.9h0M218.8 620.5h0M219.4 620.1h0M220.0 620.3h0M220.6 620.3h0M221.2 620.5h0M221.8 620.6h0M222.4 620.1h0M223.0 620.5h0M223.6 620.5h0M224.2 620.2h0M224.8 620.4h0M225.4 620.3h0M226.0 620.2h0M226.6 620.2h0M227.2 619.9h0M227.8 620.1h0M228.4 620.3h0M229.0 620.4h0M229.0 620.3h0M229.6 620.6h0M230.2 619.9h0M230.8 619.8h0M231.4 620.1h0M232.2 547.8h0M231.9 546.4h0M232.4 557.8h0M232.4 560.3h0M232.7 565.9h0M232.0 580.7h0M232.3 572.5h0M232.8 548.3h0M232.1 560.7h0M232.1 546.9h0M232.1 578.5h0M232.9 583.6h0M232.7 553.7h0M231.8 571.6h0M232.9 546.6h0M232.2 561.6h0M230.7 576.5h0M232.7 576.0h0M232.9 580.4h0M222.6 589.0h0M226.3 582.6h0M232.3 589.7h0M216.2 585.3h0M218.6 584.0h0M225.2 586.7h0M229.8 585.1h0M231.2 582.3h0M223.5 576.9h0M225.4 586.3h0M216.4 579.9h0M250.5 573.3h0M236.4 577.2h0M239.0 577.3h0M243.7 577.2h0M246.9 577.5h0M248.1 577.5h0M251.7 577.5h0M256.0 577.4h0M257.4 577.4h0M259.0 577.4h0M261.0 577.3h0M261.5 577.3h0M237.0 582.4h0M237.8 582.4h0M239.4 582.3h0M241.4 582.3h0M243.9 582.4h0M246.2 582.5h0M247.0 582.3h0M247.6 582.5h0M249.4 582.4h0M251.7 582.6h0M252.3 582.4h0M253.2 582.5h0M255.6 582.5h0M257.2 582.4h0M259.3 582.5h0M259.8 582.3h0M260.3 582.3h0M261.5 582.2h0M263.5 582.6h0M236.4 586.5h0M240.8 586.6h0M242.0 586.5h0M244.9 586.5h0M250.4 586.6h0M253.6 586.6h0M254.9 586.5h0M258.4 586.5h0M259.3 586.7h0M260.5 586.6h0M261.7 586.4h0M239.1 591.8h0M244.0 591.6h0M245.6 591.6h0M247.5 591.6h0M249.4 591.7h0M250.0 591.9h0M252.8 591.6h0M254.8 591.8h0M257.9 591.7h0M261.1 591.7h0M262.1 591.7h0M241.3 599.1h0M244.4 599.2h0M250.0 599.2h0M259.3 599.3h0M261.6 599.3h0M263.4 599.1h0M270.7 586.7h0M274.9 586.6h0M275.3 586.7h0M277.3 586.6h0M277.6 586.5h0M280.0 586.7h0M280.7 586.6h0M285.2 586.7h0M285.5 586.5h0M286.9 586.6h0M287.2 586.5h0M288.6 586.5h0M292.3 586.7h0M293.1 586.7h0M274.1 590.7h0M287.0 590.9h0M269.9 599.3h0M279.6 599.3h0M267.2 619.9h0M272.5 620.3h0M269.0 586.7h0M269.5 582.5h0M269.7 579.2h0M269.1 590.8h0M270.0 581.9h0M269.9 594.5h0M269.6 595.4h0M269.3 578.0h0M269.5 581.1h0M269.1 568.5h0M269.6 572.4h0M269.5 577.0h0M269.4 577.5h0M270.0 566.3h0M292.6 554.7h0M278.1 581.8h0M283.6 582.4h0M290.1 563.2h0M290.3 583.1h0M292.0 562.7h0M280.1 571.8h0M280.3 567.7h0M294.1 567.0h0M291.5 579.8h0M291.2 566.6h0M280.2 573.7h0M287.0 575.7h0M276.5 574.8h0M288.3 559.8h0M290.9 580.0h0M287.7 573.6h0M276.6 575.6h0M276.9 572.2h0M283.3 574.3h0M280.8 569.1h0M283.1 577.7h0M284.4 575.7h0M279.2 581.9h0M286.5 578.5h0M287.3 567.8h0M293.8 565.0h0M291.6 554.9h0M271.6 582.2h0M293.5 559.6h0M285.5 563.8h0M279.8 566.3h0M285.8 584.0h0M278.2 567.9h0M273.4 575.9h0M288.8 565.7h0M290.9 563.4h0M292.5 578.2h0M287.5 560.9h0M294.5 570.9h0M286.2 564.2h0M269.0 578.3h0M280.2 572.7h0M294.1 574.0h0M273.4 575.9h0M289.5 579.4h0M279.0 583.5h0M283.7 570.4h0M291.7 571.1h0M276.1 573.9h0M283.0 563.2h0M289.4 575.1h0M280.6 567.9h0M293.4 581.9h0M287.2 559.0h0M274.8 569.7h0M282.2 574.9h0M271.4 574.3h0M293.2 571.5h0M276.8 572.8h0M277.9 578.5h0M272.3 577.6h0M290.8 577.0h0M290.0 574.8h0M278.6 580.0h0M274.8 579.2h0M291.6 581.1h0M278.4 582.0h0M282.9 561.1h0M284.1 578.1h0M269.1 582.0h0M289.0 575.1h0M292.2 571.8h0M292.0 557.6h0M273.3 573.8h0M287.3 561.7h0M286.1 581.7h0M294.1 556.8h0M288.7 577.2h0M289.5 583.9h0M274.1 578.2h0M289.4 560.9h0M280.9 578.6h0M283.8 560.8h0M286.0 579.1h0M279.2 582.6h0M274.5 572.9h0M284.2 574.3h0M276.2 580.8h0M284.9 578.8h0M275.5 572.8h0M284.4 581.7h0M290.8 577.3h0M269.6 578.1h0M278.2 571.0h0M288.8 582.0h0M285.2 573.6h0M293.3 565.9h0M278.9 569.5h0M292.7 575.6h0M289.9 582.8h0M270.0 576.4h0M289.5 574.6h0M277.7 572.9h0M287.1 573.4h0M284.2 581.4h0M288.6 562.6h0M283.0 582.3h0M283.1 583.3h0M275.2 575.1h0M289.6 565.1h0M278.2 582.9h0M289.7 576.5h0M282.0 571.9h0M270.1 579.1h0M287.4 583.9h0M274.3 572.8h0M269.5 583.5h0M288.3 579.7h0M273.8 578.7h0M275.1 570.3h0M274.3 581.4h0M294.3 571.8h0M292.0 578.4h0M273.5 582.4h0M280.1 577.2h0M293.5 558.3h0M282.3 563.0h0M282.3 583.7h0M294.3 579.9h0M269.7 584.0h0M288.1 566.7h0M270.2 578.1h0M285.5 576.0h0M293.1 576.6h0M292.6 575.3h0M289.1 565.7h0M273.0 576.5h0M285.5 576.9h0M292.9 570.9h0M279.0 568.9h0M280.3 566.4h0M281.4 575.8h0M281.4 563.6h0M294.5 569.9h0M292.7 582.2h0M282.7 580.4h0M289.7 570.0h0M281.7 580.0h0M292.9 573.5h0M275.1 580.0h0M286.4 560.3h0M291.7 566.2h0M293.9 554.1h0M279.3 583.3h0M288.6 580.4h0M293.6 554.0h0M287.8 579.2h0M270.2 583.0h0M281.8 578.0h0M288.6 559.5h0M272.1 575.7h0M291.0 574.4h0M281.8 583.7h0M280.7 583.8h0M282.5 563.6h0M284.1 582.2h0M293.1 563.5h0M281.2 564.4h0M284.9 562.5h0M269.4 574.4h0M283.8 576.7h0M285.5 574.1h0M271.7 580.7h0M277.1 568.1h0M293.1 553.6h0M281.3 566.4h0M291.3 577.4h0M273.6 574.6h0M291.5 567.5h0M276.5 581.9h0M291.4 575.0h0M278.1 577.3h0M276.5 573.1h0M291.7 571.8h0M286.5 574.5h0M280.0 576.5h0M284.8 574.0h0M290.9 573.2h0M283.5 583.9h0M283.1 568.6h0M287.2 579.0h0M289.2 560.2h0M286.0 573.0h0M293.9 555.1h0M281.9 578.4h0M274.2 581.2h0M286.2 567.3h0M290.7 571.6h0M275.7 574.6h0M287.5 562.5h0M279.0 574.8h0M278.6 576.0h0M274.6 582.3h0M287.6 583.6h0M282.0 583.2h0M282.1 565.3h0M293.6 561.8h0M289.8 578.9h0M269.7 582.0h0M281.7 566.9h0M277.6 574.7h0M286.1 562.1h0M277.6 573.9h0M281.2 569.0h0M285.3 566.5h0M284.9 566.8h0M279.8 581.4h0M276.3 579.2h0M290.1 565.3h0M281.9 567.2h0M288.7 558.7h0M275.5 581.8h0M282.0 575.6h0M285.8 562.1h0M292.5 575.8h0M294.3 555.7h0M270.7 576.8h0M286.3 571.0h0M292.4 556.6h0M270.9 581.0h0M289.8 562.4h0M293.0 551.7h0M275.2 581.4h0M287.4 567.1h0M280.7 572.7h0M285.0 583.8h0M293.6 577.1h0M270.0 577.4h0M275.4 574.2h0M273.6 574.1h0M273.5 578.7h0M285.8 570.8h0M289.3 572.4h0M270.0 578.3h0M281.5 567.6h0M282.3 567.2h0M294.0 578.5h0M277.0 580.4h0M281.1 567.2h0M294.5 549.1h0M290.4 569.5h0M281.0 583.1h0M294.2 556.6h0M277.2 569.7h0M283.5 578.2h0M284.3 564.9h0M282.8 568.7h0M284.2 579.4h0M271.5 579.6h0M286.4 581.1h0M282.7 569.5h0M293.2 558.0h0M291.4 576.0h0M269.7 575.6h0M291.2 570.2h0M281.7 566.8h0M293.3 555.1h0M272.1 582.1h0M285.1 569.3h0M279.8 568.1h0M292.8 555.3h0M279.2 568.5h0M276.5 569.0h0M283.5 583.5h0M288.0 566.0h0M274.0 580.5h0M278.8 583.7h0M269.9 580.1h0M278.2 573.3h0M287.3 564.1h0M279.6 573.3h0M284.6 579.5h0M276.7 569.5h0M287.6 562.8h0M280.4 572.5h0M287.3 573.1h0M285.7 566.9h0M272.3 573.4h0M290.8 580.7h0M292.7 567.5h0M290.3 570.9h0M277.0 572.5h0M273.6 580.8h0M270.1 582.1h0M280.8 579.6h0M274.0 582.3h0M289.9 580.4h0M294.2 570.4h0M275.9 577.3h0M279.0 571.1h0M283.2 572.7h0M284.9 582.9h0M274.9 575.6h0M277.5 580.3h0M288.1 558.1h0M278.2 574.9h0M280.0 565.6h0M290.4 565.1h0M276.8 572.6h0M282.2 568.5h0M284.7 578.4h0M292.8 564.9h0M294.3 570.3h0M273.4 573.8h0M281.3 574.7h0M279.5 570.0h0M293.8 581.5h0M269.8 577.8h0M272.8 573.5h0M301.2 592.2h0M308.0 572.7h0M311.6 599.9h0M315.1 583.5h0M318.4 583.5h0M321.9 569.8h0M325.5 587.5h0M304.3 620.3h0M341.3 576.1h0M343.2 576.0h0M346.2 575.9h0M329.3 579.6h0M333.6 579.8h0M335.7 579.6h0M347.2 579.7h0M352.0 579.8h0M352.6 579.9h0M355.0 579.7h0M329.0 583.6h0M330.5 583.7h0M331.8 583.4h0M335.1 583.7h0M342.0 583.4h0M342.6 583.7h0M346.6 583.6h0M350.7 583.6h0M352.7 583.6h0M354.9 583.6h0M355.7 583.6h0M329.7 586.6h0M330.8 586.5h0M331.5 586.6h0M332.7 586.6h0M334.5 586.7h0M335.1 586.6h0M337.5 586.7h0M339.0 586.6h0M339.4 586.5h0M341.7 586.7h0M344.4 586.7h0M345.9 586.7h0M349.9 586.7h0M350.4 586.6h0M351.3 586.6h0M352.9 586.6h0M353.2 586.5h0M355.0 586.5h0M356.3 586.6h0M328.6 591.2h0M329.3 591.8h0M329.9 591.4h0M330.2 591.8h0M331.2 591.6h0M332.2 591.3h0M332.7 591.2h0M333.6 591.7h0M334.2 591.7h0M334.6 591.4h0M335.2 591.4h0M335.6 591.5h0M336.3 591.3h0M337.1 591.5h0M337.8 591.3h0M338.2 591.6h0M338.9 591.8h0M339.3 591.4h0M340.1 591.7h0M340.5 591.3h0M341.3 591.5h0M341.8 591.6h0M342.9 591.7h0M343.6 591.8h0M344.1 591.6h0M344.8 591.7h0M345.4 591.2h0M346.0 591.2h0M346.7 591.4h0M347.2 591.2h0M347.9 591.4h0M348.3 591.7h0M349.1 591.5h0M349.6 591.6h0M350.1 591.8h0M351.0 591.6h0M351.6 591.8h0M352.2 591.8h0M352.5 591.2h0M353.1 591.2h0M353.9 591.2h0M354.4 591.8h0M355.2 591.8h0M356.5 591.6h0M328.5 599.5h0M329.3 599.1h0M329.8 599.8h0M330.6 599.2h0M331.1 599.2h0M331.5 599.8h0M332.1 599.7h0M332.9 599.6h0M333.3 599.8h0M334.7 599.3h0M335.4 599.1h0M336.0 599.2h0M336.5 599.7h0M336.8 599.1h0M337.6 599.4h0M338.4 599.2h0M339.0 599.5h0M339.9 599.0h0M340.7 599.2h0M342.0 599.6h0M342.5 599.8h0M343.0 599.8h0M343.8 599.4h0M344.4 599.4h0M344.7 599.1h0M345.5 599.2h0M345.9 599.5h0M346.8 599.8h0M347.1 599.2h0M348.1 599.2h0M348.5 599.7h0M349.3 599.3h0M349.8 599.0h0M350.2 599.4h0M350.9 599.8h0M351.3 599.3h0M352.0 599.4h0M352.7 599.1h0M353.4 599.4h0M354.0 599.1h0M355.1 599.7h0M355.6 599.7h0M356.4 599.5h0M328.3 620.4h0M328.9 620.0h0M329.5 620.0h0M330.1 620.4h0M330.7 620.4h0M331.4 620.4h0M332.0 620.0h0M332.6 620.1h0M333.2 620.5h0M333.8 620.1h0M334.4 620.2h0M335.0 620.2h0M335.6 620.2h0M336.2 620.0h0M336.8 620.2h0M337.4 620.4h0M338.1 620.1h0M338.7 620.1h0M339.3 620.3h0M339.9 620.6h0M340.5 619.9h0M342.0 619.9h0M342.6 620.2h0M343.2 620.2h0M343.8 620.4h0M344.5 619.9h0M345.1 620.1h0M345.7 620.5h0M346.3 620.1h0M346.9 620.4h0M347.5 620.1h0M348.2 620.5h0M348.8 620.2h0M349.4 620.3h0M350.0 619.9h0M355.4 584.8h0M356.0 586.6h0M355.7 571.3h0M355.3 561.1h0M355.6 570.6h0M355.4 585.5h0M355.8 589.6h0M355.9 574.1h0M355.9 589.0h0M355.3 558.4h0M355.4 580.5h0M355.7 583.0h0M350.6 576.4h0M346.2 578.2h0M342.5 586.1h0M344.8 583.3h0M355.9 578.3h0M354.6 583.3h0M346.4 581.3h0M347.4 579.8h0M337.8 584.9h0M355.2 581.1h0M361.6 576.6h0M364.4 576.7h0M366.4 576.6h0M382.7 576.5h0M363.5 580.7h0M364.0 580.8h0M367.1 580.8h0M369.2 580.8h0M370.0 580.7h0M370.6 580.6h0M376.5 580.7h0M379.2 580.7h0M381.4 580.5h0M382.6 580.8h0M383.9 580.9h0M365.9 583.5h0M371.7 583.8h0M376.1 583.6h0M385.7 583.5h0M361.6 586.7h0M362.2 586.6h0M362.9 586.8h0M363.5 586.4h0M364.4 586.6h0M365.0 586.6h0M367.0 586.7h0M369.0 586.7h0M369.9 586.7h0M371.0 586.5h0M371.9 586.5h0M373.7 586.5h0M376.2 586.6h0M378.4 586.5h0M379.6 586.6h0M382.0 586.6h0M385.6 586.5h0M360.8 590.8h0M361.7 590.7h0M362.2 590.8h0M362.9 590.7h0M363.2 591.2h0M363.8 590.7h0M364.7 591.1h0M365.1 590.9h0M365.8 590.9h0M366.5 591.2h0M367.1 590.8h0M368.2 591.3h0M368.6 591.1h0M369.5 591.1h0M370.0 591.0h0M371.3 590.7h0M372.0 590.9h0M372.3 590.8h0M373.1 591.1h0M375.4 591.2h0M376.2 591.1h0M376.5 591.1h0M377.4 590.8h0M378.1 590.7h0M378.5 591.1h0M379.0 590.8h0M379.9 591.3h0M380.2 591.1h0M380.9 590.9h0M381.7 591.0h0M382.1 591.3h0M383.4 591.1h0M384.1 590.8h0M384.6 591.3h0M385.1 591.1h0M386.4 591.1h0M360.2 599.5h0M360.7 599.1h0M361.6 599.6h0M362.0 599.6h0M362.9 599.6h0M363.2 599.1h0M364.6 599.6h0M365.1 599.2h0M365.9 599.2h0M367.0 599.3h0M367.5 599.6h0M368.7 599.4h0M369.5 599.6h0M370.0 599.7h0M370.4 599.3h0M371.3 599.4h0M371.9 599.5h0M372.4 599.1h0M372.9 599.7h0M374.3 599.3h0M374.8 599.6h0M375.4 599.7h0M376.3 599.4h0M376.7 599.1h0M377.9 599.2h0M378.4 599.1h0M379.2 599.5h0M379.7 599.3h0M380.2 599.4h0M380.8 599.7h0M381.7 599.2h0M382.3 599.4h0M382.8 599.6h0M383.2 599.4h0M384.0 599.3h0M385.0 599.1h0M359.3 620.6h0M360.3 620.5h0M365.3 620.0h0M366.3 620.2h0M375.7 577.0h0M384.7 578.3h0M375.2 579.9h0M382.3 583.9h0M383.7 578.0h0M373.9 582.4h0M379.8 583.5h0M375.4 585.4h0M405.4 573.5h0M412.0 573.3h0M413.9 575.1h0M417.7 575.4h0M392.8 578.9h0M397.4 578.9h0M412.2 579.0h0M412.7 579.1h0M393.5 582.7h0M395.6 582.9h0M397.2 582.8h0M398.1 583.0h0M398.5 582.7h0M399.7 583.0h0M400.2 582.8h0M402.1 582.7h0M404.2 582.7h0M404.7 582.8h0M405.7 582.7h0M406.9 582.6h0M410.2 582.9h0M410.6 582.7h0M412.4 582.7h0M413.3 582.9h0M413.6 582.8h0M414.2 582.7h0M415.0 582.8h0M416.3 582.7h0M416.6 582.6h0M417.3 583.0h0M418.1 582.7h0M390.5 586.3h0M390.9 586.3h0M391.7 585.9h0M391.9 586.4h0M392.9 585.9h0M393.3 586.1h0M394.0 586.3h0M394.4 585.9h0M395.0 586.3h0M395.8 585.9h0M396.3 585.9h0M396.9 586.0h0M397.5 586.0h0M398.1 586.1h0M398.6 586.0h0M399.2 586.3h0M400.0 586.3h0M400.6 586.4h0M401.2 586.1h0M401.9 586.4h0M402.2 585.9h0M403.1 586.2h0M403.8 586.4h0M404.3 585.9h0M405.0 586.4h0M405.2 585.9h0M405.8 586.2h0M406.7 586.3h0M407.1 586.2h0M407.7 586.0h0M408.6 586.1h0M409.2 585.9h0M409.5 586.4h0M410.2 585.9h0M410.7 585.8h0M411.3 586.1h0M411.9 586.2h0M412.6 585.9h0M413.4 586.0h0M413.9 586.1h0M414.4 586.3h0M415.0 586.0h0M415.5 586.0h0M416.3 585.9h0M416.8 586.1h0M417.4 586.2h0M390.3 591.2h0M391.0 591.3h0M391.6 591.6h0M392.0 591.5h0M392.6 591.1h0M393.3 591.3h0M394.0 591.1h0M394.3 591.3h0M395.2 591.5h0M395.6 591.7h0M396.3 591.4h0M396.9 591.1h0M397.4 591.4h0M398.1 591.7h0M398.9 591.7h0M399.5 591.1h0M399.8 591.5h0M400.7 591.4h0M401.1 591.2h0M401.7 591.3h0M402.5 591.7h0M403.1 591.1h0M403.5 591.7h0M404.2 591.7h0M404.9 591.4h0M405.4 591.7h0M406.0 591.0h0M406.6 591.2h0M407.1 591.3h0M408.4 591.7h0M408.9 591.1h0M409.8 591.1h0M410.3 591.6h0M411.0 591.4h0M411.4 591.6h0M411.9 591.2h0M412.8 591.3h0M413.3 591.1h0M413.7 591.7h0M414.7 591.2h0M415.1 591.7h0M415.9 591.7h0M416.2 591.5h0M417.0 591.5h0M417.4 591.5h0M390.2 599.5h0M390.9 599.4h0M392.0 599.5h0M392.8 599.5h0M393.2 598.9h0M393.9 599.0h0M394.7 598.9h0M395.0 598.9h0M395.7 599.0h0M396.3 599.1h0M397.1 599.5h0M397.4 599.5h0M398.3 599.5h0M398.6 599.5h0M399.4 599.0h0M399.9 598.9h0M400.4 599.1h0M401.0 599.6h0M401.9 599.1h0M402.5 599.1h0M402.9 599.1h0M403.5 599.5h0M404.9 599.0h0M405.3 599.3h0M406.0 599.0h0M406.5 599.0h0M407.3 599.1h0M407.7 599.6h0M408.6 599.2h0M409.2 599.5h0M409.6 599.3h0M410.3 598.9h0M411.0 599.2h0M411.4 599.1h0M412.0 599.1h0M412.7 598.9h0M413.4 599.3h0M414.0 599.5h0M414.5 599.1h0M415.1 599.6h0M415.6 599.0h0M416.4 599.3h0M416.9 599.2h0M417.3 599.0h0M390.0 620.6h0M390.6 620.3h0M391.8 620.5h0M393.6 620.4h0M394.2 619.9h0M394.8 619.8h0M396.6 620.6h0M397.2 620.6h0M397.8 620.0h0M398.4 620.4h0M399.0 620.5h0M399.6 620.3h0M400.2 620.0h0M400.8 620.5h0M401.4 620.1h0M402.0 619.9h0M402.6 620.2h0M404.4 620.0h0M405.0 620.0h0M405.6 620.2h0M406.2 619.9h0M406.8 619.8h0M407.4 620.6h0M408.0 620.2h0M408.6 620.6h0M409.2 620.2h0M409.8 620.1h0M410.4 620.0h0M411.0 620.4h0M411.6 620.2h0M412.2 620.1h0M412.8 620.5h0M413.4 619.8h0M414.0 620.2h0M414.6 620.5h0M417.2 575.5h0M417.0 566.2h0M417.0 575.1h0M417.0 578.9h0M417.5 576.1h0M417.6 567.5h0M414.8 577.8h0M416.9 583.0h0M411.8 582.1h0M416.6 573.6h0M409.1 584.5h0M409.0 586.1h0M411.4 580.8h0M416.5 576.5h0M411.6 578.1h0M415.9 587.4h0M415.5 585.4h0M410.0 584.5h0M424.6 578.5h0M425.7 578.5h0M428.1 578.3h0M429.9 578.4h0M431.8 578.4h0M434.2 578.6h0M448.5 578.4h0M420.8 582.4h0M421.5 582.8h0M422.1 582.7h0M424.5 582.8h0M425.6 582.9h0M426.4 582.8h0M428.0 582.9h0M428.5 582.5h0M434.6 582.5h0M435.4 582.9h0M436.5 582.4h0M437.2 582.8h0M437.8 582.9h0M438.3 582.6h0M439.6 582.7h0M442.5 583.0h0M443.2 582.5h0M445.0 582.7h0M446.8 582.5h0M421.6 586.7h0M422.1 586.7h0M422.5 587.0h0M423.4 586.7h0M423.7 586.6h0M424.2 586.6h0M425.6 587.0h0M426.3 586.7h0M426.7 587.1h0M428.2 586.5h0M428.5 587.1h0M429.7 587.1h0M430.3 587.0h0M431.0 586.8h0M431.5 586.6h0M432.2 586.9h0M433.4 586.7h0M434.6 586.6h0M435.2 586.7h0M436.0 586.7h0M436.6 586.8h0M437.1 586.7h0M437.6 587.1h0M440.2 586.6h0M441.2 586.8h0M442.0 586.9h0M443.0 586.5h0M443.9 587.0h0M444.1 586.9h0M445.0 586.6h0M445.6 586.6h0M446.0 586.5h0M446.7 586.8h0M448.1 586.6h0M448.4 586.9h0M420.8 591.5h0M421.5 591.6h0M421.8 591.3h0M422.7 591.2h0M423.4 591.6h0M423.7 591.2h0M424.6 591.6h0M425.0 591.5h0M425.8 591.4h0M426.2 591.4h0M426.8 591.2h0M427.6 591.5h0M427.8 591.7h0M428.6 591.8h0M429.1 591.5h0M429.7 591.8h0M430.3 591.6h0M431.2 591.3h0M431.6 591.3h0M432.4 591.6h0M433.0 591.6h0M433.4 591.5h0M434.1 591.6h0M434.6 591.6h0M435.1 591.8h0M435.9 591.5h0M436.5 591.4h0M437.1 591.8h0M438.3 591.8h0M438.7 591.7h0M439.3 591.3h0M439.9 591.7h0M440.7 591.6h0M441.2 591.2h0M441.7 591.3h0M442.4 591.3h0M443.1 591.7h0M443.5 591.5h0M444.2 591.6h0M445.0 591.2h0M445.3 591.8h0M446.0 591.5h0M446.5 591.2h0M447.3 591.4h0M448.0 591.3h0M448.6 591.3h0M420.9 599.7h0M421.6 599.6h0M421.9 599.9h0M422.6 600.0h0M423.1 599.7h0M423.8 599.4h0M424.3 600.1h0M425.1 599.7h0M425.4 599.9h0M426.2 599.8h0M426.9 599.4h0M427.5 599.7h0M428.1 599.6h0M428.8 600.0h0M429.3 600.0h0M429.7 599.5h0M430.4 599.8h0M431.1 600.2h0M431.5 599.5h0M432.3 600.1h0M432.9 599.8h0M433.4 599.4h0M434.5 599.6h0M435.3 599.9h0M435.7 599.7h0M436.4 600.1h0M437.2 600.0h0M437.6 600.0h0M438.4 599.7h0M438.9 599.7h0M439.5 599.9h0M440.2 599.7h0M440.8 599.5h0M441.5 599.5h0M441.8 599.7h0M443.1 600.1h0M443.6 600.0h0M444.2 600.1h0M445.5 600.1h0M446.3 600.1h0M446.6 599.9h0M447.5 599.7h0M447.9 599.7h0M419.2 620.1h0M419.8 620.4h0M420.4 620.4h0M421.0 619.9h0M421.6 619.9h0M422.2 619.9h0M422.8 620.2h0M423.4 620.5h0M424.0 620.3h0M424.6 619.8h0M425.2 620.2h0M425.8 620.2h0M426.4 620.1h0M427.0 620.6h0M427.6 620.3h0M428.2 620.0h0M428.8 620.3h0M429.4 619.8h0M430.0 619.9h0M430.6 620.3h0M431.2 620.3h0M431.8 620.0h0M432.4 620.5h0M433.0 620.5h0M433.6 620.3h0M434.2 619.9h0M434.9 620.1h0M435.5 620.1h0M436.1 619.9h0M436.7 620.0h0M437.3 620.5h0M437.9 619.9h0M438.5 620.1h0M439.1 620.1h0M439.7 620.4h0M440.3 620.4h0M440.9 620.1h0M441.5 619.9h0M442.1 619.8h0M442.7 620.1h0M443.3 620.0h0M443.9 620.1h0M444.5 619.9h0M445.1 620.1h0M445.7 620.4h0M446.3 620.1h0M446.9 620.5h0M447.5 619.9h0M448.1 620.0h0M448.7 620.6h0M449.3 619.9h0M432.4 577.7h0M447.7 580.6h0M447.8 589.7h0M444.3 586.3h0M443.1 578.5h0M428.6 579.3h0M432.7 580.4h0M447.6 584.7h0M436.2 580.3h0M437.5 576.9h0M444.0 581.7h0M439.0 578.2h0M453.1 565.8h0M455.0 569.8h0M456.9 576.1h0M462.3 574.3h0M460.5 587.2h0M464.2 592.3h0M466.0 568.9h0M467.8 583.7h0M469.4 572.8h0M471.2 580.8h0M473.0 570.0h0M474.9 572.8h0M476.8 578.2h0M478.6 572.8h0M503.8 575.6h0M506.2 575.4h0M508.6 575.6h0M511.1 575.5h0M494.5 578.6h0M495.2 578.4h0M495.9 578.3h0M496.4 578.5h0M503.6 578.5h0M504.9 578.5h0M505.7 578.5h0M506.1 578.4h0M507.9 578.4h0M508.5 578.6h0M490.6 582.2h0M493.6 582.0h0M494.1 582.2h0M494.7 582.1h0M495.6 582.4h0M495.9 582.2h0M497.2 582.4h0M498.6 582.0h0M501.0 582.3h0M502.6 582.3h0M503.3 582.2h0M503.7 582.2h0M504.2 582.3h0M506.1 582.0h0M506.7 582.2h0M507.4 582.2h0M509.2 582.3h0M509.6 582.1h0M510.6 582.1h0M485.9 585.5h0M488.9 585.4h0M489.8 585.7h0M490.1 585.3h0M491.0 585.6h0M491.4 585.9h0M492.1 585.6h0M492.6 585.4h0M493.2 585.4h0M493.7 585.5h0M494.8 585.8h0M495.4 585.7h0M496.1 585.6h0M496.6 585.8h0M497.3 585.9h0M498.0 585.7h0M498.6 585.8h0M499.9 585.4h0M500.6 585.4h0M501.5 585.3h0M502.2 585.5h0M502.7 585.8h0M504.8 585.4h0M506.6 585.4h0M507.7 585.4h0M509.3 585.8h0M509.8 585.8h0M484.2 591.0h0M484.7 591.1h0M485.9 591.0h0M486.4 591.3h0M487.5 591.2h0M488.2 590.8h0M488.7 590.8h0M489.6 590.9h0M490.1 591.2h0M490.7 591.2h0M491.3 591.1h0M492.0 590.7h0M492.7 591.3h0M493.2 591.3h0M493.9 590.9h0M494.3 590.9h0M494.8 591.2h0M495.8 591.3h0M496.3 590.9h0M496.9 590.8h0M497.2 591.0h0M498.7 590.9h0M499.2 591.3h0M499.8 590.8h0M500.5 591.0h0M501.0 591.3h0M501.6 591.1h0M502.1 590.8h0M503.4 590.8h0M504.3 590.7h0M504.9 591.2h0M505.3 591.0h0M505.8 591.1h0M506.6 591.1h0M507.1 591.0h0M507.6 590.8h0M508.3 590.9h0M509.1 591.0h0M483.8 599.1h0M484.7 599.4h0M485.2 599.2h0M485.6 598.9h0M486.4 599.4h0M487.2 599.0h0M487.8 598.9h0M488.4 599.1h0M489.0 598.8h0M489.6 599.2h0M489.9 599.0h0M490.7 598.8h0M491.2 598.9h0M492.0 599.2h0M492.4 598.7h0M493.8 598.8h0M494.4 599.3h0M494.9 599.4h0M495.4 599.0h0M496.0 599.4h0M496.7 599.1h0M497.4 599.1h0M497.9 599.1h0M498.5 599.3h0M499.0 599.3h0M499.8 599.0h0M500.9 599.2h0M501.5 599.2h0M503.4 599.1h0M504.0 599.2h0M504.5 598.9h0M505.1 599.4h0M505.9 599.3h0M506.6 599.1h0M506.8 598.9h0M481.6 620.2h0M482.2 620.0h0M482.8 620.6h0M483.4 619.8h0M484.0 619.9h0M485.2 620.6h0M485.8 620.1h0M486.4 619.8h0M487.0 620.0h0M487.6 620.0h0M488.2 620.1h0M488.8 619.9h0M489.4 620.2h0M490.0 620.1h0M490.6 620.5h0M491.2 620.6h0M492.4 620.2h0M493.0 620.3h0M493.6 620.4h0M494.2 620.5h0M496.0 620.2h0M506.4 580.0h0M506.0 574.0h0M495.6 581.0h0M504.2 579.3h0M510.3 579.6h0M509.6 571.0h0M500.9 578.2h0M505.4 579.6h0M508.5 580.2h0M502.2 583.5h0M509.8 581.4h0M506.9 573.0h0M506.8 578.3h0M502.4 579.2h0M509.4 564.8h0M506.1 572.5h0M507.7 568.6h0M507.9 568.4h0M506.9 584.4h0M503.2 570.7h0M509.3 578.6h0M510.4 564.9h0M508.9 580.9h0M509.4 562.5h0M508.7 566.0h0M497.8 581.4h0M505.5 578.7h0M500.3 581.0h0M508.1 580.9h0M503.4 573.2h0M504.6 586.0h0M504.4 583.6h0M506.9 573.2h0M508.5 565.3h0M501.0 576.2h0M500.8 579.8h0M507.5 565.5h0M496.0 581.5h0M501.2 584.3h0M510.4 570.5h0M503.4 584.1h0M508.1 583.5h0M506.7 570.9h0M504.7 575.6h0M498.3 584.4h0M506.8 577.8h0M501.7 578.6h0M493.8 582.2h0M505.0 580.7h0M510.0 577.6h0M510.0 579.2h0M510.4 562.2h0M504.2 581.2h0M508.7 560.5h0M506.3 580.6h0M510.0 557.1h0M495.0 582.3h0M504.0 578.3h0M509.6 563.5h0M506.7 577.6h0M506.0 574.3h0M505.9 574.7h0M502.2 576.7h0M503.2 577.2h0M499.0 576.2h0M506.5 572.5h0M500.7 577.5h0M509.5 576.4h0M506.7 585.9h0M507.7 585.8h0" stroke="#ff1010" stroke-width="1.75" stroke-linecap="round" fill="none"/>
<path d="M67.34 454V457.5M67.34 620.3V623.3M98.02 454V457.5M98.02 620.3V623.3M128.70 454V457.5M128.70 620.3V623.3M159.38 454V457.5M159.38 620.3V623.3M190.06 454V457.5M190.06 620.3V623.3M220.74 454V457.5M220.74 620.3V623.3M251.42 454V457.5M251.42 620.3V623.3M282.10 454V457.5M282.10 620.3V623.3M312.78 454V457.5M312.78 620.3V623.3M343.46 454V457.5M343.46 620.3V623.3M374.14 454V457.5M374.14 620.3V623.3M404.82 454V457.5M404.82 620.3V623.3M435.50 454V457.5M435.50 620.3V623.3M466.18 454V457.5M466.18 620.3V623.3M496.86 454V457.5M496.86 620.3V623.3" stroke="#333" stroke-width="0.8" fill="none"/>
<path d="M48.7 619.70H52M50.2 609.96H52M50.2 604.26H52M50.2 600.22H52M50.2 597.08H52M50.2 594.52H52M50.2 592.35H52M50.2 590.48H52M50.2 588.82H52M48.7 587.34H52M50.2 577.60H52M50.2 571.90H52M50.2 567.86H52M50.2 564.72H52M50.2 562.16H52M50.2 559.99H52M50.2 558.12H52M50.2 556.46H52M48.7 554.98H52M50.2 545.24H52M50.2 539.54H52M50.2 535.50H52M50.2 532.36H52M50.2 529.80H52M50.2 527.63H52M50.2 525.76H52M50.2 524.10H52M48.7 522.62H52M50.2 512.88H52M50.2 507.18H52M50.2 503.14H52M50.2 500.00H52M50.2 497.44H52M50.2 495.27H52M50.2 493.40H52M50.2 491.74H52M48.7 490.26H52M50.2 480.52H52M50.2 474.82H52M50.2 470.78H52M50.2 467.64H52M50.2 465.08H52M50.2 462.91H52M50.2 461.04H52M50.2 459.38H52M48.7 457.90H52" stroke="#333" stroke-width="0.6" fill="none"/>
<text transform="translate(43.00 622.00) scale(1.25 1)" font-size="6.5" text-anchor="end" font-weight="normal" font-style="normal" fill="#111">10</text>
<text x="43.20" y="619.50" font-size="3.6" text-anchor="start" font-weight="normal" font-style="normal" fill="#111" >−2</text>
<text transform="translate(43.00 589.64) scale(1.25 1)" font-size="6.5" text-anchor="end" font-weight="normal" font-style="normal" fill="#111">10</text>
<text x="43.20" y="587.14" font-size="3.6" text-anchor="start" font-weight="normal" font-style="normal" fill="#111" >−1</text>
<text transform="translate(43.00 557.28) scale(1.25 1)" font-size="6.5" text-anchor="end" font-weight="normal" font-style="normal" fill="#111">10</text>
<text x="43.20" y="554.78" font-size="3.6" text-anchor="start" font-weight="normal" font-style="normal" fill="#111" >0</text>
<text transform="translate(43.00 524.92) scale(1.25 1)" font-size="6.5" text-anchor="end" font-weight="normal" font-style="normal" fill="#111">10</text>
<text x="43.20" y="522.42" font-size="3.6" text-anchor="start" font-weight="normal" font-style="normal" fill="#111" >1</text>
<text transform="translate(43.00 492.56) scale(1.25 1)" font-size="6.5" text-anchor="end" font-weight="normal" font-style="normal" fill="#111">10</text>
<text x="43.20" y="490.06" font-size="3.6" text-anchor="start" font-weight="normal" font-style="normal" fill="#111" >2</text>
<text transform="translate(43.00 460.20) scale(1.25 1)" font-size="6.5" text-anchor="end" font-weight="normal" font-style="normal" fill="#111">10</text>
<text x="43.20" y="457.70" font-size="3.6" text-anchor="start" font-weight="normal" font-style="normal" fill="#111" >3</text>
<text x="0.00" y="0.00" font-size="9.2" text-anchor="middle" font-weight="normal" font-style="normal" fill="#111" transform="translate(29.2 539.2) rotate(-90)" textLength="97" lengthAdjust="spacingAndGlyphs" stroke="#111" stroke-width="0.2">Coding mutations/ Mb per sample</text>
<text transform="translate(66.81 630.27) rotate(-45) scale(0.97 1)" font-size="7.0" text-anchor="end" fill="#1a1a1a" stroke="#1a1a1a" stroke-width="0.22"><tspan x="0" y="0.00">Thyroid</tspan><tspan x="0" y="8.30">carcinoma</tspan></text>
<text transform="translate(97.49 630.27) rotate(-45) scale(0.97 1)" font-size="7.0" text-anchor="end" fill="#1a1a1a" stroke="#1a1a1a" stroke-width="0.22"><tspan x="0" y="0.00">Chronic</tspan><tspan x="0" y="8.30">lymphoid leukemia</tspan></text>
<text transform="translate(128.17 630.27) rotate(-45) scale(0.97 1)" font-size="7.0" text-anchor="end" fill="#1a1a1a" stroke="#1a1a1a" stroke-width="0.22"><tspan x="0" y="0.00">Low grade</tspan><tspan x="0" y="8.30">glioma</tspan></text>
<text transform="translate(158.85 630.27) rotate(-45) scale(0.97 1)" font-size="7.0" text-anchor="end" fill="#1a1a1a" stroke="#1a1a1a" stroke-width="0.22"><tspan x="0" y="0.00">Kidney renal papillary</tspan><tspan x="0" y="8.30">cell carcinoma</tspan></text>
<text transform="translate(189.53 630.27) rotate(-45) scale(0.97 1)" font-size="7.0" text-anchor="end" fill="#1a1a1a" stroke="#1a1a1a" stroke-width="0.22"><tspan x="0" y="0.00">Kidney renal clear</tspan><tspan x="0" y="8.30">cell carcinoma</tspan></text>
<text transform="translate(222.81 630.27) rotate(-45) scale(0.97 1)" font-size="7.0" text-anchor="end" fill="#1a1a1a" stroke="#1a1a1a" stroke-width="0.22"><tspan x="0" y="0.00">Glioblastoma</tspan></text>
<text transform="translate(250.89 630.27) rotate(-45) scale(0.97 1)" font-size="7.0" text-anchor="end" fill="#1a1a1a" stroke="#1a1a1a" stroke-width="0.22"><tspan x="0" y="0.00">Uterine</tspan><tspan x="0" y="8.30">carcinosarcoma</tspan></text>
<text transform="translate(281.57 630.27) rotate(-45) scale(0.97 1)" font-size="7.0" text-anchor="end" fill="#1a1a1a" stroke="#1a1a1a" stroke-width="0.22"><tspan x="0" y="0.00">Diffuse large</tspan><tspan x="0" y="8.30">B-cell lymphoma</tspan></text>
<text transform="translate(308.78 630.27) rotate(-45) scale(0.97 1)" font-size="7.0" text-anchor="end" fill="#d03a35" stroke="#d03a35" stroke-width="0.22"><tspan x="0" y="0.00">Classical hodgkin</tspan><tspan x="0" y="8.30">lymphoma</tspan><tspan x="0" y="16.60">EBV positive</tspan></text>
<text transform="translate(342.93 630.27) rotate(-45) scale(0.97 1)" font-size="7.0" text-anchor="end" fill="#1a1a1a" stroke="#1a1a1a" stroke-width="0.22"><tspan x="0" y="0.00">Stomach</tspan><tspan x="0" y="8.30">adenocarcinoma</tspan></text>
<text transform="translate(373.61 630.27) rotate(-45) scale(0.97 1)" font-size="7.0" text-anchor="end" fill="#1a1a1a" stroke="#1a1a1a" stroke-width="0.22"><tspan x="0" y="0.00">Urothelial bladder</tspan><tspan x="0" y="8.30">carcinoma</tspan></text>
<text transform="translate(404.29 630.27) rotate(-45) scale(0.97 1)" font-size="7.0" text-anchor="end" fill="#1a1a1a" stroke="#1a1a1a" stroke-width="0.22"><tspan x="0" y="0.00">Lung</tspan><tspan x="0" y="8.30">adenocarcinoma</tspan></text>
<text transform="translate(434.97 630.27) rotate(-45) scale(0.97 1)" font-size="7.0" text-anchor="end" fill="#1a1a1a" stroke="#1a1a1a" stroke-width="0.22"><tspan x="0" y="0.00">Lung squamous</tspan><tspan x="0" y="8.30">cell carcinoma</tspan></text>
<text transform="translate(462.18 630.27) rotate(-45) scale(0.97 1)" font-size="7.0" text-anchor="end" fill="#d03a35" stroke="#d03a35" stroke-width="0.22"><tspan x="0" y="0.00">Classical hodgkin</tspan><tspan x="0" y="8.30">lymphoma</tspan><tspan x="0" y="16.60">EBV negative</tspan></text>
<text transform="translate(499.13 630.27) rotate(-45) scale(0.97 1)" font-size="7.0" text-anchor="end" fill="#1a1a1a" stroke="#1a1a1a" stroke-width="0.22"><tspan x="0" y="0.00">Skin cutaneous</tspan><tspan x="0" y="8.30">melanoma</tspan></text>
</svg>
<div class="frame"></div><div class="frame2"></div>
</body></html>
